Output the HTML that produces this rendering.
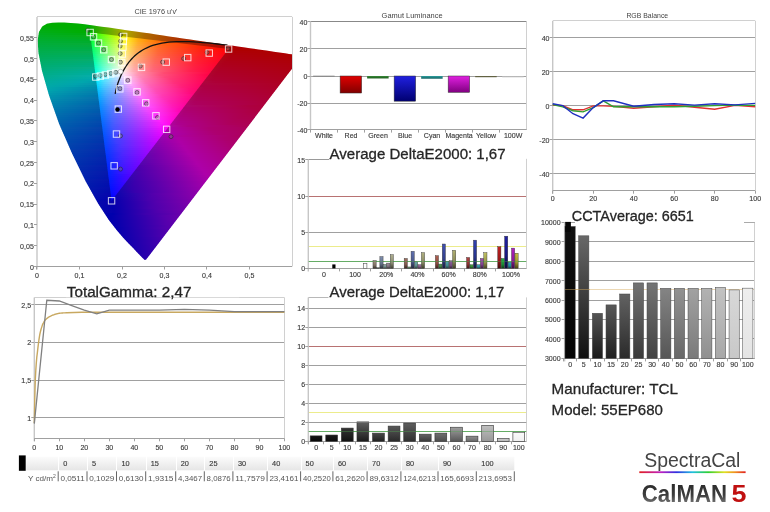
<!DOCTYPE html>
<html><head><meta charset="utf-8"><style>
html,body{margin:0;padding:0;background:#fff;width:770px;height:512px;overflow:hidden}
svg{display:block;will-change:transform}
text{font-family:'Liberation Sans', sans-serif}
</style></head><body>
<svg width="770" height="512" viewBox="0 0 770 512"><defs><clipPath id="cloc"><path d="M146.14,259.60 L146.07,259.60 L145.98,259.73 L145.84,259.73 L145.67,259.87 L145.46,259.87 L145.18,259.87 L144.82,259.88 L144.19,259.48 L143.09,258.54 L141.60,257.09 L139.45,254.87 L136.74,251.94 L133.32,248.33 L128.83,243.64 L123.42,237.89 L116.78,230.26 L108.81,219.93 L98.23,203.69 L85.74,181.48 L72.20,153.84 L59.16,123.94 L48.97,95.24 L42.05,71.05 L38.48,53.06 L37.61,40.54 L38.97,31.94 L42.22,26.48 L46.82,23.69 L52.30,22.66 L58.28,22.41 L64.34,22.51 L70.67,22.88 L77.49,23.51 L84.90,24.36 L93.04,25.41 L102.07,26.64 L112.05,28.06 L123.10,29.64 L135.25,31.42 L148.50,33.36 L162.78,35.45 L177.90,37.65 L193.43,39.94 L208.48,42.14 L223.13,44.28 L236.40,46.20 L248.13,47.93 L258.11,49.39 L266.47,50.61 L273.51,51.64 L279.62,52.54 L284.79,53.30 L288.97,53.89 L292.21,54.37 L294.74,54.74 L296.62,55.02 L297.86,55.20 L298.87,55.35 L299.66,55.46 L300.46,55.58 L301.14,55.68 L301.60,55.75 L301.83,55.78 L301.94,55.80 Z"/></clipPath><clipPath id="cplot"><rect x="37.0" y="16.9" width="255.0" height="249.6"/></clipPath><clipPath id="ctri"><path d="M228.55,48.98 L90.12,32.50 L111.56,200.82 Z"/></clipPath><linearGradient id="o0" gradientUnits="userSpaceOnUse" x1="37.0" x2="292.0" y1="0" y2="0"><stop offset="0.000" stop-color="#00ad00"/><stop offset="0.200" stop-color="#00ad00"/><stop offset="0.263" stop-color="#52ad00"/><stop offset="0.349" stop-color="#ada900"/><stop offset="0.431" stop-color="#ad6a00"/><stop offset="0.596" stop-color="#ad3000"/><stop offset="0.882" stop-color="#ad0000"/><stop offset="1.000" stop-color="#ad0000"/></linearGradient><linearGradient id="o1" gradientUnits="userSpaceOnUse" x1="37.0" x2="292.0" y1="0" y2="0"><stop offset="0.000" stop-color="#00ad00"/><stop offset="0.204" stop-color="#05ad00"/><stop offset="0.286" stop-color="#6bad00"/><stop offset="0.349" stop-color="#ada800"/><stop offset="0.431" stop-color="#ad6900"/><stop offset="0.596" stop-color="#ad2f00"/><stop offset="0.871" stop-color="#ad0000"/><stop offset="1.000" stop-color="#ad0000"/></linearGradient><linearGradient id="o2" gradientUnits="userSpaceOnUse" x1="37.0" x2="292.0" y1="0" y2="0"><stop offset="0.000" stop-color="#00ad00"/><stop offset="0.204" stop-color="#03ad00"/><stop offset="0.271" stop-color="#5aad00"/><stop offset="0.349" stop-color="#ada800"/><stop offset="0.431" stop-color="#ad6800"/><stop offset="0.596" stop-color="#ad2f00"/><stop offset="0.867" stop-color="#ad0000"/><stop offset="1.000" stop-color="#ad0000"/></linearGradient><linearGradient id="o3" gradientUnits="userSpaceOnUse" x1="37.0" x2="292.0" y1="0" y2="0"><stop offset="0.000" stop-color="#00ad00"/><stop offset="0.204" stop-color="#00ad00"/><stop offset="0.251" stop-color="#43ad00"/><stop offset="0.349" stop-color="#ada700"/><stop offset="0.431" stop-color="#ad6700"/><stop offset="0.596" stop-color="#ad2e00"/><stop offset="0.859" stop-color="#ad0000"/><stop offset="1.000" stop-color="#ad0000"/></linearGradient><linearGradient id="o4" gradientUnits="userSpaceOnUse" x1="37.0" x2="292.0" y1="0" y2="0"><stop offset="0.000" stop-color="#00ad00"/><stop offset="0.204" stop-color="#00ad00"/><stop offset="0.267" stop-color="#55ad00"/><stop offset="0.345" stop-color="#adab00"/><stop offset="0.424" stop-color="#ad6b00"/><stop offset="0.580" stop-color="#ad3100"/><stop offset="0.855" stop-color="#ad0000"/><stop offset="1.000" stop-color="#ad0000"/></linearGradient><linearGradient id="o5" gradientUnits="userSpaceOnUse" x1="37.0" x2="292.0" y1="0" y2="0"><stop offset="0.000" stop-color="#00ad0a"/><stop offset="0.157" stop-color="#00ad00"/><stop offset="0.208" stop-color="#05ad00"/><stop offset="0.286" stop-color="#6bad00"/><stop offset="0.345" stop-color="#adaa00"/><stop offset="0.424" stop-color="#ad6a00"/><stop offset="0.580" stop-color="#ad3000"/><stop offset="0.847" stop-color="#ad0000"/><stop offset="1.000" stop-color="#ad0000"/></linearGradient><linearGradient id="o6" gradientUnits="userSpaceOnUse" x1="37.0" x2="292.0" y1="0" y2="0"><stop offset="0.000" stop-color="#00ad12"/><stop offset="0.196" stop-color="#00ad00"/><stop offset="0.212" stop-color="#0cad00"/><stop offset="0.341" stop-color="#adad00"/><stop offset="0.420" stop-color="#ad6b00"/><stop offset="0.569" stop-color="#ad3200"/><stop offset="0.843" stop-color="#ad0000"/><stop offset="1.000" stop-color="#ad0000"/></linearGradient><linearGradient id="o7" gradientUnits="userSpaceOnUse" x1="37.0" x2="292.0" y1="0" y2="0"><stop offset="0.000" stop-color="#00ad18"/><stop offset="0.208" stop-color="#00ad00"/><stop offset="0.255" stop-color="#46ad00"/><stop offset="0.345" stop-color="#ada900"/><stop offset="0.424" stop-color="#ad6800"/><stop offset="0.580" stop-color="#ad2e00"/><stop offset="0.835" stop-color="#ad0000"/><stop offset="1.000" stop-color="#ad0000"/></linearGradient><linearGradient id="o8" gradientUnits="userSpaceOnUse" x1="37.0" x2="292.0" y1="0" y2="0"><stop offset="0.000" stop-color="#00ad1e"/><stop offset="0.208" stop-color="#00ad0b"/><stop offset="0.267" stop-color="#53ad00"/><stop offset="0.345" stop-color="#ada800"/><stop offset="0.420" stop-color="#ad6a00"/><stop offset="0.569" stop-color="#ad3100"/><stop offset="0.827" stop-color="#ad0000"/><stop offset="1.000" stop-color="#ad0000"/></linearGradient><linearGradient id="o9" gradientUnits="userSpaceOnUse" x1="37.0" x2="292.0" y1="0" y2="0"><stop offset="0.000" stop-color="#00ad24"/><stop offset="0.212" stop-color="#06ad15"/><stop offset="0.286" stop-color="#6bad0a"/><stop offset="0.345" stop-color="#ada700"/><stop offset="0.420" stop-color="#ad6900"/><stop offset="0.569" stop-color="#ad3000"/><stop offset="0.824" stop-color="#ad0000"/><stop offset="1.000" stop-color="#ad0000"/></linearGradient><linearGradient id="o10" gradientUnits="userSpaceOnUse" x1="37.0" x2="292.0" y1="0" y2="0"><stop offset="0.000" stop-color="#00ad2a"/><stop offset="0.212" stop-color="#03ad1d"/><stop offset="0.271" stop-color="#57ad18"/><stop offset="0.341" stop-color="#adab0d"/><stop offset="0.412" stop-color="#ad6d00"/><stop offset="0.553" stop-color="#ad3300"/><stop offset="0.816" stop-color="#ad0000"/><stop offset="1.000" stop-color="#ad0000"/></linearGradient><linearGradient id="o11" gradientUnits="userSpaceOnUse" x1="37.0" x2="292.0" y1="0" y2="0"><stop offset="0.000" stop-color="#00ad2f"/><stop offset="0.212" stop-color="#00ad25"/><stop offset="0.259" stop-color="#48ad22"/><stop offset="0.341" stop-color="#adaa19"/><stop offset="0.412" stop-color="#ad6c09"/><stop offset="0.553" stop-color="#ad3200"/><stop offset="0.808" stop-color="#ad0000"/><stop offset="1.000" stop-color="#ad0000"/></linearGradient><linearGradient id="o12" gradientUnits="userSpaceOnUse" x1="37.0" x2="292.0" y1="0" y2="0"><stop offset="0.000" stop-color="#00ad35"/><stop offset="0.212" stop-color="#00ad2d"/><stop offset="0.271" stop-color="#57ad2a"/><stop offset="0.341" stop-color="#adaa24"/><stop offset="0.412" stop-color="#ad6b12"/><stop offset="0.553" stop-color="#ad3100"/><stop offset="0.800" stop-color="#ad0000"/><stop offset="1.000" stop-color="#ad0000"/></linearGradient><linearGradient id="o13" gradientUnits="userSpaceOnUse" x1="37.0" x2="292.0" y1="0" y2="0"><stop offset="0.000" stop-color="#00ad3a"/><stop offset="0.216" stop-color="#06ad35"/><stop offset="0.290" stop-color="#6fad32"/><stop offset="0.341" stop-color="#ada92e"/><stop offset="0.412" stop-color="#ad6a19"/><stop offset="0.553" stop-color="#ad3005"/><stop offset="0.796" stop-color="#ad0000"/><stop offset="1.000" stop-color="#ad0000"/></linearGradient><linearGradient id="o14" gradientUnits="userSpaceOnUse" x1="37.0" x2="292.0" y1="0" y2="0"><stop offset="0.000" stop-color="#00ad3f"/><stop offset="0.216" stop-color="#03ad3c"/><stop offset="0.271" stop-color="#56ad3b"/><stop offset="0.341" stop-color="#ada837"/><stop offset="0.412" stop-color="#ad6920"/><stop offset="0.553" stop-color="#ad2f0b"/><stop offset="0.773" stop-color="#ad0000"/><stop offset="1.000" stop-color="#ad0000"/></linearGradient><linearGradient id="o15" gradientUnits="userSpaceOnUse" x1="37.0" x2="292.0" y1="0" y2="0"><stop offset="0.000" stop-color="#00ad44"/><stop offset="0.216" stop-color="#00ad43"/><stop offset="0.259" stop-color="#46ad43"/><stop offset="0.341" stop-color="#ada740"/><stop offset="0.412" stop-color="#ad6827"/><stop offset="0.553" stop-color="#ad2e10"/><stop offset="0.784" stop-color="#ad0000"/><stop offset="1.000" stop-color="#ad0000"/></linearGradient><linearGradient id="o16" gradientUnits="userSpaceOnUse" x1="37.0" x2="292.0" y1="0" y2="0"><stop offset="0.000" stop-color="#00ad49"/><stop offset="0.216" stop-color="#00ad4a"/><stop offset="0.275" stop-color="#5bad4b"/><stop offset="0.337" stop-color="#adac4b"/><stop offset="0.404" stop-color="#ad6c2f"/><stop offset="0.537" stop-color="#ad3217"/><stop offset="0.776" stop-color="#ad0001"/><stop offset="1.000" stop-color="#ad0000"/></linearGradient><linearGradient id="o17" gradientUnits="userSpaceOnUse" x1="37.0" x2="292.0" y1="0" y2="0"><stop offset="0.000" stop-color="#00ad4e"/><stop offset="0.220" stop-color="#06ad51"/><stop offset="0.290" stop-color="#6fad53"/><stop offset="0.337" stop-color="#adab53"/><stop offset="0.404" stop-color="#ad6b36"/><stop offset="0.537" stop-color="#ad311b"/><stop offset="0.773" stop-color="#ad0006"/><stop offset="1.000" stop-color="#ad0000"/></linearGradient><linearGradient id="o18" gradientUnits="userSpaceOnUse" x1="37.0" x2="292.0" y1="0" y2="0"><stop offset="0.000" stop-color="#00ad53"/><stop offset="0.220" stop-color="#03ad58"/><stop offset="0.271" stop-color="#55ad5a"/><stop offset="0.337" stop-color="#adaa5c"/><stop offset="0.404" stop-color="#ad6a3c"/><stop offset="0.537" stop-color="#ad3020"/><stop offset="0.765" stop-color="#ad000b"/><stop offset="1.000" stop-color="#ad0000"/></linearGradient><linearGradient id="o19" gradientUnits="userSpaceOnUse" x1="37.0" x2="292.0" y1="0" y2="0"><stop offset="0.000" stop-color="#00ad58"/><stop offset="0.220" stop-color="#00ad5f"/><stop offset="0.263" stop-color="#49ad62"/><stop offset="0.337" stop-color="#ada964"/><stop offset="0.404" stop-color="#ad6942"/><stop offset="0.537" stop-color="#ad2f24"/><stop offset="0.757" stop-color="#ad000f"/><stop offset="1.000" stop-color="#ad0000"/></linearGradient><linearGradient id="o20" gradientUnits="userSpaceOnUse" x1="37.0" x2="292.0" y1="0" y2="0"><stop offset="0.000" stop-color="#00ad5d"/><stop offset="0.220" stop-color="#00ad66"/><stop offset="0.278" stop-color="#5fad6a"/><stop offset="0.337" stop-color="#ada86c"/><stop offset="0.404" stop-color="#ad6848"/><stop offset="0.537" stop-color="#ad2e28"/><stop offset="0.753" stop-color="#ad0012"/><stop offset="1.000" stop-color="#ad0003"/></linearGradient><linearGradient id="o21" gradientUnits="userSpaceOnUse" x1="37.0" x2="292.0" y1="0" y2="0"><stop offset="0.000" stop-color="#00ad62"/><stop offset="0.224" stop-color="#06ad6e"/><stop offset="0.290" stop-color="#6fad73"/><stop offset="0.337" stop-color="#ada774"/><stop offset="0.400" stop-color="#ad6a4f"/><stop offset="0.525" stop-color="#ad312e"/><stop offset="0.745" stop-color="#ad0015"/><stop offset="1.000" stop-color="#ad0007"/></linearGradient><linearGradient id="o22" gradientUnits="userSpaceOnUse" x1="37.0" x2="292.0" y1="0" y2="0"><stop offset="0.000" stop-color="#00ad67"/><stop offset="0.224" stop-color="#02ad75"/><stop offset="0.271" stop-color="#53ad79"/><stop offset="0.333" stop-color="#adac80"/><stop offset="0.392" stop-color="#ad6e58"/><stop offset="0.510" stop-color="#ad3535"/><stop offset="0.737" stop-color="#ad0019"/><stop offset="1.000" stop-color="#ad0009"/></linearGradient><linearGradient id="o23" gradientUnits="userSpaceOnUse" x1="37.0" x2="292.0" y1="0" y2="0"><stop offset="0.000" stop-color="#00ad6c"/><stop offset="0.224" stop-color="#00ad7c"/><stop offset="0.267" stop-color="#4dad81"/><stop offset="0.333" stop-color="#adab89"/><stop offset="0.392" stop-color="#ad6d5e"/><stop offset="0.510" stop-color="#ad3339"/><stop offset="0.729" stop-color="#ad001c"/><stop offset="1.000" stop-color="#ad000c"/></linearGradient><linearGradient id="o24" gradientUnits="userSpaceOnUse" x1="37.0" x2="292.0" y1="0" y2="0"><stop offset="0.000" stop-color="#00ad71"/><stop offset="0.224" stop-color="#00ad83"/><stop offset="0.282" stop-color="#63ad8b"/><stop offset="0.333" stop-color="#adaa91"/><stop offset="0.392" stop-color="#ad6c64"/><stop offset="0.510" stop-color="#ad323c"/><stop offset="0.725" stop-color="#ad001f"/><stop offset="1.000" stop-color="#ad000e"/></linearGradient><linearGradient id="o25" gradientUnits="userSpaceOnUse" x1="37.0" x2="292.0" y1="0" y2="0"><stop offset="0.000" stop-color="#00ad76"/><stop offset="0.227" stop-color="#06ad8b"/><stop offset="0.290" stop-color="#6fad95"/><stop offset="0.333" stop-color="#ada999"/><stop offset="0.392" stop-color="#ad6b6a"/><stop offset="0.510" stop-color="#ad3140"/><stop offset="0.718" stop-color="#ad0023"/><stop offset="1.000" stop-color="#ad0010"/></linearGradient><linearGradient id="o26" gradientUnits="userSpaceOnUse" x1="37.0" x2="292.0" y1="0" y2="0"><stop offset="0.000" stop-color="#00ad7b"/><stop offset="0.227" stop-color="#02ad92"/><stop offset="0.271" stop-color="#51ad99"/><stop offset="0.333" stop-color="#ada8a2"/><stop offset="0.392" stop-color="#ad6a6f"/><stop offset="0.510" stop-color="#ad3044"/><stop offset="0.714" stop-color="#ad0026"/><stop offset="1.000" stop-color="#ad0012"/></linearGradient><linearGradient id="o27" gradientUnits="userSpaceOnUse" x1="37.0" x2="292.0" y1="0" y2="0"><stop offset="0.000" stop-color="#00ad80"/><stop offset="0.227" stop-color="#00ad9a"/><stop offset="0.271" stop-color="#50ada2"/><stop offset="0.333" stop-color="#ada7aa"/><stop offset="0.392" stop-color="#ad6975"/><stop offset="0.510" stop-color="#ad2f48"/><stop offset="0.706" stop-color="#ad0029"/><stop offset="1.000" stop-color="#ad0014"/></linearGradient><linearGradient id="o28" gradientUnits="userSpaceOnUse" x1="37.0" x2="292.0" y1="0" y2="0"><stop offset="0.000" stop-color="#00ad85"/><stop offset="0.227" stop-color="#00ada1"/><stop offset="0.282" stop-color="#62adac"/><stop offset="0.341" stop-color="#ad9ba8"/><stop offset="0.408" stop-color="#ad5c72"/><stop offset="0.545" stop-color="#ad2343"/><stop offset="0.702" stop-color="#ad002c"/><stop offset="1.000" stop-color="#ad0016"/></linearGradient><linearGradient id="o29" gradientUnits="userSpaceOnUse" x1="37.0" x2="292.0" y1="0" y2="0"><stop offset="0.000" stop-color="#00ad8a"/><stop offset="0.231" stop-color="#06adaa"/><stop offset="0.275" stop-color="#53a8ad"/><stop offset="0.345" stop-color="#ad95ab"/><stop offset="0.412" stop-color="#ad5975"/><stop offset="0.553" stop-color="#ad2045"/><stop offset="0.694" stop-color="#ad002f"/><stop offset="1.000" stop-color="#ad0018"/></linearGradient><linearGradient id="o30" gradientUnits="userSpaceOnUse" x1="37.0" x2="292.0" y1="0" y2="0"><stop offset="0.000" stop-color="#00ad8f"/><stop offset="0.231" stop-color="#02aaad"/><stop offset="0.267" stop-color="#43a2ad"/><stop offset="0.353" stop-color="#ad8aa9"/><stop offset="0.427" stop-color="#ad4e71"/><stop offset="0.584" stop-color="#ad1642"/><stop offset="0.694" stop-color="#ad0032"/><stop offset="1.000" stop-color="#ad001a"/></linearGradient><linearGradient id="o31" gradientUnits="userSpaceOnUse" x1="37.0" x2="292.0" y1="0" y2="0"><stop offset="0.000" stop-color="#00ad95"/><stop offset="0.212" stop-color="#00a6ad"/><stop offset="0.231" stop-color="#00a2ad"/><stop offset="0.267" stop-color="#409bad"/><stop offset="0.357" stop-color="#ad84ac"/><stop offset="0.431" stop-color="#ad4b74"/><stop offset="0.588" stop-color="#ad1444"/><stop offset="0.686" stop-color="#ad0035"/><stop offset="1.000" stop-color="#ad001c"/></linearGradient><linearGradient id="o32" gradientUnits="userSpaceOnUse" x1="37.0" x2="292.0" y1="0" y2="0"><stop offset="0.000" stop-color="#00ad9a"/><stop offset="0.180" stop-color="#00a6ad"/><stop offset="0.231" stop-color="#009cad"/><stop offset="0.278" stop-color="#4c92ad"/><stop offset="0.365" stop-color="#ad7aaa"/><stop offset="0.447" stop-color="#ad4271"/><stop offset="0.620" stop-color="#ad0b42"/><stop offset="0.698" stop-color="#ad0037"/><stop offset="1.000" stop-color="#ad001e"/></linearGradient><linearGradient id="o33" gradientUnits="userSpaceOnUse" x1="37.0" x2="292.0" y1="0" y2="0"><stop offset="0.000" stop-color="#00ad9f"/><stop offset="0.153" stop-color="#00a4ad"/><stop offset="0.235" stop-color="#0595ad"/><stop offset="0.282" stop-color="#4e8bad"/><stop offset="0.373" stop-color="#ad72a9"/><stop offset="0.459" stop-color="#ad3b70"/><stop offset="0.639" stop-color="#ad0341"/><stop offset="1.000" stop-color="#ad0020"/></linearGradient><linearGradient id="o34" gradientUnits="userSpaceOnUse" x1="37.0" x2="292.0" y1="0" y2="0"><stop offset="0.000" stop-color="#00ada4"/><stop offset="0.145" stop-color="#00a0ad"/><stop offset="0.235" stop-color="#018fad"/><stop offset="0.275" stop-color="#4086ad"/><stop offset="0.376" stop-color="#ad6dab"/><stop offset="0.463" stop-color="#ad3873"/><stop offset="0.643" stop-color="#ad0043"/><stop offset="1.000" stop-color="#ad0021"/></linearGradient><linearGradient id="o35" gradientUnits="userSpaceOnUse" x1="37.0" x2="292.0" y1="0" y2="0"><stop offset="0.000" stop-color="#00adaa"/><stop offset="0.235" stop-color="#0089ad"/><stop offset="0.278" stop-color="#4280ad"/><stop offset="0.384" stop-color="#ad65aa"/><stop offset="0.475" stop-color="#ad3272"/><stop offset="0.655" stop-color="#ad0044"/><stop offset="1.000" stop-color="#ad0023"/></linearGradient><linearGradient id="o36" gradientUnits="userSpaceOnUse" x1="37.0" x2="292.0" y1="0" y2="0"><stop offset="0.000" stop-color="#00acad"/><stop offset="0.235" stop-color="#0084ad"/><stop offset="0.290" stop-color="#4d79ad"/><stop offset="0.392" stop-color="#ad5da8"/><stop offset="0.490" stop-color="#ad2b6f"/><stop offset="0.647" stop-color="#ad0048"/><stop offset="1.000" stop-color="#ad0025"/></linearGradient><linearGradient id="o37" gradientUnits="userSpaceOnUse" x1="37.0" x2="292.0" y1="0" y2="0"><stop offset="0.000" stop-color="#00a7ad"/><stop offset="0.239" stop-color="#047ead"/><stop offset="0.294" stop-color="#4e73ad"/><stop offset="0.396" stop-color="#ad59aa"/><stop offset="0.494" stop-color="#ad2872"/><stop offset="0.643" stop-color="#ad004b"/><stop offset="1.000" stop-color="#ad0026"/></linearGradient><linearGradient id="o38" gradientUnits="userSpaceOnUse" x1="37.0" x2="292.0" y1="0" y2="0"><stop offset="0.000" stop-color="#00a2ad"/><stop offset="0.239" stop-color="#017aad"/><stop offset="0.282" stop-color="#3e71ad"/><stop offset="0.404" stop-color="#ad52a9"/><stop offset="0.506" stop-color="#ad2371"/><stop offset="0.635" stop-color="#ad004f"/><stop offset="1.000" stop-color="#ad0028"/></linearGradient><linearGradient id="o39" gradientUnits="userSpaceOnUse" x1="37.0" x2="292.0" y1="0" y2="0"><stop offset="0.000" stop-color="#009dad"/><stop offset="0.239" stop-color="#0075ad"/><stop offset="0.286" stop-color="#406cad"/><stop offset="0.408" stop-color="#ad4eab"/><stop offset="0.510" stop-color="#ad2073"/><stop offset="0.631" stop-color="#ad0052"/><stop offset="1.000" stop-color="#ad002a"/></linearGradient><linearGradient id="o40" gradientUnits="userSpaceOnUse" x1="37.0" x2="292.0" y1="0" y2="0"><stop offset="0.000" stop-color="#0099ad"/><stop offset="0.243" stop-color="#0671ad"/><stop offset="0.310" stop-color="#5563ad"/><stop offset="0.416" stop-color="#ad48aa"/><stop offset="0.525" stop-color="#ad1a71"/><stop offset="0.627" stop-color="#ad0056"/><stop offset="1.000" stop-color="#ad002b"/></linearGradient><linearGradient id="o41" gradientUnits="userSpaceOnUse" x1="37.0" x2="292.0" y1="0" y2="0"><stop offset="0.000" stop-color="#0095ad"/><stop offset="0.243" stop-color="#046dad"/><stop offset="0.302" stop-color="#4a61ad"/><stop offset="0.424" stop-color="#ad42a9"/><stop offset="0.537" stop-color="#ad1570"/><stop offset="0.624" stop-color="#ad0059"/><stop offset="0.984" stop-color="#ad002e"/><stop offset="1.000" stop-color="#ad002d"/></linearGradient><linearGradient id="o42" gradientUnits="userSpaceOnUse" x1="37.0" x2="292.0" y1="0" y2="0"><stop offset="0.000" stop-color="#0090ad"/><stop offset="0.243" stop-color="#0169ad"/><stop offset="0.290" stop-color="#3c60ad"/><stop offset="0.427" stop-color="#ad3eab"/><stop offset="0.541" stop-color="#ad1272"/><stop offset="0.616" stop-color="#ad005e"/><stop offset="0.957" stop-color="#ad0032"/><stop offset="1.000" stop-color="#ad002e"/></linearGradient><linearGradient id="o43" gradientUnits="userSpaceOnUse" x1="37.0" x2="292.0" y1="0" y2="0"><stop offset="0.000" stop-color="#008dad"/><stop offset="0.243" stop-color="#0065ad"/><stop offset="0.298" stop-color="#425aad"/><stop offset="0.435" stop-color="#ad39a9"/><stop offset="0.553" stop-color="#ad0c71"/><stop offset="0.620" stop-color="#ad005f"/><stop offset="0.961" stop-color="#ad0033"/><stop offset="1.000" stop-color="#ad0030"/></linearGradient><linearGradient id="o44" gradientUnits="userSpaceOnUse" x1="37.0" x2="292.0" y1="0" y2="0"><stop offset="0.000" stop-color="#0089ad"/><stop offset="0.247" stop-color="#0561ad"/><stop offset="0.318" stop-color="#5153ad"/><stop offset="0.443" stop-color="#ad33a8"/><stop offset="0.569" stop-color="#ad056f"/><stop offset="0.831" stop-color="#ad0040"/><stop offset="1.000" stop-color="#ad0032"/></linearGradient><linearGradient id="o45" gradientUnits="userSpaceOnUse" x1="37.0" x2="292.0" y1="0" y2="0"><stop offset="0.000" stop-color="#0085ad"/><stop offset="0.247" stop-color="#035ead"/><stop offset="0.310" stop-color="#4751ad"/><stop offset="0.447" stop-color="#ad30aa"/><stop offset="0.573" stop-color="#ad0071"/><stop offset="0.835" stop-color="#ad0042"/><stop offset="1.000" stop-color="#ad0033"/></linearGradient><linearGradient id="o46" gradientUnits="userSpaceOnUse" x1="37.0" x2="292.0" y1="0" y2="0"><stop offset="0.000" stop-color="#0082ad"/><stop offset="0.247" stop-color="#005bad"/><stop offset="0.298" stop-color="#3b51ad"/><stop offset="0.455" stop-color="#ad2ba9"/><stop offset="0.584" stop-color="#ad0071"/><stop offset="0.859" stop-color="#ad0041"/><stop offset="1.000" stop-color="#ad0035"/></linearGradient><linearGradient id="o47" gradientUnits="userSpaceOnUse" x1="37.0" x2="292.0" y1="0" y2="0"><stop offset="0.000" stop-color="#007fad"/><stop offset="0.247" stop-color="#0058ad"/><stop offset="0.310" stop-color="#434cad"/><stop offset="0.463" stop-color="#ad26a8"/><stop offset="0.576" stop-color="#ad0076"/><stop offset="0.835" stop-color="#ad0045"/><stop offset="1.000" stop-color="#ad0036"/></linearGradient><linearGradient id="o48" gradientUnits="userSpaceOnUse" x1="37.0" x2="292.0" y1="0" y2="0"><stop offset="0.000" stop-color="#007bad"/><stop offset="0.251" stop-color="#0554ad"/><stop offset="0.325" stop-color="#4e46ad"/><stop offset="0.467" stop-color="#ad23aa"/><stop offset="0.573" stop-color="#ad007a"/><stop offset="0.824" stop-color="#ad0049"/><stop offset="1.000" stop-color="#ad0038"/></linearGradient><linearGradient id="o49" gradientUnits="userSpaceOnUse" x1="37.0" x2="292.0" y1="0" y2="0"><stop offset="0.000" stop-color="#0078ad"/><stop offset="0.251" stop-color="#0351ad"/><stop offset="0.322" stop-color="#4844ad"/><stop offset="0.475" stop-color="#ad1ea9"/><stop offset="0.565" stop-color="#ad007f"/><stop offset="0.800" stop-color="#ad004e"/><stop offset="1.000" stop-color="#ad0039"/></linearGradient><linearGradient id="o50" gradientUnits="userSpaceOnUse" x1="37.0" x2="292.0" y1="0" y2="0"><stop offset="0.000" stop-color="#0075ad"/><stop offset="0.251" stop-color="#004fad"/><stop offset="0.306" stop-color="#3a44ad"/><stop offset="0.478" stop-color="#ad1aaa"/><stop offset="0.561" stop-color="#ad0084"/><stop offset="0.788" stop-color="#ad0051"/><stop offset="1.000" stop-color="#ad003b"/></linearGradient><linearGradient id="o51" gradientUnits="userSpaceOnUse" x1="37.0" x2="292.0" y1="0" y2="0"><stop offset="0.000" stop-color="#0073ad"/><stop offset="0.251" stop-color="#004cad"/><stop offset="0.318" stop-color="#413fad"/><stop offset="0.486" stop-color="#ad16a9"/><stop offset="0.557" stop-color="#ad0088"/><stop offset="0.776" stop-color="#ad0055"/><stop offset="1.000" stop-color="#ad003c"/></linearGradient><linearGradient id="o52" gradientUnits="userSpaceOnUse" x1="37.0" x2="292.0" y1="0" y2="0"><stop offset="0.000" stop-color="#0070ad"/><stop offset="0.255" stop-color="#0449ad"/><stop offset="0.337" stop-color="#4e39ad"/><stop offset="0.494" stop-color="#ad11a8"/><stop offset="0.553" stop-color="#ad008d"/><stop offset="0.765" stop-color="#ad0058"/><stop offset="1.000" stop-color="#ad003e"/></linearGradient><linearGradient id="o53" gradientUnits="userSpaceOnUse" x1="37.0" x2="292.0" y1="0" y2="0"><stop offset="0.000" stop-color="#006dad"/><stop offset="0.255" stop-color="#0246ad"/><stop offset="0.329" stop-color="#4638ad"/><stop offset="0.498" stop-color="#ad0daa"/><stop offset="0.549" stop-color="#ad0091"/><stop offset="0.753" stop-color="#ad005c"/><stop offset="1.000" stop-color="#ad003f"/></linearGradient><linearGradient id="o54" gradientUnits="userSpaceOnUse" x1="37.0" x2="292.0" y1="0" y2="0"><stop offset="0.000" stop-color="#006bad"/><stop offset="0.255" stop-color="#0044ad"/><stop offset="0.318" stop-color="#3c38ad"/><stop offset="0.506" stop-color="#ad07a9"/><stop offset="0.592" stop-color="#ad0084"/><stop offset="0.839" stop-color="#ad0051"/><stop offset="1.000" stop-color="#ad0041"/></linearGradient><linearGradient id="o55" gradientUnits="userSpaceOnUse" x1="37.0" x2="292.0" y1="0" y2="0"><stop offset="0.000" stop-color="#0068ad"/><stop offset="0.259" stop-color="#0641ad"/><stop offset="0.353" stop-color="#522fad"/><stop offset="0.514" stop-color="#ad00a8"/><stop offset="0.675" stop-color="#ad0070"/><stop offset="1.000" stop-color="#ad0042"/></linearGradient><linearGradient id="o56" gradientUnits="userSpaceOnUse" x1="37.0" x2="292.0" y1="0" y2="0"><stop offset="0.000" stop-color="#0066ad"/><stop offset="0.259" stop-color="#043fad"/><stop offset="0.345" stop-color="#4b2fad"/><stop offset="0.518" stop-color="#ad00a9"/><stop offset="0.682" stop-color="#ad0070"/><stop offset="1.000" stop-color="#ad0043"/></linearGradient><linearGradient id="o57" gradientUnits="userSpaceOnUse" x1="37.0" x2="292.0" y1="0" y2="0"><stop offset="0.000" stop-color="#0063ad"/><stop offset="0.259" stop-color="#023dad"/><stop offset="0.337" stop-color="#442ead"/><stop offset="0.525" stop-color="#ad00a9"/><stop offset="0.694" stop-color="#ad0070"/><stop offset="1.000" stop-color="#ad0045"/></linearGradient><linearGradient id="o58" gradientUnits="userSpaceOnUse" x1="37.0" x2="292.0" y1="0" y2="0"><stop offset="0.000" stop-color="#0061ad"/><stop offset="0.259" stop-color="#003bad"/><stop offset="0.325" stop-color="#3b2fad"/><stop offset="0.518" stop-color="#ab00ad"/><stop offset="0.702" stop-color="#ad0070"/><stop offset="1.000" stop-color="#ad0046"/></linearGradient><linearGradient id="o59" gradientUnits="userSpaceOnUse" x1="37.0" x2="292.0" y1="0" y2="0"><stop offset="0.000" stop-color="#005fad"/><stop offset="0.263" stop-color="#0538ad"/><stop offset="0.361" stop-color="#5025ad"/><stop offset="0.514" stop-color="#a500ad"/><stop offset="0.573" stop-color="#ad0099"/><stop offset="0.780" stop-color="#ad0063"/><stop offset="1.000" stop-color="#ad0048"/></linearGradient><linearGradient id="o60" gradientUnits="userSpaceOnUse" x1="37.0" x2="292.0" y1="0" y2="0"><stop offset="0.000" stop-color="#005dad"/><stop offset="0.263" stop-color="#0436ad"/><stop offset="0.357" stop-color="#4c24ad"/><stop offset="0.506" stop-color="#9e00ad"/><stop offset="0.553" stop-color="#ad00a5"/><stop offset="0.737" stop-color="#ad006d"/><stop offset="1.000" stop-color="#ad0049"/></linearGradient><linearGradient id="o61" gradientUnits="userSpaceOnUse" x1="37.0" x2="292.0" y1="0" y2="0"><stop offset="0.000" stop-color="#005bad"/><stop offset="0.263" stop-color="#0234ad"/><stop offset="0.345" stop-color="#4325ad"/><stop offset="0.502" stop-color="#9900ad"/><stop offset="0.557" stop-color="#ad00a6"/><stop offset="0.745" stop-color="#ad006d"/><stop offset="1.000" stop-color="#ad004b"/></linearGradient><linearGradient id="o62" gradientUnits="userSpaceOnUse" x1="37.0" x2="292.0" y1="0" y2="0"><stop offset="0.000" stop-color="#0059ad"/><stop offset="0.263" stop-color="#0033ad"/><stop offset="0.337" stop-color="#3c25ad"/><stop offset="0.494" stop-color="#9300ad"/><stop offset="0.561" stop-color="#ad00a7"/><stop offset="0.749" stop-color="#ad006f"/><stop offset="1.000" stop-color="#ad004c"/></linearGradient><linearGradient id="o63" gradientUnits="userSpaceOnUse" x1="37.0" x2="292.0" y1="0" y2="0"><stop offset="0.000" stop-color="#0057ad"/><stop offset="0.267" stop-color="#0530ad"/><stop offset="0.373" stop-color="#501cad"/><stop offset="0.490" stop-color="#8e00ad"/><stop offset="0.569" stop-color="#ad00a6"/><stop offset="0.761" stop-color="#ad006e"/><stop offset="1.000" stop-color="#ad004d"/></linearGradient><linearGradient id="o64" gradientUnits="userSpaceOnUse" x1="37.0" x2="292.0" y1="0" y2="0"><stop offset="0.000" stop-color="#0055ad"/><stop offset="0.267" stop-color="#032ead"/><stop offset="0.365" stop-color="#4a1cad"/><stop offset="0.482" stop-color="#8800ad"/><stop offset="0.573" stop-color="#ad00a8"/><stop offset="0.765" stop-color="#ad006f"/><stop offset="1.000" stop-color="#ad004f"/></linearGradient><linearGradient id="o65" gradientUnits="userSpaceOnUse" x1="37.0" x2="292.0" y1="0" y2="0"><stop offset="0.000" stop-color="#0053ad"/><stop offset="0.267" stop-color="#022dad"/><stop offset="0.357" stop-color="#441cad"/><stop offset="0.478" stop-color="#8300ad"/><stop offset="0.580" stop-color="#ad00a7"/><stop offset="0.780" stop-color="#ad006e"/><stop offset="1.000" stop-color="#ad0050"/></linearGradient><linearGradient id="o66" gradientUnits="userSpaceOnUse" x1="37.0" x2="292.0" y1="0" y2="0"><stop offset="0.000" stop-color="#0051ad"/><stop offset="0.271" stop-color="#062aad"/><stop offset="0.388" stop-color="#5313ad"/><stop offset="0.475" stop-color="#7f00ad"/><stop offset="0.584" stop-color="#ad00a8"/><stop offset="0.784" stop-color="#ad006f"/><stop offset="1.000" stop-color="#ad0052"/></linearGradient><linearGradient id="o67" gradientUnits="userSpaceOnUse" x1="37.0" x2="292.0" y1="0" y2="0"><stop offset="0.000" stop-color="#004fad"/><stop offset="0.271" stop-color="#0429ad"/><stop offset="0.380" stop-color="#4e13ad"/><stop offset="0.471" stop-color="#7b00ad"/><stop offset="0.592" stop-color="#ad00a7"/><stop offset="0.796" stop-color="#ad006f"/><stop offset="1.000" stop-color="#ad0053"/></linearGradient><linearGradient id="o68" gradientUnits="userSpaceOnUse" x1="37.0" x2="292.0" y1="0" y2="0"><stop offset="0.000" stop-color="#004dad"/><stop offset="0.271" stop-color="#0327ad"/><stop offset="0.373" stop-color="#4813ad"/><stop offset="0.463" stop-color="#7500ad"/><stop offset="0.596" stop-color="#ad00a9"/><stop offset="0.800" stop-color="#ad0070"/><stop offset="1.000" stop-color="#ad0054"/></linearGradient><linearGradient id="o69" gradientUnits="userSpaceOnUse" x1="37.0" x2="292.0" y1="0" y2="0"><stop offset="0.000" stop-color="#004cad"/><stop offset="0.271" stop-color="#0126ad"/><stop offset="0.365" stop-color="#4213ad"/><stop offset="0.459" stop-color="#7100ad"/><stop offset="0.604" stop-color="#ad00a8"/><stop offset="0.816" stop-color="#ad006f"/><stop offset="1.000" stop-color="#ad0056"/></linearGradient><linearGradient id="o70" gradientUnits="userSpaceOnUse" x1="37.0" x2="292.0" y1="0" y2="0"><stop offset="0.000" stop-color="#004aad"/><stop offset="0.275" stop-color="#0523ad"/><stop offset="0.396" stop-color="#510aad"/><stop offset="0.467" stop-color="#7300ad"/><stop offset="0.612" stop-color="#ad00a7"/><stop offset="0.827" stop-color="#ad006f"/><stop offset="1.000" stop-color="#ad0057"/></linearGradient><linearGradient id="o71" gradientUnits="userSpaceOnUse" x1="37.0" x2="292.0" y1="0" y2="0"><stop offset="0.000" stop-color="#0048ad"/><stop offset="0.275" stop-color="#0422ad"/><stop offset="0.392" stop-color="#4e09ad"/><stop offset="0.463" stop-color="#6f00ad"/><stop offset="0.616" stop-color="#ad00a8"/><stop offset="0.831" stop-color="#ad0070"/><stop offset="1.000" stop-color="#ad0058"/></linearGradient><linearGradient id="o72" gradientUnits="userSpaceOnUse" x1="37.0" x2="292.0" y1="0" y2="0"><stop offset="0.000" stop-color="#0047ad"/><stop offset="0.275" stop-color="#0320ad"/><stop offset="0.384" stop-color="#4809ad"/><stop offset="0.459" stop-color="#6c00ad"/><stop offset="0.624" stop-color="#ad00a8"/><stop offset="0.843" stop-color="#ad006f"/><stop offset="1.000" stop-color="#ad005a"/></linearGradient><linearGradient id="o73" gradientUnits="userSpaceOnUse" x1="37.0" x2="292.0" y1="0" y2="0"><stop offset="0.000" stop-color="#0045ad"/><stop offset="0.275" stop-color="#011fad"/><stop offset="0.373" stop-color="#410bad"/><stop offset="0.439" stop-color="#6100ad"/><stop offset="0.627" stop-color="#ad00a9"/><stop offset="0.851" stop-color="#ad0070"/><stop offset="1.000" stop-color="#ad005b"/></linearGradient><linearGradient id="o74" gradientUnits="userSpaceOnUse" x1="37.0" x2="292.0" y1="0" y2="0"><stop offset="0.000" stop-color="#0044ad"/><stop offset="0.278" stop-color="#051dad"/><stop offset="0.408" stop-color="#5100ad"/><stop offset="0.635" stop-color="#ad00a8"/><stop offset="0.863" stop-color="#ad006f"/><stop offset="1.000" stop-color="#ad005d"/></linearGradient><linearGradient id="o75" gradientUnits="userSpaceOnUse" x1="37.0" x2="292.0" y1="0" y2="0"><stop offset="0.000" stop-color="#0042ad"/><stop offset="0.278" stop-color="#041bad"/><stop offset="0.400" stop-color="#4c00ad"/><stop offset="0.643" stop-color="#ad00a8"/><stop offset="0.875" stop-color="#ad006f"/><stop offset="1.000" stop-color="#ad005e"/></linearGradient><linearGradient id="o76" gradientUnits="userSpaceOnUse" x1="37.0" x2="292.0" y1="0" y2="0"><stop offset="0.000" stop-color="#0041ad"/><stop offset="0.278" stop-color="#031aad"/><stop offset="0.392" stop-color="#4700ad"/><stop offset="0.647" stop-color="#ad00a9"/><stop offset="0.878" stop-color="#ad0070"/><stop offset="1.000" stop-color="#ad005f"/></linearGradient><linearGradient id="o77" gradientUnits="userSpaceOnUse" x1="37.0" x2="292.0" y1="0" y2="0"><stop offset="0.000" stop-color="#003fad"/><stop offset="0.282" stop-color="#0618ad"/><stop offset="0.412" stop-color="#4f00ad"/><stop offset="0.655" stop-color="#ad00a8"/><stop offset="0.894" stop-color="#ad006f"/><stop offset="1.000" stop-color="#ad0061"/></linearGradient><linearGradient id="o78" gradientUnits="userSpaceOnUse" x1="37.0" x2="292.0" y1="0" y2="0"><stop offset="0.000" stop-color="#003ead"/><stop offset="0.282" stop-color="#0517ad"/><stop offset="0.408" stop-color="#4c00ad"/><stop offset="0.659" stop-color="#ad00a9"/><stop offset="0.898" stop-color="#ad0070"/><stop offset="1.000" stop-color="#ad0062"/></linearGradient><linearGradient id="o79" gradientUnits="userSpaceOnUse" x1="37.0" x2="292.0" y1="0" y2="0"><stop offset="0.000" stop-color="#003dad"/><stop offset="0.282" stop-color="#0415ad"/><stop offset="0.400" stop-color="#4700ad"/><stop offset="0.667" stop-color="#ad00a8"/><stop offset="0.910" stop-color="#ad0070"/><stop offset="1.000" stop-color="#ad0063"/></linearGradient><linearGradient id="o80" gradientUnits="userSpaceOnUse" x1="37.0" x2="292.0" y1="0" y2="0"><stop offset="0.000" stop-color="#003bad"/><stop offset="0.282" stop-color="#0214ad"/><stop offset="0.396" stop-color="#4400ad"/><stop offset="0.675" stop-color="#ad00a8"/><stop offset="0.922" stop-color="#ad006f"/><stop offset="1.000" stop-color="#ad0065"/></linearGradient><linearGradient id="o81" gradientUnits="userSpaceOnUse" x1="37.0" x2="292.0" y1="0" y2="0"><stop offset="0.000" stop-color="#003aad"/><stop offset="0.286" stop-color="#0612ad"/><stop offset="0.392" stop-color="#4100ad"/><stop offset="0.678" stop-color="#ad00a9"/><stop offset="0.929" stop-color="#ad0070"/><stop offset="1.000" stop-color="#ad0066"/></linearGradient><linearGradient id="o82" gradientUnits="userSpaceOnUse" x1="37.0" x2="292.0" y1="0" y2="0"><stop offset="0.000" stop-color="#0039ad"/><stop offset="0.286" stop-color="#0510ad"/><stop offset="0.384" stop-color="#3c00ad"/><stop offset="0.686" stop-color="#ad00a8"/><stop offset="0.941" stop-color="#ad006f"/><stop offset="1.000" stop-color="#ad0067"/></linearGradient><linearGradient id="o83" gradientUnits="userSpaceOnUse" x1="37.0" x2="292.0" y1="0" y2="0"><stop offset="0.000" stop-color="#0037ad"/><stop offset="0.286" stop-color="#030fad"/><stop offset="0.380" stop-color="#3a00ad"/><stop offset="0.690" stop-color="#ad00a9"/><stop offset="0.945" stop-color="#ad0070"/><stop offset="1.000" stop-color="#ad0069"/></linearGradient><linearGradient id="o84" gradientUnits="userSpaceOnUse" x1="37.0" x2="292.0" y1="0" y2="0"><stop offset="0.000" stop-color="#0036ad"/><stop offset="0.286" stop-color="#020ead"/><stop offset="0.376" stop-color="#3700ad"/><stop offset="0.694" stop-color="#ad00aa"/><stop offset="0.949" stop-color="#ad0071"/><stop offset="1.000" stop-color="#ad006a"/></linearGradient><linearGradient id="o85" gradientUnits="userSpaceOnUse" x1="37.0" x2="292.0" y1="0" y2="0"><stop offset="0.000" stop-color="#0035ad"/><stop offset="0.290" stop-color="#050cad"/><stop offset="0.376" stop-color="#3600ad"/><stop offset="0.702" stop-color="#ad00a9"/><stop offset="0.965" stop-color="#ad0070"/><stop offset="1.000" stop-color="#ad006b"/></linearGradient><linearGradient id="o86" gradientUnits="userSpaceOnUse" x1="37.0" x2="292.0" y1="0" y2="0"><stop offset="0.000" stop-color="#0034ad"/><stop offset="0.290" stop-color="#040aad"/><stop offset="0.376" stop-color="#3500ad"/><stop offset="0.706" stop-color="#ad00aa"/><stop offset="0.969" stop-color="#ad0071"/><stop offset="1.000" stop-color="#ad006d"/></linearGradient><linearGradient id="o87" gradientUnits="userSpaceOnUse" x1="37.0" x2="292.0" y1="0" y2="0"><stop offset="0.000" stop-color="#0033ad"/><stop offset="0.290" stop-color="#0309ad"/><stop offset="0.388" stop-color="#3900ad"/><stop offset="0.714" stop-color="#ad00aa"/><stop offset="0.980" stop-color="#ad0071"/><stop offset="1.000" stop-color="#ad006e"/></linearGradient><linearGradient id="o88" gradientUnits="userSpaceOnUse" x1="37.0" x2="292.0" y1="0" y2="0"><stop offset="0.000" stop-color="#0031ad"/><stop offset="0.294" stop-color="#0606ad"/><stop offset="0.459" stop-color="#5500ad"/><stop offset="0.725" stop-color="#ad00a8"/><stop offset="1.000" stop-color="#ad006f"/></linearGradient><linearGradient id="o89" gradientUnits="userSpaceOnUse" x1="37.0" x2="292.0" y1="0" y2="0"><stop offset="0.000" stop-color="#0030ad"/><stop offset="0.294" stop-color="#0505ad"/><stop offset="0.451" stop-color="#5000ad"/><stop offset="0.729" stop-color="#ad00a9"/><stop offset="1.000" stop-color="#ad0071"/></linearGradient><linearGradient id="o90" gradientUnits="userSpaceOnUse" x1="37.0" x2="292.0" y1="0" y2="0"><stop offset="0.000" stop-color="#002fad"/><stop offset="0.294" stop-color="#0403ad"/><stop offset="0.443" stop-color="#4c00ad"/><stop offset="0.737" stop-color="#ad00a8"/><stop offset="1.000" stop-color="#ad0072"/></linearGradient><linearGradient id="o91" gradientUnits="userSpaceOnUse" x1="37.0" x2="292.0" y1="0" y2="0"><stop offset="0.000" stop-color="#002ead"/><stop offset="0.294" stop-color="#0301ad"/><stop offset="0.435" stop-color="#4800ad"/><stop offset="0.745" stop-color="#ad00a8"/><stop offset="1.000" stop-color="#ad0073"/></linearGradient><linearGradient id="o92" gradientUnits="userSpaceOnUse" x1="37.0" x2="292.0" y1="0" y2="0"><stop offset="0.000" stop-color="#002dad"/><stop offset="0.298" stop-color="#0600ad"/><stop offset="0.467" stop-color="#5300ad"/><stop offset="0.749" stop-color="#ad00a9"/><stop offset="1.000" stop-color="#ad0075"/></linearGradient><linearGradient id="o93" gradientUnits="userSpaceOnUse" x1="37.0" x2="292.0" y1="0" y2="0"><stop offset="0.000" stop-color="#002cad"/><stop offset="0.298" stop-color="#0500ad"/><stop offset="0.463" stop-color="#5000ad"/><stop offset="0.757" stop-color="#ad00a8"/><stop offset="1.000" stop-color="#ad0076"/></linearGradient><linearGradient id="o94" gradientUnits="userSpaceOnUse" x1="37.0" x2="292.0" y1="0" y2="0"><stop offset="0.000" stop-color="#002bad"/><stop offset="0.298" stop-color="#0400ad"/><stop offset="0.455" stop-color="#4c00ad"/><stop offset="0.765" stop-color="#ad00a8"/><stop offset="1.000" stop-color="#ad0077"/></linearGradient><linearGradient id="o95" gradientUnits="userSpaceOnUse" x1="37.0" x2="292.0" y1="0" y2="0"><stop offset="0.000" stop-color="#002aad"/><stop offset="0.298" stop-color="#0300ad"/><stop offset="0.447" stop-color="#4900ad"/><stop offset="0.769" stop-color="#ad00a8"/><stop offset="1.000" stop-color="#ad0079"/></linearGradient><linearGradient id="o96" gradientUnits="userSpaceOnUse" x1="37.0" x2="292.0" y1="0" y2="0"><stop offset="0.000" stop-color="#0029ad"/><stop offset="0.302" stop-color="#0500ad"/><stop offset="0.478" stop-color="#5300ad"/><stop offset="0.776" stop-color="#ad00a8"/><stop offset="1.000" stop-color="#ad007a"/></linearGradient><linearGradient id="o97" gradientUnits="userSpaceOnUse" x1="37.0" x2="292.0" y1="0" y2="0"><stop offset="0.000" stop-color="#0028ad"/><stop offset="0.302" stop-color="#0500ad"/><stop offset="0.471" stop-color="#4f00ad"/><stop offset="0.784" stop-color="#ad00a8"/><stop offset="1.000" stop-color="#ad007b"/></linearGradient><linearGradient id="o98" gradientUnits="userSpaceOnUse" x1="37.0" x2="292.0" y1="0" y2="0"><stop offset="0.000" stop-color="#0027ad"/><stop offset="0.298" stop-color="#0000ad"/><stop offset="0.427" stop-color="#3e00ad"/><stop offset="0.788" stop-color="#ad00a8"/><stop offset="1.000" stop-color="#ad007d"/></linearGradient><linearGradient id="o99" gradientUnits="userSpaceOnUse" x1="37.0" x2="292.0" y1="0" y2="0"><stop offset="0.000" stop-color="#0026ad"/><stop offset="0.290" stop-color="#0000ad"/><stop offset="0.502" stop-color="#5800ad"/><stop offset="0.796" stop-color="#ad00a8"/><stop offset="1.000" stop-color="#ad007e"/></linearGradient><linearGradient id="o100" gradientUnits="userSpaceOnUse" x1="37.0" x2="292.0" y1="0" y2="0"><stop offset="0.000" stop-color="#0025ad"/><stop offset="0.290" stop-color="#0000ad"/><stop offset="0.514" stop-color="#5b00ad"/><stop offset="0.804" stop-color="#ad00a8"/><stop offset="1.000" stop-color="#ad007f"/></linearGradient><linearGradient id="o101" gradientUnits="userSpaceOnUse" x1="37.0" x2="292.0" y1="0" y2="0"><stop offset="0.000" stop-color="#0024ad"/><stop offset="0.282" stop-color="#0000ad"/><stop offset="0.310" stop-color="#0700ad"/><stop offset="0.514" stop-color="#5a00ad"/><stop offset="0.808" stop-color="#ad00a8"/><stop offset="1.000" stop-color="#ad0081"/></linearGradient><linearGradient id="o102" gradientUnits="userSpaceOnUse" x1="37.0" x2="292.0" y1="0" y2="0"><stop offset="0.000" stop-color="#0023ad"/><stop offset="0.278" stop-color="#0000ad"/><stop offset="0.310" stop-color="#0700ad"/><stop offset="0.506" stop-color="#5600ad"/><stop offset="0.816" stop-color="#ad00a8"/><stop offset="1.000" stop-color="#ad0082"/></linearGradient><linearGradient id="o103" gradientUnits="userSpaceOnUse" x1="37.0" x2="292.0" y1="0" y2="0"><stop offset="0.000" stop-color="#0022ad"/><stop offset="0.271" stop-color="#0000ad"/><stop offset="0.310" stop-color="#0600ad"/><stop offset="0.502" stop-color="#5400ad"/><stop offset="0.820" stop-color="#ad00a8"/><stop offset="1.000" stop-color="#ad0083"/></linearGradient><linearGradient id="o104" gradientUnits="userSpaceOnUse" x1="37.0" x2="292.0" y1="0" y2="0"><stop offset="0.000" stop-color="#0021ad"/><stop offset="0.267" stop-color="#0000ad"/><stop offset="0.314" stop-color="#0800ad"/><stop offset="0.525" stop-color="#5a00ad"/><stop offset="0.827" stop-color="#ad00a8"/><stop offset="1.000" stop-color="#ad0085"/></linearGradient><linearGradient id="o105" gradientUnits="userSpaceOnUse" x1="37.0" x2="292.0" y1="0" y2="0"><stop offset="0.000" stop-color="#0020ad"/><stop offset="0.259" stop-color="#0000ad"/><stop offset="0.310" stop-color="#0400ad"/><stop offset="0.490" stop-color="#4e00ad"/><stop offset="0.835" stop-color="#ad00a8"/><stop offset="1.000" stop-color="#ad0086"/></linearGradient><linearGradient id="o106" gradientUnits="userSpaceOnUse" x1="37.0" x2="292.0" y1="0" y2="0"><stop offset="0.000" stop-color="#001fad"/><stop offset="0.255" stop-color="#0000ad"/><stop offset="0.314" stop-color="#0600ad"/><stop offset="0.518" stop-color="#5600ad"/><stop offset="0.839" stop-color="#ad00a8"/><stop offset="1.000" stop-color="#ad0087"/></linearGradient><linearGradient id="o107" gradientUnits="userSpaceOnUse" x1="37.0" x2="292.0" y1="0" y2="0"><stop offset="0.000" stop-color="#001ead"/><stop offset="0.247" stop-color="#0000ad"/><stop offset="0.314" stop-color="#0600ad"/><stop offset="0.510" stop-color="#5200ad"/><stop offset="0.847" stop-color="#ad00a8"/><stop offset="1.000" stop-color="#ad0089"/></linearGradient><linearGradient id="o108" gradientUnits="userSpaceOnUse" x1="37.0" x2="292.0" y1="0" y2="0"><stop offset="0.000" stop-color="#001dad"/><stop offset="0.239" stop-color="#0000ad"/><stop offset="0.314" stop-color="#0500ad"/><stop offset="0.506" stop-color="#5000ad"/><stop offset="0.855" stop-color="#ad00a8"/><stop offset="1.000" stop-color="#ad008a"/></linearGradient><linearGradient id="o109" gradientUnits="userSpaceOnUse" x1="37.0" x2="292.0" y1="0" y2="0"><stop offset="0.000" stop-color="#001cad"/><stop offset="0.235" stop-color="#0000ad"/><stop offset="0.314" stop-color="#0400ad"/><stop offset="0.498" stop-color="#4d00ad"/><stop offset="0.859" stop-color="#ad00a8"/><stop offset="1.000" stop-color="#ad008b"/></linearGradient><linearGradient id="o110" gradientUnits="userSpaceOnUse" x1="37.0" x2="292.0" y1="0" y2="0"><stop offset="0.000" stop-color="#001bad"/><stop offset="0.227" stop-color="#0000ad"/><stop offset="0.318" stop-color="#0600ad"/><stop offset="0.525" stop-color="#5400ad"/><stop offset="0.867" stop-color="#ad00a8"/><stop offset="1.000" stop-color="#ad008d"/></linearGradient><linearGradient id="o111" gradientUnits="userSpaceOnUse" x1="37.0" x2="292.0" y1="0" y2="0"><stop offset="0.000" stop-color="#001bad"/><stop offset="0.227" stop-color="#0000ad"/><stop offset="0.318" stop-color="#0500ad"/><stop offset="0.522" stop-color="#5200ad"/><stop offset="0.871" stop-color="#ad00a8"/><stop offset="1.000" stop-color="#ad008e"/></linearGradient><linearGradient id="o112" gradientUnits="userSpaceOnUse" x1="37.0" x2="292.0" y1="0" y2="0"><stop offset="0.000" stop-color="#001aad"/><stop offset="0.220" stop-color="#0000ad"/><stop offset="0.318" stop-color="#0500ad"/><stop offset="0.514" stop-color="#4f00ad"/><stop offset="0.878" stop-color="#ad00a8"/><stop offset="1.000" stop-color="#ad008f"/></linearGradient><linearGradient id="o113" gradientUnits="userSpaceOnUse" x1="37.0" x2="292.0" y1="0" y2="0"><stop offset="0.000" stop-color="#0019ad"/><stop offset="0.216" stop-color="#0000ad"/><stop offset="0.318" stop-color="#0400ad"/><stop offset="0.506" stop-color="#4c00ad"/><stop offset="0.886" stop-color="#ad00a8"/><stop offset="1.000" stop-color="#ad0090"/></linearGradient><linearGradient id="o114" gradientUnits="userSpaceOnUse" x1="37.0" x2="292.0" y1="0" y2="0"><stop offset="0.000" stop-color="#0018ad"/><stop offset="0.208" stop-color="#0000ad"/><stop offset="0.322" stop-color="#0600ad"/><stop offset="0.537" stop-color="#5400ad"/><stop offset="0.890" stop-color="#ad00a8"/><stop offset="1.000" stop-color="#ad0092"/></linearGradient><linearGradient id="o115" gradientUnits="userSpaceOnUse" x1="37.0" x2="292.0" y1="0" y2="0"><stop offset="0.000" stop-color="#0017ad"/><stop offset="0.204" stop-color="#0000ad"/><stop offset="0.322" stop-color="#0500ad"/><stop offset="0.529" stop-color="#5100ad"/><stop offset="0.898" stop-color="#ad00a8"/><stop offset="1.000" stop-color="#ad0093"/></linearGradient><linearGradient id="o116" gradientUnits="userSpaceOnUse" x1="37.0" x2="292.0" y1="0" y2="0"><stop offset="0.000" stop-color="#0016ad"/><stop offset="0.196" stop-color="#0000ad"/><stop offset="0.322" stop-color="#0400ad"/><stop offset="0.525" stop-color="#4f00ad"/><stop offset="0.906" stop-color="#ad00a8"/><stop offset="1.000" stop-color="#ad0094"/></linearGradient><linearGradient id="o117" gradientUnits="userSpaceOnUse" x1="37.0" x2="292.0" y1="0" y2="0"><stop offset="0.000" stop-color="#0015ad"/><stop offset="0.192" stop-color="#0000ad"/><stop offset="0.325" stop-color="#0600ad"/><stop offset="0.553" stop-color="#5600ad"/><stop offset="0.910" stop-color="#ad00a8"/><stop offset="1.000" stop-color="#ad0096"/></linearGradient><linearGradient id="o118" gradientUnits="userSpaceOnUse" x1="37.0" x2="292.0" y1="0" y2="0"><stop offset="0.000" stop-color="#0015ad"/><stop offset="0.188" stop-color="#0000ad"/><stop offset="0.325" stop-color="#0600ad"/><stop offset="0.545" stop-color="#5300ad"/><stop offset="0.918" stop-color="#ad00a8"/><stop offset="1.000" stop-color="#ad0097"/></linearGradient><linearGradient id="o119" gradientUnits="userSpaceOnUse" x1="37.0" x2="292.0" y1="0" y2="0"><stop offset="0.000" stop-color="#0014ad"/><stop offset="0.180" stop-color="#0000ad"/><stop offset="0.325" stop-color="#0500ad"/><stop offset="0.541" stop-color="#5100ad"/><stop offset="0.925" stop-color="#ad00a8"/><stop offset="1.000" stop-color="#ad0098"/></linearGradient><linearGradient id="o120" gradientUnits="userSpaceOnUse" x1="37.0" x2="292.0" y1="0" y2="0"><stop offset="0.000" stop-color="#0013ad"/><stop offset="0.176" stop-color="#0000ad"/><stop offset="0.325" stop-color="#0400ad"/><stop offset="0.533" stop-color="#4e00ad"/><stop offset="0.929" stop-color="#ad00a8"/><stop offset="1.000" stop-color="#ad009a"/></linearGradient><linearGradient id="o121" gradientUnits="userSpaceOnUse" x1="37.0" x2="292.0" y1="0" y2="0"><stop offset="0.000" stop-color="#0012ad"/><stop offset="0.169" stop-color="#0000ad"/><stop offset="0.329" stop-color="#0600ad"/><stop offset="0.561" stop-color="#5500ad"/><stop offset="0.937" stop-color="#ad00a8"/><stop offset="1.000" stop-color="#ad009b"/></linearGradient><linearGradient id="i0" gradientUnits="userSpaceOnUse" x1="89.0" x2="230.0" y1="0" y2="0"><stop offset="0.000" stop-color="#00ff08"/><stop offset="0.007" stop-color="#00ff07"/><stop offset="0.064" stop-color="#49ff00"/><stop offset="0.248" stop-color="#ffff00"/><stop offset="0.348" stop-color="#ffb200"/><stop offset="0.518" stop-color="#ff6c00"/><stop offset="0.851" stop-color="#ff2500"/><stop offset="1.000" stop-color="#ff0f00"/></linearGradient><linearGradient id="i1" gradientUnits="userSpaceOnUse" x1="89.0" x2="230.0" y1="0" y2="0"><stop offset="0.000" stop-color="#00ff19"/><stop offset="0.014" stop-color="#0aff17"/><stop offset="0.099" stop-color="#6cff0d"/><stop offset="0.213" stop-color="#dcff00"/><stop offset="0.255" stop-color="#fff600"/><stop offset="0.362" stop-color="#ffa900"/><stop offset="0.546" stop-color="#ff6200"/><stop offset="0.929" stop-color="#ff1800"/><stop offset="1.000" stop-color="#ff0d00"/></linearGradient><linearGradient id="i2" gradientUnits="userSpaceOnUse" x1="89.0" x2="230.0" y1="0" y2="0"><stop offset="0.000" stop-color="#00ff26"/><stop offset="0.014" stop-color="#06ff25"/><stop offset="0.085" stop-color="#5dff1f"/><stop offset="0.248" stop-color="#fffc08"/><stop offset="0.348" stop-color="#ffb000"/><stop offset="0.518" stop-color="#ff6900"/><stop offset="0.858" stop-color="#ff2200"/><stop offset="1.000" stop-color="#ff0c00"/></linearGradient><linearGradient id="i3" gradientUnits="userSpaceOnUse" x1="89.0" x2="230.0" y1="0" y2="0"><stop offset="0.000" stop-color="#00ff32"/><stop offset="0.014" stop-color="#02ff31"/><stop offset="0.064" stop-color="#45ff2e"/><stop offset="0.248" stop-color="#fffb1d"/><stop offset="0.348" stop-color="#ffae0a"/><stop offset="0.475" stop-color="#ff7600"/><stop offset="0.766" stop-color="#ff3000"/><stop offset="1.000" stop-color="#ff0a00"/></linearGradient><linearGradient id="i4" gradientUnits="userSpaceOnUse" x1="89.0" x2="230.0" y1="0" y2="0"><stop offset="0.000" stop-color="#00ff3e"/><stop offset="0.014" stop-color="#00ff3d"/><stop offset="0.071" stop-color="#4cff3a"/><stop offset="0.248" stop-color="#fffa2d"/><stop offset="0.348" stop-color="#ffad18"/><stop offset="0.518" stop-color="#ff6600"/><stop offset="0.858" stop-color="#ff1f00"/><stop offset="1.000" stop-color="#ff0800"/></linearGradient><linearGradient id="i5" gradientUnits="userSpaceOnUse" x1="89.0" x2="230.0" y1="0" y2="0"><stop offset="0.000" stop-color="#00ff49"/><stop offset="0.014" stop-color="#00ff48"/><stop offset="0.092" stop-color="#62ff45"/><stop offset="0.248" stop-color="#fff93c"/><stop offset="0.348" stop-color="#ffac25"/><stop offset="0.518" stop-color="#ff650e"/><stop offset="0.730" stop-color="#ff3300"/><stop offset="1.000" stop-color="#ff0600"/></linearGradient><linearGradient id="i6" gradientUnits="userSpaceOnUse" x1="89.0" x2="230.0" y1="0" y2="0"><stop offset="0.000" stop-color="#00ff53"/><stop offset="0.021" stop-color="#06ff53"/><stop offset="0.085" stop-color="#59ff51"/><stop offset="0.241" stop-color="#ffff4c"/><stop offset="0.340" stop-color="#ffaf31"/><stop offset="0.504" stop-color="#ff6819"/><stop offset="0.830" stop-color="#ff2100"/><stop offset="1.000" stop-color="#ff0400"/></linearGradient><linearGradient id="i7" gradientUnits="userSpaceOnUse" x1="89.0" x2="230.0" y1="0" y2="0"><stop offset="0.000" stop-color="#00ff5e"/><stop offset="0.021" stop-color="#01ff5d"/><stop offset="0.064" stop-color="#40ff5d"/><stop offset="0.241" stop-color="#fffe5a"/><stop offset="0.333" stop-color="#ffb13e"/><stop offset="0.489" stop-color="#ff6b23"/><stop offset="0.801" stop-color="#ff2407"/><stop offset="1.000" stop-color="#ff0100"/></linearGradient><linearGradient id="i8" gradientUnits="userSpaceOnUse" x1="89.0" x2="230.0" y1="0" y2="0"><stop offset="0.000" stop-color="#00ff68"/><stop offset="0.021" stop-color="#00ff68"/><stop offset="0.078" stop-color="#4fff68"/><stop offset="0.241" stop-color="#fffd67"/><stop offset="0.333" stop-color="#ffb048"/><stop offset="0.489" stop-color="#ff6a2b"/><stop offset="0.801" stop-color="#ff230e"/><stop offset="1.000" stop-color="#ff0000"/></linearGradient><linearGradient id="i9" gradientUnits="userSpaceOnUse" x1="89.0" x2="230.0" y1="0" y2="0"><stop offset="0.000" stop-color="#00ff72"/><stop offset="0.021" stop-color="#00ff72"/><stop offset="0.099" stop-color="#66ff73"/><stop offset="0.241" stop-color="#fffc74"/><stop offset="0.333" stop-color="#ffaf52"/><stop offset="0.489" stop-color="#ff6833"/><stop offset="0.801" stop-color="#ff2114"/><stop offset="1.000" stop-color="#ff0008"/></linearGradient><linearGradient id="i10" gradientUnits="userSpaceOnUse" x1="89.0" x2="230.0" y1="0" y2="0"><stop offset="0.000" stop-color="#00ff7c"/><stop offset="0.028" stop-color="#06ff7d"/><stop offset="0.092" stop-color="#5dff7e"/><stop offset="0.241" stop-color="#fffb80"/><stop offset="0.333" stop-color="#ffad5b"/><stop offset="0.489" stop-color="#ff673a"/><stop offset="0.801" stop-color="#ff201a"/><stop offset="1.000" stop-color="#ff000e"/></linearGradient><linearGradient id="i11" gradientUnits="userSpaceOnUse" x1="89.0" x2="230.0" y1="0" y2="0"><stop offset="0.000" stop-color="#00ff86"/><stop offset="0.028" stop-color="#00ff87"/><stop offset="0.064" stop-color="#3aff88"/><stop offset="0.241" stop-color="#fff98d"/><stop offset="0.333" stop-color="#ffac65"/><stop offset="0.489" stop-color="#ff6541"/><stop offset="0.809" stop-color="#ff1d1f"/><stop offset="0.993" stop-color="#ff0013"/><stop offset="1.000" stop-color="#ff0013"/></linearGradient><linearGradient id="i12" gradientUnits="userSpaceOnUse" x1="89.0" x2="230.0" y1="0" y2="0"><stop offset="0.000" stop-color="#00ff90"/><stop offset="0.028" stop-color="#00ff92"/><stop offset="0.085" stop-color="#52ff94"/><stop offset="0.234" stop-color="#feff9d"/><stop offset="0.326" stop-color="#ffaf70"/><stop offset="0.475" stop-color="#ff694b"/><stop offset="0.773" stop-color="#ff2227"/><stop offset="0.986" stop-color="#ff0018"/><stop offset="1.000" stop-color="#ff0018"/></linearGradient><linearGradient id="i13" gradientUnits="userSpaceOnUse" x1="89.0" x2="230.0" y1="0" y2="0"><stop offset="0.000" stop-color="#00ff9a"/><stop offset="0.028" stop-color="#00ff9c"/><stop offset="0.106" stop-color="#6affa0"/><stop offset="0.234" stop-color="#ffffaa"/><stop offset="0.319" stop-color="#ffb27c"/><stop offset="0.468" stop-color="#ff6a53"/><stop offset="0.759" stop-color="#ff232d"/><stop offset="0.972" stop-color="#ff001e"/><stop offset="1.000" stop-color="#ff001c"/></linearGradient><linearGradient id="i14" gradientUnits="userSpaceOnUse" x1="89.0" x2="230.0" y1="0" y2="0"><stop offset="0.000" stop-color="#00ffa4"/><stop offset="0.035" stop-color="#06ffa7"/><stop offset="0.092" stop-color="#58ffab"/><stop offset="0.234" stop-color="#fffeb6"/><stop offset="0.319" stop-color="#ffb086"/><stop offset="0.468" stop-color="#ff685a"/><stop offset="0.759" stop-color="#ff2132"/><stop offset="0.965" stop-color="#ff0022"/><stop offset="1.000" stop-color="#ff0020"/></linearGradient><linearGradient id="i15" gradientUnits="userSpaceOnUse" x1="89.0" x2="230.0" y1="0" y2="0"><stop offset="0.000" stop-color="#00ffaf"/><stop offset="0.035" stop-color="#00ffb1"/><stop offset="0.071" stop-color="#3cffb4"/><stop offset="0.234" stop-color="#fffdc3"/><stop offset="0.319" stop-color="#ffaf8f"/><stop offset="0.468" stop-color="#ff6760"/><stop offset="0.766" stop-color="#ff1e36"/><stop offset="0.950" stop-color="#ff0028"/><stop offset="1.000" stop-color="#ff0024"/></linearGradient><linearGradient id="i16" gradientUnits="userSpaceOnUse" x1="89.0" x2="230.0" y1="0" y2="0"><stop offset="0.000" stop-color="#00ffb9"/><stop offset="0.035" stop-color="#00ffbc"/><stop offset="0.092" stop-color="#56ffc1"/><stop offset="0.234" stop-color="#fffbcf"/><stop offset="0.319" stop-color="#ffad98"/><stop offset="0.461" stop-color="#ff6869"/><stop offset="0.745" stop-color="#ff213d"/><stop offset="0.936" stop-color="#ff002d"/><stop offset="1.000" stop-color="#ff0028"/></linearGradient><linearGradient id="i17" gradientUnits="userSpaceOnUse" x1="89.0" x2="230.0" y1="0" y2="0"><stop offset="0.000" stop-color="#00ffc3"/><stop offset="0.035" stop-color="#00ffc6"/><stop offset="0.106" stop-color="#67ffce"/><stop offset="0.234" stop-color="#fffadb"/><stop offset="0.319" stop-color="#ffaca1"/><stop offset="0.461" stop-color="#ff666f"/><stop offset="0.752" stop-color="#ff1e41"/><stop offset="0.929" stop-color="#ff0031"/><stop offset="1.000" stop-color="#ff002c"/></linearGradient><linearGradient id="i18" gradientUnits="userSpaceOnUse" x1="89.0" x2="230.0" y1="0" y2="0"><stop offset="0.000" stop-color="#00ffcd"/><stop offset="0.043" stop-color="#06ffd2"/><stop offset="0.099" stop-color="#5dffd9"/><stop offset="0.227" stop-color="#fcffec"/><stop offset="0.319" stop-color="#ffaaaa"/><stop offset="0.461" stop-color="#ff6476"/><stop offset="0.752" stop-color="#ff1c45"/><stop offset="0.915" stop-color="#ff0036"/><stop offset="1.000" stop-color="#ff0030"/></linearGradient><linearGradient id="i19" gradientUnits="userSpaceOnUse" x1="89.0" x2="230.0" y1="0" y2="0"><stop offset="0.000" stop-color="#00ffd8"/><stop offset="0.043" stop-color="#00ffdd"/><stop offset="0.078" stop-color="#3fffe1"/><stop offset="0.227" stop-color="#fefffa"/><stop offset="0.312" stop-color="#ffadb7"/><stop offset="0.447" stop-color="#ff6880"/><stop offset="0.716" stop-color="#ff214e"/><stop offset="0.901" stop-color="#ff003b"/><stop offset="1.000" stop-color="#ff0033"/></linearGradient><linearGradient id="i20" gradientUnits="userSpaceOnUse" x1="89.0" x2="230.0" y1="0" y2="0"><stop offset="0.000" stop-color="#00ffe2"/><stop offset="0.043" stop-color="#00ffe8"/><stop offset="0.099" stop-color="#5afff0"/><stop offset="0.227" stop-color="#f6f6ff"/><stop offset="0.255" stop-color="#ffddeb"/><stop offset="0.355" stop-color="#ff91aa"/><stop offset="0.532" stop-color="#ff4a71"/><stop offset="0.887" stop-color="#ff0040"/><stop offset="1.000" stop-color="#ff0037"/></linearGradient><linearGradient id="i21" gradientUnits="userSpaceOnUse" x1="89.0" x2="230.0" y1="0" y2="0"><stop offset="0.000" stop-color="#00ffed"/><stop offset="0.043" stop-color="#00fff3"/><stop offset="0.113" stop-color="#6cffff"/><stop offset="0.248" stop-color="#ffe3fd"/><stop offset="0.340" stop-color="#ff97b9"/><stop offset="0.504" stop-color="#ff517d"/><stop offset="0.837" stop-color="#ff0449"/><stop offset="1.000" stop-color="#ff003b"/></linearGradient><linearGradient id="i22" gradientUnits="userSpaceOnUse" x1="89.0" x2="230.0" y1="0" y2="0"><stop offset="0.000" stop-color="#00fff7"/><stop offset="0.050" stop-color="#06ffff"/><stop offset="0.092" stop-color="#4bf7ff"/><stop offset="0.255" stop-color="#fdd8ff"/><stop offset="0.362" stop-color="#ff89b6"/><stop offset="0.539" stop-color="#ff457a"/><stop offset="0.858" stop-color="#ff004a"/><stop offset="1.000" stop-color="#ff003e"/></linearGradient><linearGradient id="i23" gradientUnits="userSpaceOnUse" x1="89.0" x2="230.0" y1="0" y2="0"><stop offset="0.000" stop-color="#00fcff"/><stop offset="0.050" stop-color="#00f4ff"/><stop offset="0.085" stop-color="#3deeff"/><stop offset="0.234" stop-color="#ded2ff"/><stop offset="0.277" stop-color="#ffc3f8"/><stop offset="0.383" stop-color="#ff7cb4"/><stop offset="0.574" stop-color="#ff3a78"/><stop offset="0.858" stop-color="#ff004e"/><stop offset="1.000" stop-color="#ff0041"/></linearGradient><linearGradient id="i24" gradientUnits="userSpaceOnUse" x1="89.0" x2="230.0" y1="0" y2="0"><stop offset="0.000" stop-color="#00f2ff"/><stop offset="0.050" stop-color="#00eaff"/><stop offset="0.099" stop-color="#4be1ff"/><stop offset="0.277" stop-color="#fcbfff"/><stop offset="0.397" stop-color="#ff74b4"/><stop offset="0.596" stop-color="#ff3379"/><stop offset="0.844" stop-color="#ff0054"/><stop offset="1.000" stop-color="#ff0045"/></linearGradient><linearGradient id="i25" gradientUnits="userSpaceOnUse" x1="89.0" x2="230.0" y1="0" y2="0"><stop offset="0.000" stop-color="#00e8ff"/><stop offset="0.050" stop-color="#00e0ff"/><stop offset="0.113" stop-color="#57d5ff"/><stop offset="0.291" stop-color="#ffb3ff"/><stop offset="0.404" stop-color="#ff6fb8"/><stop offset="0.603" stop-color="#ff2f7c"/><stop offset="0.837" stop-color="#ff0058"/><stop offset="1.000" stop-color="#ff0048"/></linearGradient><linearGradient id="i26" gradientUnits="userSpaceOnUse" x1="89.0" x2="230.0" y1="0" y2="0"><stop offset="0.000" stop-color="#00dfff"/><stop offset="0.057" stop-color="#05d6ff"/><stop offset="0.106" stop-color="#4aceff"/><stop offset="0.298" stop-color="#fba9ff"/><stop offset="0.433" stop-color="#ff61b3"/><stop offset="0.652" stop-color="#ff2277"/><stop offset="0.823" stop-color="#ff005e"/><stop offset="1.000" stop-color="#ff004b"/></linearGradient><linearGradient id="i27" gradientUnits="userSpaceOnUse" x1="89.0" x2="230.0" y1="0" y2="0"><stop offset="0.000" stop-color="#00d7ff"/><stop offset="0.057" stop-color="#00ceff"/><stop offset="0.099" stop-color="#3ec7ff"/><stop offset="0.277" stop-color="#e1a6ff"/><stop offset="0.319" stop-color="#ff9afa"/><stop offset="0.440" stop-color="#ff5cb7"/><stop offset="0.660" stop-color="#ff1e7a"/><stop offset="0.816" stop-color="#ff0062"/><stop offset="1.000" stop-color="#ff004f"/></linearGradient><linearGradient id="i28" gradientUnits="userSpaceOnUse" x1="89.0" x2="230.0" y1="0" y2="0"><stop offset="0.000" stop-color="#00cfff"/><stop offset="0.057" stop-color="#00c6ff"/><stop offset="0.113" stop-color="#4abcff"/><stop offset="0.319" stop-color="#fb95ff"/><stop offset="0.468" stop-color="#ff50b2"/><stop offset="0.709" stop-color="#ff1176"/><stop offset="0.801" stop-color="#ff0068"/><stop offset="1.000" stop-color="#ff0052"/></linearGradient><linearGradient id="i29" gradientUnits="userSpaceOnUse" x1="89.0" x2="230.0" y1="0" y2="0"><stop offset="0.000" stop-color="#00c8ff"/><stop offset="0.057" stop-color="#00bfff"/><stop offset="0.128" stop-color="#54b3ff"/><stop offset="0.333" stop-color="#fd8cff"/><stop offset="0.475" stop-color="#ff4cb5"/><stop offset="0.716" stop-color="#ff0d79"/><stop offset="0.801" stop-color="#ff006c"/><stop offset="1.000" stop-color="#ff0055"/></linearGradient><linearGradient id="i30" gradientUnits="userSpaceOnUse" x1="89.0" x2="230.0" y1="0" y2="0"><stop offset="0.000" stop-color="#00c0ff"/><stop offset="0.064" stop-color="#04b6ff"/><stop offset="0.121" stop-color="#4aadff"/><stop offset="0.348" stop-color="#ff82ff"/><stop offset="0.482" stop-color="#ff48b9"/><stop offset="0.723" stop-color="#ff097c"/><stop offset="0.809" stop-color="#ff006e"/><stop offset="1.000" stop-color="#ff0058"/></linearGradient><linearGradient id="i31" gradientUnits="userSpaceOnUse" x1="89.0" x2="230.0" y1="0" y2="0"><stop offset="0.000" stop-color="#00baff"/><stop offset="0.064" stop-color="#00b0ff"/><stop offset="0.113" stop-color="#3fa8ff"/><stop offset="0.319" stop-color="#e382ff"/><stop offset="0.369" stop-color="#ff74f8"/><stop offset="0.518" stop-color="#ff3bb2"/><stop offset="0.766" stop-color="#ff0079"/><stop offset="1.000" stop-color="#ff005b"/></linearGradient><linearGradient id="i32" gradientUnits="userSpaceOnUse" x1="89.0" x2="230.0" y1="0" y2="0"><stop offset="0.000" stop-color="#00b3ff"/><stop offset="0.064" stop-color="#00aaff"/><stop offset="0.128" stop-color="#499fff"/><stop offset="0.369" stop-color="#ff72ff"/><stop offset="0.518" stop-color="#ff38b7"/><stop offset="0.752" stop-color="#ff007f"/><stop offset="1.000" stop-color="#ff005e"/></linearGradient><linearGradient id="i33" gradientUnits="userSpaceOnUse" x1="89.0" x2="230.0" y1="0" y2="0"><stop offset="0.000" stop-color="#00adff"/><stop offset="0.064" stop-color="#00a4ff"/><stop offset="0.142" stop-color="#5297ff"/><stop offset="0.383" stop-color="#ff69fd"/><stop offset="0.532" stop-color="#ff32b8"/><stop offset="0.738" stop-color="#ff0085"/><stop offset="1.000" stop-color="#ff0062"/></linearGradient><linearGradient id="i34" gradientUnits="userSpaceOnUse" x1="89.0" x2="230.0" y1="0" y2="0"><stop offset="0.000" stop-color="#00a8ff"/><stop offset="0.071" stop-color="#039dff"/><stop offset="0.128" stop-color="#4394ff"/><stop offset="0.369" stop-color="#f067ff"/><stop offset="0.404" stop-color="#ff5df7"/><stop offset="0.567" stop-color="#ff26b1"/><stop offset="0.730" stop-color="#ff008a"/><stop offset="1.000" stop-color="#ff0065"/></linearGradient><linearGradient id="i35" gradientUnits="userSpaceOnUse" x1="89.0" x2="230.0" y1="0" y2="0"><stop offset="0.000" stop-color="#00a2ff"/><stop offset="0.071" stop-color="#0097ff"/><stop offset="0.128" stop-color="#408fff"/><stop offset="0.369" stop-color="#e962ff"/><stop offset="0.411" stop-color="#ff58fa"/><stop offset="0.574" stop-color="#ff22b4"/><stop offset="0.716" stop-color="#ff0091"/><stop offset="1.000" stop-color="#ff0068"/></linearGradient><linearGradient id="i36" gradientUnits="userSpaceOnUse" x1="89.0" x2="230.0" y1="0" y2="0"><stop offset="0.000" stop-color="#009dff"/><stop offset="0.071" stop-color="#0092ff"/><stop offset="0.142" stop-color="#4987ff"/><stop offset="0.411" stop-color="#fd55ff"/><stop offset="0.589" stop-color="#ff1cb5"/><stop offset="0.709" stop-color="#ff0097"/><stop offset="1.000" stop-color="#ff006b"/></linearGradient><linearGradient id="i37" gradientUnits="userSpaceOnUse" x1="89.0" x2="230.0" y1="0" y2="0"><stop offset="0.000" stop-color="#0098ff"/><stop offset="0.078" stop-color="#068cff"/><stop offset="0.156" stop-color="#5180ff"/><stop offset="0.426" stop-color="#ff4dff"/><stop offset="0.589" stop-color="#ff1aba"/><stop offset="0.695" stop-color="#ff009e"/><stop offset="1.000" stop-color="#ff006e"/></linearGradient><linearGradient id="i38" gradientUnits="userSpaceOnUse" x1="89.0" x2="230.0" y1="0" y2="0"><stop offset="0.000" stop-color="#0093ff"/><stop offset="0.078" stop-color="#0388ff"/><stop offset="0.142" stop-color="#437eff"/><stop offset="0.411" stop-color="#f04cff"/><stop offset="0.454" stop-color="#ff40f5"/><stop offset="0.638" stop-color="#ff09b0"/><stop offset="0.716" stop-color="#ff009d"/><stop offset="1.000" stop-color="#ff0071"/></linearGradient><linearGradient id="i39" gradientUnits="userSpaceOnUse" x1="89.0" x2="230.0" y1="0" y2="0"><stop offset="0.000" stop-color="#008eff"/><stop offset="0.078" stop-color="#0083ff"/><stop offset="0.142" stop-color="#4079ff"/><stop offset="0.411" stop-color="#ea48ff"/><stop offset="0.461" stop-color="#ff3bf8"/><stop offset="0.645" stop-color="#ff03b2"/><stop offset="0.979" stop-color="#ff0076"/><stop offset="1.000" stop-color="#ff0074"/></linearGradient><linearGradient id="i40" gradientUnits="userSpaceOnUse" x1="89.0" x2="230.0" y1="0" y2="0"><stop offset="0.000" stop-color="#008aff"/><stop offset="0.078" stop-color="#007fff"/><stop offset="0.156" stop-color="#4873ff"/><stop offset="0.454" stop-color="#fc3bff"/><stop offset="0.660" stop-color="#ff00b3"/><stop offset="1.000" stop-color="#ff0077"/></linearGradient><linearGradient id="i41" gradientUnits="userSpaceOnUse" x1="89.0" x2="230.0" y1="0" y2="0"><stop offset="0.000" stop-color="#0086ff"/><stop offset="0.085" stop-color="#067aff"/><stop offset="0.170" stop-color="#506cff"/><stop offset="0.468" stop-color="#fe34ff"/><stop offset="0.652" stop-color="#ff00b9"/><stop offset="0.979" stop-color="#ff007c"/><stop offset="1.000" stop-color="#ff007a"/></linearGradient><linearGradient id="i42" gradientUnits="userSpaceOnUse" x1="89.0" x2="230.0" y1="0" y2="0"><stop offset="0.000" stop-color="#0082ff"/><stop offset="0.085" stop-color="#0276ff"/><stop offset="0.156" stop-color="#436bff"/><stop offset="0.454" stop-color="#f034ff"/><stop offset="0.496" stop-color="#ff28f7"/><stop offset="0.638" stop-color="#ff00c2"/><stop offset="0.950" stop-color="#ff0083"/><stop offset="1.000" stop-color="#ff007d"/></linearGradient><linearGradient id="i43" gradientUnits="userSpaceOnUse" x1="89.0" x2="230.0" y1="0" y2="0"><stop offset="0.000" stop-color="#007eff"/><stop offset="0.085" stop-color="#0072ff"/><stop offset="0.156" stop-color="#4167ff"/><stop offset="0.454" stop-color="#eb30ff"/><stop offset="0.511" stop-color="#ff21f6"/><stop offset="0.631" stop-color="#ff00c8"/><stop offset="0.929" stop-color="#ff0089"/><stop offset="1.000" stop-color="#ff007f"/></linearGradient><linearGradient id="i44" gradientUnits="userSpaceOnUse" x1="89.0" x2="230.0" y1="0" y2="0"><stop offset="0.000" stop-color="#007aff"/><stop offset="0.085" stop-color="#006eff"/><stop offset="0.170" stop-color="#4861ff"/><stop offset="0.504" stop-color="#ff21ff"/><stop offset="0.617" stop-color="#ff00d1"/><stop offset="0.901" stop-color="#ff0091"/><stop offset="1.000" stop-color="#ff0082"/></linearGradient><linearGradient id="i45" gradientUnits="userSpaceOnUse" x1="89.0" x2="230.0" y1="0" y2="0"><stop offset="0.000" stop-color="#0076ff"/><stop offset="0.092" stop-color="#0569ff"/><stop offset="0.184" stop-color="#4f5bff"/><stop offset="0.518" stop-color="#ff19fe"/><stop offset="0.610" stop-color="#ff00d8"/><stop offset="0.879" stop-color="#ff0097"/><stop offset="1.000" stop-color="#ff0085"/></linearGradient><linearGradient id="i46" gradientUnits="userSpaceOnUse" x1="89.0" x2="230.0" y1="0" y2="0"><stop offset="0.000" stop-color="#0073ff"/><stop offset="0.092" stop-color="#0266ff"/><stop offset="0.170" stop-color="#435aff"/><stop offset="0.496" stop-color="#f11cff"/><stop offset="0.546" stop-color="#ff0df6"/><stop offset="0.596" stop-color="#ff00e2"/><stop offset="0.851" stop-color="#ff00a0"/><stop offset="1.000" stop-color="#ff0088"/></linearGradient><linearGradient id="i47" gradientUnits="userSpaceOnUse" x1="89.0" x2="230.0" y1="0" y2="0"><stop offset="0.000" stop-color="#006fff"/><stop offset="0.092" stop-color="#0063ff"/><stop offset="0.170" stop-color="#4157ff"/><stop offset="0.496" stop-color="#ec18ff"/><stop offset="0.553" stop-color="#ff06f8"/><stop offset="0.773" stop-color="#ff00b3"/><stop offset="1.000" stop-color="#ff008b"/></linearGradient><linearGradient id="i48" gradientUnits="userSpaceOnUse" x1="89.0" x2="230.0" y1="0" y2="0"><stop offset="0.000" stop-color="#006cff"/><stop offset="0.092" stop-color="#005fff"/><stop offset="0.184" stop-color="#4852ff"/><stop offset="0.525" stop-color="#f40cff"/><stop offset="0.574" stop-color="#ff00f4"/><stop offset="0.809" stop-color="#ff00af"/><stop offset="1.000" stop-color="#ff008e"/></linearGradient><linearGradient id="i49" gradientUnits="userSpaceOnUse" x1="89.0" x2="230.0" y1="0" y2="0"><stop offset="0.000" stop-color="#0069ff"/><stop offset="0.099" stop-color="#055bff"/><stop offset="0.191" stop-color="#4a4dff"/><stop offset="0.518" stop-color="#ec0bff"/><stop offset="0.574" stop-color="#ff00f9"/><stop offset="0.801" stop-color="#ff00b4"/><stop offset="1.000" stop-color="#ff0091"/></linearGradient><linearGradient id="i50" gradientUnits="userSpaceOnUse" x1="89.0" x2="230.0" y1="0" y2="0"><stop offset="0.000" stop-color="#0066ff"/><stop offset="0.099" stop-color="#0158ff"/><stop offset="0.177" stop-color="#3f4dff"/><stop offset="0.511" stop-color="#e409ff"/><stop offset="0.567" stop-color="#fd00ff"/><stop offset="0.809" stop-color="#ff00b6"/><stop offset="1.000" stop-color="#ff0094"/></linearGradient><linearGradient id="i51" gradientUnits="userSpaceOnUse" x1="89.0" x2="230.0" y1="0" y2="0"><stop offset="0.000" stop-color="#0063ff"/><stop offset="0.099" stop-color="#0055ff"/><stop offset="0.177" stop-color="#3d4aff"/><stop offset="0.504" stop-color="#dd08ff"/><stop offset="0.589" stop-color="#ff00fc"/><stop offset="0.823" stop-color="#ff00b6"/><stop offset="1.000" stop-color="#ff0097"/></linearGradient><linearGradient id="i52" gradientUnits="userSpaceOnUse" x1="89.0" x2="230.0" y1="0" y2="0"><stop offset="0.000" stop-color="#0060ff"/><stop offset="0.099" stop-color="#0052ff"/><stop offset="0.199" stop-color="#4744ff"/><stop offset="0.496" stop-color="#d506ff"/><stop offset="0.610" stop-color="#ff00f8"/><stop offset="0.851" stop-color="#ff00b3"/><stop offset="1.000" stop-color="#ff0099"/></linearGradient><linearGradient id="i53" gradientUnits="userSpaceOnUse" x1="89.0" x2="230.0" y1="0" y2="0"><stop offset="0.000" stop-color="#005dff"/><stop offset="0.106" stop-color="#044eff"/><stop offset="0.206" stop-color="#4940ff"/><stop offset="0.489" stop-color="#ce05ff"/><stop offset="0.617" stop-color="#ff00fa"/><stop offset="0.865" stop-color="#ff00b4"/><stop offset="1.000" stop-color="#ff009c"/></linearGradient><linearGradient id="i54" gradientUnits="userSpaceOnUse" x1="89.0" x2="230.0" y1="0" y2="0"><stop offset="0.000" stop-color="#005aff"/><stop offset="0.106" stop-color="#014cff"/><stop offset="0.191" stop-color="#3f3fff"/><stop offset="0.475" stop-color="#c506ff"/><stop offset="0.631" stop-color="#ff00f9"/><stop offset="0.887" stop-color="#ff00b3"/><stop offset="1.000" stop-color="#ff009f"/></linearGradient><linearGradient id="i55" gradientUnits="userSpaceOnUse" x1="89.0" x2="230.0" y1="0" y2="0"><stop offset="0.000" stop-color="#0057ff"/><stop offset="0.106" stop-color="#0049ff"/><stop offset="0.199" stop-color="#413cff"/><stop offset="0.468" stop-color="#be04ff"/><stop offset="0.638" stop-color="#ff00fb"/><stop offset="0.894" stop-color="#ff00b5"/><stop offset="1.000" stop-color="#ff00a2"/></linearGradient><linearGradient id="i56" gradientUnits="userSpaceOnUse" x1="89.0" x2="230.0" y1="0" y2="0"><stop offset="0.000" stop-color="#0055ff"/><stop offset="0.113" stop-color="#0645ff"/><stop offset="0.234" stop-color="#5233ff"/><stop offset="0.496" stop-color="#c600ff"/><stop offset="0.652" stop-color="#ff00fa"/><stop offset="0.915" stop-color="#ff00b4"/><stop offset="1.000" stop-color="#ff00a5"/></linearGradient><linearGradient id="i57" gradientUnits="userSpaceOnUse" x1="89.0" x2="230.0" y1="0" y2="0"><stop offset="0.000" stop-color="#0052ff"/><stop offset="0.113" stop-color="#0443ff"/><stop offset="0.220" stop-color="#4933ff"/><stop offset="0.482" stop-color="#bd00ff"/><stop offset="0.667" stop-color="#ff00f9"/><stop offset="0.936" stop-color="#ff00b3"/><stop offset="1.000" stop-color="#ff00a8"/></linearGradient><linearGradient id="i58" gradientUnits="userSpaceOnUse" x1="89.0" x2="230.0" y1="0" y2="0"><stop offset="0.000" stop-color="#004fff"/><stop offset="0.113" stop-color="#0140ff"/><stop offset="0.199" stop-color="#3c34ff"/><stop offset="0.475" stop-color="#b700ff"/><stop offset="0.674" stop-color="#ff00fa"/><stop offset="0.943" stop-color="#ff00b4"/><stop offset="1.000" stop-color="#ff00aa"/></linearGradient><linearGradient id="i59" gradientUnits="userSpaceOnUse" x1="89.0" x2="230.0" y1="0" y2="0"><stop offset="0.000" stop-color="#004dff"/><stop offset="0.113" stop-color="#003eff"/><stop offset="0.206" stop-color="#3e31ff"/><stop offset="0.461" stop-color="#ae00ff"/><stop offset="0.688" stop-color="#ff00f9"/><stop offset="0.965" stop-color="#ff00b3"/><stop offset="1.000" stop-color="#ff00ad"/></linearGradient><linearGradient id="i60" gradientUnits="userSpaceOnUse" x1="89.0" x2="230.0" y1="0" y2="0"><stop offset="0.000" stop-color="#004bff"/><stop offset="0.121" stop-color="#063bff"/><stop offset="0.241" stop-color="#4e28ff"/><stop offset="0.454" stop-color="#a800ff"/><stop offset="0.695" stop-color="#ff00fb"/><stop offset="0.972" stop-color="#ff00b5"/><stop offset="1.000" stop-color="#ff00b0"/></linearGradient><linearGradient id="i61" gradientUnits="userSpaceOnUse" x1="89.0" x2="230.0" y1="0" y2="0"><stop offset="0.000" stop-color="#0048ff"/><stop offset="0.121" stop-color="#0338ff"/><stop offset="0.234" stop-color="#4927ff"/><stop offset="0.440" stop-color="#a000ff"/><stop offset="0.709" stop-color="#ff00fa"/><stop offset="0.993" stop-color="#ff00b4"/><stop offset="1.000" stop-color="#ff00b3"/></linearGradient><linearGradient id="i62" gradientUnits="userSpaceOnUse" x1="89.0" x2="230.0" y1="0" y2="0"><stop offset="0.000" stop-color="#0046ff"/><stop offset="0.121" stop-color="#0036ff"/><stop offset="0.206" stop-color="#392aff"/><stop offset="0.433" stop-color="#9a00ff"/><stop offset="0.716" stop-color="#ff00fb"/><stop offset="1.000" stop-color="#ff00b6"/></linearGradient><linearGradient id="i63" gradientUnits="userSpaceOnUse" x1="89.0" x2="230.0" y1="0" y2="0"><stop offset="0.000" stop-color="#0044ff"/><stop offset="0.121" stop-color="#0034ff"/><stop offset="0.220" stop-color="#3e25ff"/><stop offset="0.418" stop-color="#9200ff"/><stop offset="0.730" stop-color="#ff00fa"/><stop offset="1.000" stop-color="#ff00b8"/></linearGradient><linearGradient id="i64" gradientUnits="userSpaceOnUse" x1="89.0" x2="230.0" y1="0" y2="0"><stop offset="0.000" stop-color="#0041ff"/><stop offset="0.128" stop-color="#0531ff"/><stop offset="0.255" stop-color="#4d1dff"/><stop offset="0.411" stop-color="#8d00ff"/><stop offset="0.745" stop-color="#ff00f9"/><stop offset="1.000" stop-color="#ff00bb"/></linearGradient><linearGradient id="i65" gradientUnits="userSpaceOnUse" x1="89.0" x2="230.0" y1="0" y2="0"><stop offset="0.000" stop-color="#003fff"/><stop offset="0.128" stop-color="#032fff"/><stop offset="0.241" stop-color="#451dff"/><stop offset="0.397" stop-color="#8500ff"/><stop offset="0.752" stop-color="#ff00fb"/><stop offset="1.000" stop-color="#ff00be"/></linearGradient><linearGradient id="i66" gradientUnits="userSpaceOnUse" x1="89.0" x2="230.0" y1="0" y2="0"><stop offset="0.000" stop-color="#003dff"/><stop offset="0.128" stop-color="#002cff"/><stop offset="0.220" stop-color="#3a1eff"/><stop offset="0.390" stop-color="#8100ff"/><stop offset="0.766" stop-color="#ff00fa"/><stop offset="1.000" stop-color="#ff00c1"/></linearGradient><linearGradient id="i67" gradientUnits="userSpaceOnUse" x1="89.0" x2="230.0" y1="0" y2="0"><stop offset="0.000" stop-color="#003bff"/><stop offset="0.128" stop-color="#002aff"/><stop offset="0.234" stop-color="#3f1aff"/><stop offset="0.376" stop-color="#7900ff"/><stop offset="0.773" stop-color="#ff00fb"/><stop offset="1.000" stop-color="#ff00c4"/></linearGradient><linearGradient id="i68" gradientUnits="userSpaceOnUse" x1="89.0" x2="230.0" y1="0" y2="0"><stop offset="0.000" stop-color="#0039ff"/><stop offset="0.135" stop-color="#0527ff"/><stop offset="0.270" stop-color="#4d11ff"/><stop offset="0.369" stop-color="#7400ff"/><stop offset="0.787" stop-color="#ff00fa"/><stop offset="1.000" stop-color="#ff00c6"/></linearGradient><linearGradient id="i69" gradientUnits="userSpaceOnUse" x1="89.0" x2="230.0" y1="0" y2="0"><stop offset="0.000" stop-color="#0037ff"/><stop offset="0.135" stop-color="#0325ff"/><stop offset="0.255" stop-color="#4511ff"/><stop offset="0.362" stop-color="#7000ff"/><stop offset="0.794" stop-color="#ff00fc"/><stop offset="1.000" stop-color="#ff00c9"/></linearGradient><linearGradient id="i70" gradientUnits="userSpaceOnUse" x1="89.0" x2="230.0" y1="0" y2="0"><stop offset="0.000" stop-color="#0035ff"/><stop offset="0.135" stop-color="#0023ff"/><stop offset="0.234" stop-color="#3a13ff"/><stop offset="0.348" stop-color="#6800ff"/><stop offset="0.809" stop-color="#ff00fb"/><stop offset="1.000" stop-color="#ff00cc"/></linearGradient><linearGradient id="i71" gradientUnits="userSpaceOnUse" x1="89.0" x2="230.0" y1="0" y2="0"><stop offset="0.000" stop-color="#0033ff"/><stop offset="0.142" stop-color="#0620ff"/><stop offset="0.291" stop-color="#5104ff"/><stop offset="0.809" stop-color="#ff00fe"/><stop offset="1.000" stop-color="#ff00cf"/></linearGradient><linearGradient id="i72" gradientUnits="userSpaceOnUse" x1="89.0" x2="230.0" y1="0" y2="0"><stop offset="0.000" stop-color="#0031ff"/><stop offset="0.142" stop-color="#041eff"/><stop offset="0.284" stop-color="#4c03ff"/><stop offset="0.816" stop-color="#fe00ff"/><stop offset="1.000" stop-color="#ff00d2"/></linearGradient><linearGradient id="i73" gradientUnits="userSpaceOnUse" x1="89.0" x2="230.0" y1="0" y2="0"><stop offset="0.000" stop-color="#002fff"/><stop offset="0.142" stop-color="#021cff"/><stop offset="0.270" stop-color="#4504ff"/><stop offset="0.801" stop-color="#f700ff"/><stop offset="0.901" stop-color="#ff00eb"/><stop offset="1.000" stop-color="#ff00d4"/></linearGradient><linearGradient id="i74" gradientUnits="userSpaceOnUse" x1="89.0" x2="230.0" y1="0" y2="0"><stop offset="0.000" stop-color="#002dff"/><stop offset="0.142" stop-color="#001aff"/><stop offset="0.248" stop-color="#3b07ff"/><stop offset="0.461" stop-color="#8900ff"/><stop offset="0.858" stop-color="#ff00fa"/><stop offset="1.000" stop-color="#ff00d7"/></linearGradient><linearGradient id="i75" gradientUnits="userSpaceOnUse" x1="89.0" x2="230.0" y1="0" y2="0"><stop offset="0.000" stop-color="#002cff"/><stop offset="0.149" stop-color="#0617ff"/><stop offset="0.298" stop-color="#4d00ff"/><stop offset="0.851" stop-color="#ff00ff"/><stop offset="1.000" stop-color="#ff00da"/></linearGradient><linearGradient id="i76" gradientUnits="userSpaceOnUse" x1="89.0" x2="230.0" y1="0" y2="0"><stop offset="0.000" stop-color="#002aff"/><stop offset="0.149" stop-color="#0415ff"/><stop offset="0.284" stop-color="#4600ff"/><stop offset="0.844" stop-color="#fa00ff"/><stop offset="1.000" stop-color="#ff00dd"/></linearGradient><linearGradient id="i77" gradientUnits="userSpaceOnUse" x1="89.0" x2="230.0" y1="0" y2="0"><stop offset="0.000" stop-color="#0028ff"/><stop offset="0.149" stop-color="#0213ff"/><stop offset="0.277" stop-color="#4200ff"/><stop offset="0.816" stop-color="#ee00ff"/><stop offset="0.901" stop-color="#ff00f8"/><stop offset="1.000" stop-color="#ff00e0"/></linearGradient><linearGradient id="i78" gradientUnits="userSpaceOnUse" x1="89.0" x2="230.0" y1="0" y2="0"><stop offset="0.000" stop-color="#0026ff"/><stop offset="0.149" stop-color="#0011ff"/><stop offset="0.262" stop-color="#3b00ff"/><stop offset="0.766" stop-color="#dd00ff"/><stop offset="0.908" stop-color="#ff00f9"/><stop offset="1.000" stop-color="#ff00e2"/></linearGradient><linearGradient id="i79" gradientUnits="userSpaceOnUse" x1="89.0" x2="230.0" y1="0" y2="0"><stop offset="0.000" stop-color="#0025ff"/><stop offset="0.156" stop-color="#050eff"/><stop offset="0.262" stop-color="#3a00ff"/><stop offset="0.766" stop-color="#da00ff"/><stop offset="0.922" stop-color="#ff00f8"/><stop offset="1.000" stop-color="#ff00e5"/></linearGradient><linearGradient id="i80" gradientUnits="userSpaceOnUse" x1="89.0" x2="230.0" y1="0" y2="0"><stop offset="0.000" stop-color="#0023ff"/><stop offset="0.156" stop-color="#040cff"/><stop offset="0.255" stop-color="#3600ff"/><stop offset="0.738" stop-color="#d000ff"/><stop offset="0.929" stop-color="#ff00f9"/><stop offset="1.000" stop-color="#ff00e8"/></linearGradient><linearGradient id="i81" gradientUnits="userSpaceOnUse" x1="89.0" x2="230.0" y1="0" y2="0"><stop offset="0.000" stop-color="#0021ff"/><stop offset="0.156" stop-color="#0209ff"/><stop offset="0.255" stop-color="#3500ff"/><stop offset="0.738" stop-color="#cd00ff"/><stop offset="0.943" stop-color="#ff00f8"/><stop offset="1.000" stop-color="#ff00eb"/></linearGradient><linearGradient id="i82" gradientUnits="userSpaceOnUse" x1="89.0" x2="230.0" y1="0" y2="0"><stop offset="0.000" stop-color="#001fff"/><stop offset="0.156" stop-color="#0007ff"/><stop offset="0.277" stop-color="#3c00ff"/><stop offset="0.809" stop-color="#de00ff"/><stop offset="0.950" stop-color="#ff00fa"/><stop offset="1.000" stop-color="#ff00ee"/></linearGradient><linearGradient id="i83" gradientUnits="userSpaceOnUse" x1="89.0" x2="230.0" y1="0" y2="0"><stop offset="0.000" stop-color="#001eff"/><stop offset="0.163" stop-color="#0503ff"/><stop offset="0.333" stop-color="#4f00ff"/><stop offset="0.943" stop-color="#ff00fe"/><stop offset="1.000" stop-color="#ff00f0"/></linearGradient><linearGradient id="i84" gradientUnits="userSpaceOnUse" x1="89.0" x2="230.0" y1="0" y2="0"><stop offset="0.000" stop-color="#001cff"/><stop offset="0.163" stop-color="#0400ff"/><stop offset="0.319" stop-color="#4900ff"/><stop offset="0.950" stop-color="#ff00ff"/><stop offset="1.000" stop-color="#ff00f3"/></linearGradient><linearGradient id="gl0" x1="0" y1="0" x2="0" y2="1"><stop offset="0" stop-color="#a0a0a0"/><stop offset="1" stop-color="#808080"/></linearGradient><linearGradient id="gl1" x1="0" y1="0" x2="0" y2="1"><stop offset="0" stop-color="#e00000"/><stop offset="1" stop-color="#800000"/></linearGradient><linearGradient id="gl2" x1="0" y1="0" x2="0" y2="1"><stop offset="0" stop-color="#3a8a3a"/><stop offset="1" stop-color="#1a5a1a"/></linearGradient><linearGradient id="gl3" x1="0" y1="0" x2="0" y2="1"><stop offset="0" stop-color="#2020e0"/><stop offset="1" stop-color="#000070"/></linearGradient><linearGradient id="gl4" x1="0" y1="0" x2="0" y2="1"><stop offset="0" stop-color="#30a0a0"/><stop offset="1" stop-color="#106060"/></linearGradient><linearGradient id="gl5" x1="0" y1="0" x2="0" y2="1"><stop offset="0" stop-color="#e020e0"/><stop offset="1" stop-color="#800080"/></linearGradient><linearGradient id="gl6" x1="0" y1="0" x2="0" y2="1"><stop offset="0" stop-color="#707050"/><stop offset="1" stop-color="#505030"/></linearGradient><linearGradient id="gl7" x1="0" y1="0" x2="0" y2="1"><stop offset="0" stop-color="#c8c8c8"/><stop offset="1" stop-color="#a0a0a0"/></linearGradient><linearGradient id="dg0_0" x1="0" y1="0" x2="0" y2="1"><stop offset="0" stop-color="#a09080"/><stop offset="0.6" stop-color="#807366"/><stop offset="1" stop-color="#38322c"/></linearGradient><linearGradient id="dg0_1" x1="0" y1="0" x2="0" y2="1"><stop offset="0" stop-color="#90a090"/><stop offset="0.6" stop-color="#738073"/><stop offset="1" stop-color="#323832"/></linearGradient><linearGradient id="dg0_2" x1="0" y1="0" x2="0" y2="1"><stop offset="0" stop-color="#8090b0"/><stop offset="0.6" stop-color="#66738c"/><stop offset="1" stop-color="#2c323d"/></linearGradient><linearGradient id="dg0_3" x1="0" y1="0" x2="0" y2="1"><stop offset="0" stop-color="#90b0b0"/><stop offset="0.6" stop-color="#738c8c"/><stop offset="1" stop-color="#323d3d"/></linearGradient><linearGradient id="dg0_4" x1="0" y1="0" x2="0" y2="1"><stop offset="0" stop-color="#a090a0"/><stop offset="0.6" stop-color="#807380"/><stop offset="1" stop-color="#383238"/></linearGradient><linearGradient id="dg0_5" x1="0" y1="0" x2="0" y2="1"><stop offset="0" stop-color="#b0b090"/><stop offset="0.6" stop-color="#8c8c73"/><stop offset="1" stop-color="#3d3d32"/></linearGradient><linearGradient id="dg1_0" x1="0" y1="0" x2="0" y2="1"><stop offset="0" stop-color="#a07060"/><stop offset="0.6" stop-color="#80594c"/><stop offset="1" stop-color="#382721"/></linearGradient><linearGradient id="dg1_1" x1="0" y1="0" x2="0" y2="1"><stop offset="0" stop-color="#70a070"/><stop offset="0.6" stop-color="#598059"/><stop offset="1" stop-color="#273827"/></linearGradient><linearGradient id="dg1_2" x1="0" y1="0" x2="0" y2="1"><stop offset="0" stop-color="#6070b0"/><stop offset="0.6" stop-color="#4c598c"/><stop offset="1" stop-color="#21273d"/></linearGradient><linearGradient id="dg1_3" x1="0" y1="0" x2="0" y2="1"><stop offset="0" stop-color="#70b0b0"/><stop offset="0.6" stop-color="#598c8c"/><stop offset="1" stop-color="#273d3d"/></linearGradient><linearGradient id="dg1_4" x1="0" y1="0" x2="0" y2="1"><stop offset="0" stop-color="#a070a0"/><stop offset="0.6" stop-color="#805980"/><stop offset="1" stop-color="#382738"/></linearGradient><linearGradient id="dg1_5" x1="0" y1="0" x2="0" y2="1"><stop offset="0" stop-color="#b0b080"/><stop offset="0.6" stop-color="#8c8c66"/><stop offset="1" stop-color="#3d3d2c"/></linearGradient><linearGradient id="dg2_0" x1="0" y1="0" x2="0" y2="1"><stop offset="0" stop-color="#b06050"/><stop offset="0.6" stop-color="#8c4c40"/><stop offset="1" stop-color="#3d211c"/></linearGradient><linearGradient id="dg2_1" x1="0" y1="0" x2="0" y2="1"><stop offset="0" stop-color="#50a050"/><stop offset="0.6" stop-color="#408040"/><stop offset="1" stop-color="#1c381c"/></linearGradient><linearGradient id="dg2_2" x1="0" y1="0" x2="0" y2="1"><stop offset="0" stop-color="#4050b0"/><stop offset="0.6" stop-color="#33408c"/><stop offset="1" stop-color="#161c3d"/></linearGradient><linearGradient id="dg2_3" x1="0" y1="0" x2="0" y2="1"><stop offset="0" stop-color="#50a8b0"/><stop offset="0.6" stop-color="#40868c"/><stop offset="1" stop-color="#1c3a3d"/></linearGradient><linearGradient id="dg2_4" x1="0" y1="0" x2="0" y2="1"><stop offset="0" stop-color="#9060a0"/><stop offset="0.6" stop-color="#734c80"/><stop offset="1" stop-color="#322138"/></linearGradient><linearGradient id="dg2_5" x1="0" y1="0" x2="0" y2="1"><stop offset="0" stop-color="#b0b070"/><stop offset="0.6" stop-color="#8c8c59"/><stop offset="1" stop-color="#3d3d27"/></linearGradient><linearGradient id="dg3_0" x1="0" y1="0" x2="0" y2="1"><stop offset="0" stop-color="#b04040"/><stop offset="0.6" stop-color="#8c3333"/><stop offset="1" stop-color="#3d1616"/></linearGradient><linearGradient id="dg3_1" x1="0" y1="0" x2="0" y2="1"><stop offset="0" stop-color="#40a040"/><stop offset="0.6" stop-color="#338033"/><stop offset="1" stop-color="#163816"/></linearGradient><linearGradient id="dg3_2" x1="0" y1="0" x2="0" y2="1"><stop offset="0" stop-color="#3040b0"/><stop offset="0.6" stop-color="#26338c"/><stop offset="1" stop-color="#10163d"/></linearGradient><linearGradient id="dg3_3" x1="0" y1="0" x2="0" y2="1"><stop offset="0" stop-color="#40b0c0"/><stop offset="0.6" stop-color="#338c99"/><stop offset="1" stop-color="#163d43"/></linearGradient><linearGradient id="dg3_4" x1="0" y1="0" x2="0" y2="1"><stop offset="0" stop-color="#a050b0"/><stop offset="0.6" stop-color="#80408c"/><stop offset="1" stop-color="#381c3d"/></linearGradient><linearGradient id="dg3_5" x1="0" y1="0" x2="0" y2="1"><stop offset="0" stop-color="#c0c060"/><stop offset="0.6" stop-color="#99994c"/><stop offset="1" stop-color="#434321"/></linearGradient><linearGradient id="dg4_0" x1="0" y1="0" x2="0" y2="1"><stop offset="0" stop-color="#c02020"/><stop offset="0.6" stop-color="#991919"/><stop offset="1" stop-color="#430b0b"/></linearGradient><linearGradient id="dg4_1" x1="0" y1="0" x2="0" y2="1"><stop offset="0" stop-color="#20b040"/><stop offset="0.6" stop-color="#198c33"/><stop offset="1" stop-color="#0b3d16"/></linearGradient><linearGradient id="dg4_2" x1="0" y1="0" x2="0" y2="1"><stop offset="0" stop-color="#2020a0"/><stop offset="0.6" stop-color="#191980"/><stop offset="1" stop-color="#0b0b38"/></linearGradient><linearGradient id="dg4_3" x1="0" y1="0" x2="0" y2="1"><stop offset="0" stop-color="#20b0c0"/><stop offset="0.6" stop-color="#198c99"/><stop offset="1" stop-color="#0b3d43"/></linearGradient><linearGradient id="dg4_4" x1="0" y1="0" x2="0" y2="1"><stop offset="0" stop-color="#b020c0"/><stop offset="0.6" stop-color="#8c1999"/><stop offset="1" stop-color="#3d0b43"/></linearGradient><linearGradient id="dg4_5" x1="0" y1="0" x2="0" y2="1"><stop offset="0" stop-color="#c8c040"/><stop offset="0.6" stop-color="#a09933"/><stop offset="1" stop-color="#464316"/></linearGradient><linearGradient id="cc0" x1="0" y1="0" x2="0" y2="1"><stop offset="0" stop-color="#101010"/><stop offset="1" stop-color="#050505"/></linearGradient><linearGradient id="cc1" x1="0" y1="0" x2="0" y2="1"><stop offset="0" stop-color="#686868"/><stop offset="1" stop-color="#101010"/></linearGradient><linearGradient id="cc2" x1="0" y1="0" x2="0" y2="1"><stop offset="0" stop-color="#555555"/><stop offset="1" stop-color="#1a1a1a"/></linearGradient><linearGradient id="cc3" x1="0" y1="0" x2="0" y2="1"><stop offset="0" stop-color="#585858"/><stop offset="1" stop-color="#202020"/></linearGradient><linearGradient id="cc4" x1="0" y1="0" x2="0" y2="1"><stop offset="0" stop-color="#626262"/><stop offset="1" stop-color="#2a2a2a"/></linearGradient><linearGradient id="cc5" x1="0" y1="0" x2="0" y2="1"><stop offset="0" stop-color="#727272"/><stop offset="1" stop-color="#3a3a3a"/></linearGradient><linearGradient id="cc6" x1="0" y1="0" x2="0" y2="1"><stop offset="0" stop-color="#747474"/><stop offset="1" stop-color="#424242"/></linearGradient><linearGradient id="cc7" x1="0" y1="0" x2="0" y2="1"><stop offset="0" stop-color="#848484"/><stop offset="1" stop-color="#565656"/></linearGradient><linearGradient id="cc8" x1="0" y1="0" x2="0" y2="1"><stop offset="0" stop-color="#929292"/><stop offset="1" stop-color="#686868"/></linearGradient><linearGradient id="cc9" x1="0" y1="0" x2="0" y2="1"><stop offset="0" stop-color="#a2a2a2"/><stop offset="1" stop-color="#7a7a7a"/></linearGradient><linearGradient id="cc10" x1="0" y1="0" x2="0" y2="1"><stop offset="0" stop-color="#b2b2b2"/><stop offset="1" stop-color="#909090"/></linearGradient><linearGradient id="cc11" x1="0" y1="0" x2="0" y2="1"><stop offset="0" stop-color="#c2c2c2"/><stop offset="1" stop-color="#a8a8a8"/></linearGradient><linearGradient id="cc12" x1="0" y1="0" x2="0" y2="1"><stop offset="0" stop-color="#d8d8d8"/><stop offset="1" stop-color="#c8c8c8"/></linearGradient><linearGradient id="cc13" x1="0" y1="0" x2="0" y2="1"><stop offset="0" stop-color="#eeeeee"/><stop offset="1" stop-color="#e4e4e4"/></linearGradient><linearGradient id="ee0" x1="0" y1="0" x2="0" y2="1"><stop offset="0" stop-color="#141414"/><stop offset="1" stop-color="#080808"/></linearGradient><linearGradient id="ee1" x1="0" y1="0" x2="0" y2="1"><stop offset="0" stop-color="#1a1a1a"/><stop offset="1" stop-color="#0c0c0c"/></linearGradient><linearGradient id="ee2" x1="0" y1="0" x2="0" y2="1"><stop offset="0" stop-color="#343434"/><stop offset="1" stop-color="#121212"/></linearGradient><linearGradient id="ee3" x1="0" y1="0" x2="0" y2="1"><stop offset="0" stop-color="#606060"/><stop offset="1" stop-color="#1c1c1c"/></linearGradient><linearGradient id="ee4" x1="0" y1="0" x2="0" y2="1"><stop offset="0" stop-color="#484848"/><stop offset="1" stop-color="#222222"/></linearGradient><linearGradient id="ee5" x1="0" y1="0" x2="0" y2="1"><stop offset="0" stop-color="#585858"/><stop offset="1" stop-color="#2a2a2a"/></linearGradient><linearGradient id="ee6" x1="0" y1="0" x2="0" y2="1"><stop offset="0" stop-color="#5e5e5e"/><stop offset="1" stop-color="#303030"/></linearGradient><linearGradient id="ee7" x1="0" y1="0" x2="0" y2="1"><stop offset="0" stop-color="#646464"/><stop offset="1" stop-color="#3a3a3a"/></linearGradient><linearGradient id="ee8" x1="0" y1="0" x2="0" y2="1"><stop offset="0" stop-color="#707070"/><stop offset="1" stop-color="#4c4c4c"/></linearGradient><linearGradient id="ee9" x1="0" y1="0" x2="0" y2="1"><stop offset="0" stop-color="#a0a0a0"/><stop offset="1" stop-color="#585858"/></linearGradient><linearGradient id="ee10" x1="0" y1="0" x2="0" y2="1"><stop offset="0" stop-color="#909090"/><stop offset="1" stop-color="#686868"/></linearGradient><linearGradient id="ee11" x1="0" y1="0" x2="0" y2="1"><stop offset="0" stop-color="#c0c0c0"/><stop offset="1" stop-color="#989898"/></linearGradient><linearGradient id="ee12" x1="0" y1="0" x2="0" y2="1"><stop offset="0" stop-color="#cccccc"/><stop offset="1" stop-color="#b8b8b8"/></linearGradient><linearGradient id="ee13" x1="0" y1="0" x2="0" y2="1"><stop offset="0" stop-color="#fafafa"/><stop offset="1" stop-color="#f0f0f0"/></linearGradient><linearGradient id="th" x1="0" y1="0" x2="0" y2="1"><stop offset="0" stop-color="#fbfbfb"/><stop offset="1" stop-color="#e6e6e6"/></linearGradient><linearGradient id="rb" x1="0" y1="0" x2="1" y2="0"><stop offset="0" stop-color="#e02020"/><stop offset="0.2" stop-color="#c020c0"/><stop offset="0.35" stop-color="#3030e0"/><stop offset="0.5" stop-color="#20c0e0"/><stop offset="0.65" stop-color="#30d030"/><stop offset="0.8" stop-color="#e0e020"/><stop offset="0.9" stop-color="#f09020"/><stop offset="1" stop-color="#e02020"/></linearGradient><linearGradient id="cm" x1="0" y1="0" x2="0" y2="1"><stop offset="0" stop-color="#262626"/><stop offset="0.55" stop-color="#3c3c3c"/><stop offset="1" stop-color="#8a8a8a"/></linearGradient></defs>
<g clip-path="url(#cplot)"><g clip-path="url(#cloc)"><rect x="37.0" y="17.0" width="255.0" height="2.30" fill="url(#o0)"/><rect x="37.0" y="19.0" width="255.0" height="2.30" fill="url(#o1)"/><rect x="37.0" y="21.0" width="255.0" height="2.30" fill="url(#o2)"/><rect x="37.0" y="23.0" width="255.0" height="2.30" fill="url(#o3)"/><rect x="37.0" y="25.0" width="255.0" height="2.30" fill="url(#o4)"/><rect x="37.0" y="27.0" width="255.0" height="2.30" fill="url(#o5)"/><rect x="37.0" y="29.0" width="255.0" height="2.30" fill="url(#o6)"/><rect x="37.0" y="31.0" width="255.0" height="2.30" fill="url(#o7)"/><rect x="37.0" y="33.0" width="255.0" height="2.30" fill="url(#o8)"/><rect x="37.0" y="35.0" width="255.0" height="2.30" fill="url(#o9)"/><rect x="37.0" y="37.0" width="255.0" height="2.30" fill="url(#o10)"/><rect x="37.0" y="39.0" width="255.0" height="2.30" fill="url(#o11)"/><rect x="37.0" y="41.0" width="255.0" height="2.30" fill="url(#o12)"/><rect x="37.0" y="43.0" width="255.0" height="2.30" fill="url(#o13)"/><rect x="37.0" y="45.0" width="255.0" height="2.30" fill="url(#o14)"/><rect x="37.0" y="47.0" width="255.0" height="2.30" fill="url(#o15)"/><rect x="37.0" y="49.0" width="255.0" height="2.30" fill="url(#o16)"/><rect x="37.0" y="51.0" width="255.0" height="2.30" fill="url(#o17)"/><rect x="37.0" y="53.0" width="255.0" height="2.30" fill="url(#o18)"/><rect x="37.0" y="55.0" width="255.0" height="2.30" fill="url(#o19)"/><rect x="37.0" y="57.0" width="255.0" height="2.30" fill="url(#o20)"/><rect x="37.0" y="59.0" width="255.0" height="2.30" fill="url(#o21)"/><rect x="37.0" y="61.0" width="255.0" height="2.30" fill="url(#o22)"/><rect x="37.0" y="63.0" width="255.0" height="2.30" fill="url(#o23)"/><rect x="37.0" y="65.0" width="255.0" height="2.30" fill="url(#o24)"/><rect x="37.0" y="67.0" width="255.0" height="2.30" fill="url(#o25)"/><rect x="37.0" y="69.0" width="255.0" height="2.30" fill="url(#o26)"/><rect x="37.0" y="71.0" width="255.0" height="2.30" fill="url(#o27)"/><rect x="37.0" y="73.0" width="255.0" height="2.30" fill="url(#o28)"/><rect x="37.0" y="75.0" width="255.0" height="2.30" fill="url(#o29)"/><rect x="37.0" y="77.0" width="255.0" height="2.30" fill="url(#o30)"/><rect x="37.0" y="79.0" width="255.0" height="2.30" fill="url(#o31)"/><rect x="37.0" y="81.0" width="255.0" height="2.30" fill="url(#o32)"/><rect x="37.0" y="83.0" width="255.0" height="2.30" fill="url(#o33)"/><rect x="37.0" y="85.0" width="255.0" height="2.30" fill="url(#o34)"/><rect x="37.0" y="87.0" width="255.0" height="2.30" fill="url(#o35)"/><rect x="37.0" y="89.0" width="255.0" height="2.30" fill="url(#o36)"/><rect x="37.0" y="91.0" width="255.0" height="2.30" fill="url(#o37)"/><rect x="37.0" y="93.0" width="255.0" height="2.30" fill="url(#o38)"/><rect x="37.0" y="95.0" width="255.0" height="2.30" fill="url(#o39)"/><rect x="37.0" y="97.0" width="255.0" height="2.30" fill="url(#o40)"/><rect x="37.0" y="99.0" width="255.0" height="2.30" fill="url(#o41)"/><rect x="37.0" y="101.0" width="255.0" height="2.30" fill="url(#o42)"/><rect x="37.0" y="103.0" width="255.0" height="2.30" fill="url(#o43)"/><rect x="37.0" y="105.0" width="255.0" height="2.30" fill="url(#o44)"/><rect x="37.0" y="107.0" width="255.0" height="2.30" fill="url(#o45)"/><rect x="37.0" y="109.0" width="255.0" height="2.30" fill="url(#o46)"/><rect x="37.0" y="111.0" width="255.0" height="2.30" fill="url(#o47)"/><rect x="37.0" y="113.0" width="255.0" height="2.30" fill="url(#o48)"/><rect x="37.0" y="115.0" width="255.0" height="2.30" fill="url(#o49)"/><rect x="37.0" y="117.0" width="255.0" height="2.30" fill="url(#o50)"/><rect x="37.0" y="119.0" width="255.0" height="2.30" fill="url(#o51)"/><rect x="37.0" y="121.0" width="255.0" height="2.30" fill="url(#o52)"/><rect x="37.0" y="123.0" width="255.0" height="2.30" fill="url(#o53)"/><rect x="37.0" y="125.0" width="255.0" height="2.30" fill="url(#o54)"/><rect x="37.0" y="127.0" width="255.0" height="2.30" fill="url(#o55)"/><rect x="37.0" y="129.0" width="255.0" height="2.30" fill="url(#o56)"/><rect x="37.0" y="131.0" width="255.0" height="2.30" fill="url(#o57)"/><rect x="37.0" y="133.0" width="255.0" height="2.30" fill="url(#o58)"/><rect x="37.0" y="135.0" width="255.0" height="2.30" fill="url(#o59)"/><rect x="37.0" y="137.0" width="255.0" height="2.30" fill="url(#o60)"/><rect x="37.0" y="139.0" width="255.0" height="2.30" fill="url(#o61)"/><rect x="37.0" y="141.0" width="255.0" height="2.30" fill="url(#o62)"/><rect x="37.0" y="143.0" width="255.0" height="2.30" fill="url(#o63)"/><rect x="37.0" y="145.0" width="255.0" height="2.30" fill="url(#o64)"/><rect x="37.0" y="147.0" width="255.0" height="2.30" fill="url(#o65)"/><rect x="37.0" y="149.0" width="255.0" height="2.30" fill="url(#o66)"/><rect x="37.0" y="151.0" width="255.0" height="2.30" fill="url(#o67)"/><rect x="37.0" y="153.0" width="255.0" height="2.30" fill="url(#o68)"/><rect x="37.0" y="155.0" width="255.0" height="2.30" fill="url(#o69)"/><rect x="37.0" y="157.0" width="255.0" height="2.30" fill="url(#o70)"/><rect x="37.0" y="159.0" width="255.0" height="2.30" fill="url(#o71)"/><rect x="37.0" y="161.0" width="255.0" height="2.30" fill="url(#o72)"/><rect x="37.0" y="163.0" width="255.0" height="2.30" fill="url(#o73)"/><rect x="37.0" y="165.0" width="255.0" height="2.30" fill="url(#o74)"/><rect x="37.0" y="167.0" width="255.0" height="2.30" fill="url(#o75)"/><rect x="37.0" y="169.0" width="255.0" height="2.30" fill="url(#o76)"/><rect x="37.0" y="171.0" width="255.0" height="2.30" fill="url(#o77)"/><rect x="37.0" y="173.0" width="255.0" height="2.30" fill="url(#o78)"/><rect x="37.0" y="175.0" width="255.0" height="2.30" fill="url(#o79)"/><rect x="37.0" y="177.0" width="255.0" height="2.30" fill="url(#o80)"/><rect x="37.0" y="179.0" width="255.0" height="2.30" fill="url(#o81)"/><rect x="37.0" y="181.0" width="255.0" height="2.30" fill="url(#o82)"/><rect x="37.0" y="183.0" width="255.0" height="2.30" fill="url(#o83)"/><rect x="37.0" y="185.0" width="255.0" height="2.30" fill="url(#o84)"/><rect x="37.0" y="187.0" width="255.0" height="2.30" fill="url(#o85)"/><rect x="37.0" y="189.0" width="255.0" height="2.30" fill="url(#o86)"/><rect x="37.0" y="191.0" width="255.0" height="2.30" fill="url(#o87)"/><rect x="37.0" y="193.0" width="255.0" height="2.30" fill="url(#o88)"/><rect x="37.0" y="195.0" width="255.0" height="2.30" fill="url(#o89)"/><rect x="37.0" y="197.0" width="255.0" height="2.30" fill="url(#o90)"/><rect x="37.0" y="199.0" width="255.0" height="2.30" fill="url(#o91)"/><rect x="37.0" y="201.0" width="255.0" height="2.30" fill="url(#o92)"/><rect x="37.0" y="203.0" width="255.0" height="2.30" fill="url(#o93)"/><rect x="37.0" y="205.0" width="255.0" height="2.30" fill="url(#o94)"/><rect x="37.0" y="207.0" width="255.0" height="2.30" fill="url(#o95)"/><rect x="37.0" y="209.0" width="255.0" height="2.30" fill="url(#o96)"/><rect x="37.0" y="211.0" width="255.0" height="2.30" fill="url(#o97)"/><rect x="37.0" y="213.0" width="255.0" height="2.30" fill="url(#o98)"/><rect x="37.0" y="215.0" width="255.0" height="2.30" fill="url(#o99)"/><rect x="37.0" y="217.0" width="255.0" height="2.30" fill="url(#o100)"/><rect x="37.0" y="219.0" width="255.0" height="2.30" fill="url(#o101)"/><rect x="37.0" y="221.0" width="255.0" height="2.30" fill="url(#o102)"/><rect x="37.0" y="223.0" width="255.0" height="2.30" fill="url(#o103)"/><rect x="37.0" y="225.0" width="255.0" height="2.30" fill="url(#o104)"/><rect x="37.0" y="227.0" width="255.0" height="2.30" fill="url(#o105)"/><rect x="37.0" y="229.0" width="255.0" height="2.30" fill="url(#o106)"/><rect x="37.0" y="231.0" width="255.0" height="2.30" fill="url(#o107)"/><rect x="37.0" y="233.0" width="255.0" height="2.30" fill="url(#o108)"/><rect x="37.0" y="235.0" width="255.0" height="2.30" fill="url(#o109)"/><rect x="37.0" y="237.0" width="255.0" height="2.30" fill="url(#o110)"/><rect x="37.0" y="239.0" width="255.0" height="2.30" fill="url(#o111)"/><rect x="37.0" y="241.0" width="255.0" height="2.30" fill="url(#o112)"/><rect x="37.0" y="243.0" width="255.0" height="2.30" fill="url(#o113)"/><rect x="37.0" y="245.0" width="255.0" height="2.30" fill="url(#o114)"/><rect x="37.0" y="247.0" width="255.0" height="2.30" fill="url(#o115)"/><rect x="37.0" y="249.0" width="255.0" height="2.30" fill="url(#o116)"/><rect x="37.0" y="251.0" width="255.0" height="2.30" fill="url(#o117)"/><rect x="37.0" y="253.0" width="255.0" height="2.30" fill="url(#o118)"/><rect x="37.0" y="255.0" width="255.0" height="2.30" fill="url(#o119)"/><rect x="37.0" y="257.0" width="255.0" height="2.30" fill="url(#o120)"/><rect x="37.0" y="259.0" width="255.0" height="2.30" fill="url(#o121)"/><g clip-path="url(#ctri)"><rect x="89.0" y="32.0" width="141.0" height="2.30" fill="url(#i0)"/><rect x="89.0" y="34.0" width="141.0" height="2.30" fill="url(#i1)"/><rect x="89.0" y="36.0" width="141.0" height="2.30" fill="url(#i2)"/><rect x="89.0" y="38.0" width="141.0" height="2.30" fill="url(#i3)"/><rect x="89.0" y="40.0" width="141.0" height="2.30" fill="url(#i4)"/><rect x="89.0" y="42.0" width="141.0" height="2.30" fill="url(#i5)"/><rect x="89.0" y="44.0" width="141.0" height="2.30" fill="url(#i6)"/><rect x="89.0" y="46.0" width="141.0" height="2.30" fill="url(#i7)"/><rect x="89.0" y="48.0" width="141.0" height="2.30" fill="url(#i8)"/><rect x="89.0" y="50.0" width="141.0" height="2.30" fill="url(#i9)"/><rect x="89.0" y="52.0" width="141.0" height="2.30" fill="url(#i10)"/><rect x="89.0" y="54.0" width="141.0" height="2.30" fill="url(#i11)"/><rect x="89.0" y="56.0" width="141.0" height="2.30" fill="url(#i12)"/><rect x="89.0" y="58.0" width="141.0" height="2.30" fill="url(#i13)"/><rect x="89.0" y="60.0" width="141.0" height="2.30" fill="url(#i14)"/><rect x="89.0" y="62.0" width="141.0" height="2.30" fill="url(#i15)"/><rect x="89.0" y="64.0" width="141.0" height="2.30" fill="url(#i16)"/><rect x="89.0" y="66.0" width="141.0" height="2.30" fill="url(#i17)"/><rect x="89.0" y="68.0" width="141.0" height="2.30" fill="url(#i18)"/><rect x="89.0" y="70.0" width="141.0" height="2.30" fill="url(#i19)"/><rect x="89.0" y="72.0" width="141.0" height="2.30" fill="url(#i20)"/><rect x="89.0" y="74.0" width="141.0" height="2.30" fill="url(#i21)"/><rect x="89.0" y="76.0" width="141.0" height="2.30" fill="url(#i22)"/><rect x="89.0" y="78.0" width="141.0" height="2.30" fill="url(#i23)"/><rect x="89.0" y="80.0" width="141.0" height="2.30" fill="url(#i24)"/><rect x="89.0" y="82.0" width="141.0" height="2.30" fill="url(#i25)"/><rect x="89.0" y="84.0" width="141.0" height="2.30" fill="url(#i26)"/><rect x="89.0" y="86.0" width="141.0" height="2.30" fill="url(#i27)"/><rect x="89.0" y="88.0" width="141.0" height="2.30" fill="url(#i28)"/><rect x="89.0" y="90.0" width="141.0" height="2.30" fill="url(#i29)"/><rect x="89.0" y="92.0" width="141.0" height="2.30" fill="url(#i30)"/><rect x="89.0" y="94.0" width="141.0" height="2.30" fill="url(#i31)"/><rect x="89.0" y="96.0" width="141.0" height="2.30" fill="url(#i32)"/><rect x="89.0" y="98.0" width="141.0" height="2.30" fill="url(#i33)"/><rect x="89.0" y="100.0" width="141.0" height="2.30" fill="url(#i34)"/><rect x="89.0" y="102.0" width="141.0" height="2.30" fill="url(#i35)"/><rect x="89.0" y="104.0" width="141.0" height="2.30" fill="url(#i36)"/><rect x="89.0" y="106.0" width="141.0" height="2.30" fill="url(#i37)"/><rect x="89.0" y="108.0" width="141.0" height="2.30" fill="url(#i38)"/><rect x="89.0" y="110.0" width="141.0" height="2.30" fill="url(#i39)"/><rect x="89.0" y="112.0" width="141.0" height="2.30" fill="url(#i40)"/><rect x="89.0" y="114.0" width="141.0" height="2.30" fill="url(#i41)"/><rect x="89.0" y="116.0" width="141.0" height="2.30" fill="url(#i42)"/><rect x="89.0" y="118.0" width="141.0" height="2.30" fill="url(#i43)"/><rect x="89.0" y="120.0" width="141.0" height="2.30" fill="url(#i44)"/><rect x="89.0" y="122.0" width="141.0" height="2.30" fill="url(#i45)"/><rect x="89.0" y="124.0" width="141.0" height="2.30" fill="url(#i46)"/><rect x="89.0" y="126.0" width="141.0" height="2.30" fill="url(#i47)"/><rect x="89.0" y="128.0" width="141.0" height="2.30" fill="url(#i48)"/><rect x="89.0" y="130.0" width="141.0" height="2.30" fill="url(#i49)"/><rect x="89.0" y="132.0" width="141.0" height="2.30" fill="url(#i50)"/><rect x="89.0" y="134.0" width="141.0" height="2.30" fill="url(#i51)"/><rect x="89.0" y="136.0" width="141.0" height="2.30" fill="url(#i52)"/><rect x="89.0" y="138.0" width="141.0" height="2.30" fill="url(#i53)"/><rect x="89.0" y="140.0" width="141.0" height="2.30" fill="url(#i54)"/><rect x="89.0" y="142.0" width="141.0" height="2.30" fill="url(#i55)"/><rect x="89.0" y="144.0" width="141.0" height="2.30" fill="url(#i56)"/><rect x="89.0" y="146.0" width="141.0" height="2.30" fill="url(#i57)"/><rect x="89.0" y="148.0" width="141.0" height="2.30" fill="url(#i58)"/><rect x="89.0" y="150.0" width="141.0" height="2.30" fill="url(#i59)"/><rect x="89.0" y="152.0" width="141.0" height="2.30" fill="url(#i60)"/><rect x="89.0" y="154.0" width="141.0" height="2.30" fill="url(#i61)"/><rect x="89.0" y="156.0" width="141.0" height="2.30" fill="url(#i62)"/><rect x="89.0" y="158.0" width="141.0" height="2.30" fill="url(#i63)"/><rect x="89.0" y="160.0" width="141.0" height="2.30" fill="url(#i64)"/><rect x="89.0" y="162.0" width="141.0" height="2.30" fill="url(#i65)"/><rect x="89.0" y="164.0" width="141.0" height="2.30" fill="url(#i66)"/><rect x="89.0" y="166.0" width="141.0" height="2.30" fill="url(#i67)"/><rect x="89.0" y="168.0" width="141.0" height="2.30" fill="url(#i68)"/><rect x="89.0" y="170.0" width="141.0" height="2.30" fill="url(#i69)"/><rect x="89.0" y="172.0" width="141.0" height="2.30" fill="url(#i70)"/><rect x="89.0" y="174.0" width="141.0" height="2.30" fill="url(#i71)"/><rect x="89.0" y="176.0" width="141.0" height="2.30" fill="url(#i72)"/><rect x="89.0" y="178.0" width="141.0" height="2.30" fill="url(#i73)"/><rect x="89.0" y="180.0" width="141.0" height="2.30" fill="url(#i74)"/><rect x="89.0" y="182.0" width="141.0" height="2.30" fill="url(#i75)"/><rect x="89.0" y="184.0" width="141.0" height="2.30" fill="url(#i76)"/><rect x="89.0" y="186.0" width="141.0" height="2.30" fill="url(#i77)"/><rect x="89.0" y="188.0" width="141.0" height="2.30" fill="url(#i78)"/><rect x="89.0" y="190.0" width="141.0" height="2.30" fill="url(#i79)"/><rect x="89.0" y="192.0" width="141.0" height="2.30" fill="url(#i80)"/><rect x="89.0" y="194.0" width="141.0" height="2.30" fill="url(#i81)"/><rect x="89.0" y="196.0" width="141.0" height="2.30" fill="url(#i82)"/><rect x="89.0" y="198.0" width="141.0" height="2.30" fill="url(#i83)"/><rect x="89.0" y="200.0" width="141.0" height="2.30" fill="url(#i84)"/></g></g></g>
<line x1="37.00" y1="16.50" x2="292.00" y2="16.50" stroke="#d0d0d0" stroke-width="1.00" />
<line x1="292.50" y1="16.90" x2="292.50" y2="266.50" stroke="#d0d0d0" stroke-width="1.00" />
<line x1="37.00" y1="16.90" x2="37.00" y2="269.50" stroke="#c6c6c6" stroke-width="1.40" />
<line x1="34.00" y1="266.50" x2="292.00" y2="266.50" stroke="#a0a0a0" stroke-width="1.00" />
<line x1="34.00" y1="266.50" x2="37.00" y2="266.50" stroke="#a0a0a0" stroke-width="1.00" />
<text transform="translate(33.80,269.50) scale(0.870,1)" font-size="8.10" text-anchor="end" fill="#3a3a3a" stroke="#3a3a3a" stroke-width="0.15">0</text>
<line x1="34.00" y1="245.50" x2="37.00" y2="245.50" stroke="#a0a0a0" stroke-width="1.00" />
<text transform="translate(33.80,248.70) scale(0.870,1)" font-size="8.10" text-anchor="end" fill="#3a3a3a" stroke="#3a3a3a" stroke-width="0.15">0,05</text>
<line x1="34.00" y1="224.50" x2="37.00" y2="224.50" stroke="#a0a0a0" stroke-width="1.00" />
<text transform="translate(33.80,227.90) scale(0.870,1)" font-size="8.10" text-anchor="end" fill="#3a3a3a" stroke="#3a3a3a" stroke-width="0.15">0,1</text>
<line x1="34.00" y1="204.50" x2="37.00" y2="204.50" stroke="#a0a0a0" stroke-width="1.00" />
<text transform="translate(33.80,207.10) scale(0.870,1)" font-size="8.10" text-anchor="end" fill="#3a3a3a" stroke="#3a3a3a" stroke-width="0.15">0,15</text>
<line x1="34.00" y1="183.50" x2="37.00" y2="183.50" stroke="#a0a0a0" stroke-width="1.00" />
<text transform="translate(33.80,186.30) scale(0.870,1)" font-size="8.10" text-anchor="end" fill="#3a3a3a" stroke="#3a3a3a" stroke-width="0.15">0,2</text>
<line x1="34.00" y1="162.50" x2="37.00" y2="162.50" stroke="#a0a0a0" stroke-width="1.00" />
<text transform="translate(33.80,165.50) scale(0.870,1)" font-size="8.10" text-anchor="end" fill="#3a3a3a" stroke="#3a3a3a" stroke-width="0.15">0,25</text>
<line x1="34.00" y1="141.50" x2="37.00" y2="141.50" stroke="#a0a0a0" stroke-width="1.00" />
<text transform="translate(33.80,144.70) scale(0.870,1)" font-size="8.10" text-anchor="end" fill="#3a3a3a" stroke="#3a3a3a" stroke-width="0.15">0,3</text>
<line x1="34.00" y1="120.50" x2="37.00" y2="120.50" stroke="#a0a0a0" stroke-width="1.00" />
<text transform="translate(33.80,123.90) scale(0.870,1)" font-size="8.10" text-anchor="end" fill="#3a3a3a" stroke="#3a3a3a" stroke-width="0.15">0,35</text>
<line x1="34.00" y1="100.50" x2="37.00" y2="100.50" stroke="#a0a0a0" stroke-width="1.00" />
<text transform="translate(33.80,103.10) scale(0.870,1)" font-size="8.10" text-anchor="end" fill="#3a3a3a" stroke="#3a3a3a" stroke-width="0.15">0,4</text>
<line x1="34.00" y1="79.50" x2="37.00" y2="79.50" stroke="#a0a0a0" stroke-width="1.00" />
<text transform="translate(33.80,82.30) scale(0.870,1)" font-size="8.10" text-anchor="end" fill="#3a3a3a" stroke="#3a3a3a" stroke-width="0.15">0,45</text>
<line x1="34.00" y1="58.50" x2="37.00" y2="58.50" stroke="#a0a0a0" stroke-width="1.00" />
<text transform="translate(33.80,61.50) scale(0.870,1)" font-size="8.10" text-anchor="end" fill="#3a3a3a" stroke="#3a3a3a" stroke-width="0.15">0,5</text>
<line x1="34.00" y1="37.50" x2="37.00" y2="37.50" stroke="#a0a0a0" stroke-width="1.00" />
<text transform="translate(33.80,40.70) scale(0.870,1)" font-size="8.10" text-anchor="end" fill="#3a3a3a" stroke="#3a3a3a" stroke-width="0.15">0,55</text>
<line x1="36.50" y1="266.50" x2="36.50" y2="269.50" stroke="#a0a0a0" stroke-width="1.00" />
<text transform="translate(37.00,278.30) scale(0.870,1)" font-size="8.10" text-anchor="middle" fill="#3a3a3a" stroke="#3a3a3a" stroke-width="0.15">0</text>
<line x1="79.50" y1="266.50" x2="79.50" y2="269.50" stroke="#a0a0a0" stroke-width="1.00" />
<text transform="translate(79.50,278.30) scale(0.870,1)" font-size="8.10" text-anchor="middle" fill="#3a3a3a" stroke="#3a3a3a" stroke-width="0.15">0,1</text>
<line x1="122.50" y1="266.50" x2="122.50" y2="269.50" stroke="#a0a0a0" stroke-width="1.00" />
<text transform="translate(122.00,278.30) scale(0.870,1)" font-size="8.10" text-anchor="middle" fill="#3a3a3a" stroke="#3a3a3a" stroke-width="0.15">0,2</text>
<line x1="164.50" y1="266.50" x2="164.50" y2="269.50" stroke="#a0a0a0" stroke-width="1.00" />
<text transform="translate(164.50,278.30) scale(0.870,1)" font-size="8.10" text-anchor="middle" fill="#3a3a3a" stroke="#3a3a3a" stroke-width="0.15">0,3</text>
<line x1="206.50" y1="266.50" x2="206.50" y2="269.50" stroke="#a0a0a0" stroke-width="1.00" />
<text transform="translate(207.00,278.30) scale(0.870,1)" font-size="8.10" text-anchor="middle" fill="#3a3a3a" stroke="#3a3a3a" stroke-width="0.15">0,4</text>
<line x1="249.50" y1="266.50" x2="249.50" y2="269.50" stroke="#a0a0a0" stroke-width="1.00" />
<text transform="translate(249.50,278.30) scale(0.870,1)" font-size="8.10" text-anchor="middle" fill="#3a3a3a" stroke="#3a3a3a" stroke-width="0.15">0,5</text>
<text x="134.5" y="13.6" font-size="7.90" text-anchor="start" fill="#444" textLength='43' lengthAdjust='spacingAndGlyphs'>CIE 1976 u'v'</text>
<path d="M115.19,93.88 L115.29,93.33 L115.40,92.76 L115.53,92.16 L115.66,91.52 L115.81,90.85 L115.97,90.15 L116.15,89.41 L116.34,88.63 L116.55,87.81 L116.79,86.95 L117.05,86.05 L117.33,85.10 L117.64,84.11 L117.98,83.07 L118.35,81.98 L118.76,80.85 L119.20,79.67 L119.69,78.44 L120.22,77.16 L120.79,75.84 L121.43,74.47 L122.11,73.05 L122.86,71.60 L123.67,70.10 L124.56,68.57 L125.52,67.01 L126.56,65.43 L127.68,63.82 L128.90,62.21 L130.22,60.59 L131.63,58.99 L133.16,57.39 L134.81,55.82 L136.57,54.29 L138.46,52.81 L140.49,51.38 L142.65,50.02 L144.95,48.74 L147.41,47.55 L150.01,46.45 L152.77,45.46 L155.69,44.57 L158.77,43.80 L162.01,43.14 L165.41,42.60 L168.97,42.18 L172.69,41.87 L176.57,41.68 L180.60,41.59 L184.77,41.61 L189.08,41.72 L193.52,41.92 L198.09,42.20 L202.77,42.55 L207.55,42.97 L212.42,43.45 L217.36,43.98 L222.38,44.54 L227.44,45.15" fill="none" stroke="#111" stroke-width="1.3"/>
<circle cx="140.30" cy="66.10" r="2.0" fill="rgba(120,120,120,0.45)" stroke="rgba(35,35,35,0.65)" stroke-width="0.8"/>
<circle cx="162.60" cy="62.10" r="2.0" fill="rgba(120,120,120,0.45)" stroke="rgba(35,35,35,0.65)" stroke-width="0.8"/>
<circle cx="183.60" cy="58.60" r="2.0" fill="rgba(120,120,120,0.45)" stroke="rgba(35,35,35,0.65)" stroke-width="0.8"/>
<circle cx="207.10" cy="52.40" r="2.0" fill="rgba(120,120,120,0.45)" stroke="rgba(35,35,35,0.65)" stroke-width="0.8"/>
<circle cx="228.00" cy="48.80" r="2.0" fill="rgba(120,120,120,0.45)" stroke="rgba(35,35,35,0.65)" stroke-width="0.8"/>
<circle cx="111.48" cy="59.53" r="2.0" fill="rgba(120,120,120,0.45)" stroke="rgba(35,35,35,0.65)" stroke-width="0.8"/>
<circle cx="103.74" cy="49.74" r="2.0" fill="rgba(120,120,120,0.45)" stroke="rgba(35,35,35,0.65)" stroke-width="0.8"/>
<circle cx="98.48" cy="43.08" r="2.0" fill="rgba(120,120,120,0.45)" stroke="rgba(35,35,35,0.65)" stroke-width="0.8"/>
<circle cx="93.53" cy="36.81" r="2.0" fill="rgba(120,120,120,0.45)" stroke="rgba(35,35,35,0.65)" stroke-width="0.8"/>
<circle cx="87.92" cy="30.10" r="2.0" fill="rgba(120,120,120,0.45)" stroke="rgba(35,35,35,0.65)" stroke-width="0.8"/>
<circle cx="120.00" cy="88.60" r="2.0" fill="rgba(120,120,120,0.45)" stroke="rgba(35,35,35,0.65)" stroke-width="0.8"/>
<circle cx="120.50" cy="135.90" r="2.0" fill="rgba(120,120,120,0.45)" stroke="rgba(35,35,35,0.65)" stroke-width="0.8"/>
<circle cx="120.50" cy="169.10" r="2.0" fill="rgba(120,120,120,0.45)" stroke="rgba(35,35,35,0.65)" stroke-width="0.8"/>
<circle cx="115.80" cy="72.30" r="2.0" fill="rgba(120,120,120,0.45)" stroke="rgba(35,35,35,0.65)" stroke-width="0.8"/>
<circle cx="110.80" cy="73.40" r="2.0" fill="rgba(120,120,120,0.45)" stroke="rgba(35,35,35,0.65)" stroke-width="0.8"/>
<circle cx="105.40" cy="74.40" r="2.0" fill="rgba(120,120,120,0.45)" stroke="rgba(35,35,35,0.65)" stroke-width="0.8"/>
<circle cx="100.30" cy="75.40" r="2.0" fill="rgba(120,120,120,0.45)" stroke="rgba(35,35,35,0.65)" stroke-width="0.8"/>
<circle cx="95.50" cy="76.10" r="2.0" fill="rgba(120,120,120,0.45)" stroke="rgba(35,35,35,0.65)" stroke-width="0.8"/>
<circle cx="127.80" cy="80.30" r="2.0" fill="rgba(120,120,120,0.45)" stroke="rgba(35,35,35,0.65)" stroke-width="0.8"/>
<circle cx="137.00" cy="92.50" r="2.0" fill="rgba(120,120,120,0.45)" stroke="rgba(35,35,35,0.65)" stroke-width="0.8"/>
<circle cx="146.50" cy="103.80" r="2.0" fill="rgba(120,120,120,0.45)" stroke="rgba(35,35,35,0.65)" stroke-width="0.8"/>
<circle cx="157.50" cy="117.50" r="2.0" fill="rgba(120,120,120,0.45)" stroke="rgba(35,35,35,0.65)" stroke-width="0.8"/>
<circle cx="171.00" cy="136.60" r="2.0" fill="rgba(120,120,120,0.45)" stroke="rgba(35,35,35,0.65)" stroke-width="0.8"/>
<circle cx="120.40" cy="62.10" r="2.0" fill="rgba(120,120,120,0.45)" stroke="rgba(35,35,35,0.65)" stroke-width="0.8"/>
<circle cx="120.20" cy="53.50" r="2.0" fill="rgba(120,120,120,0.45)" stroke="rgba(35,35,35,0.65)" stroke-width="0.8"/>
<circle cx="120.20" cy="46.00" r="2.0" fill="rgba(120,120,120,0.45)" stroke="rgba(35,35,35,0.65)" stroke-width="0.8"/>
<circle cx="120.60" cy="41.10" r="2.0" fill="rgba(120,120,120,0.45)" stroke="rgba(35,35,35,0.65)" stroke-width="0.8"/>
<circle cx="120.60" cy="34.70" r="2.0" fill="rgba(120,120,120,0.45)" stroke="rgba(35,35,35,0.65)" stroke-width="0.8"/>
<rect x="138.30" y="64.17" width="6.4" height="6.4" fill="none" stroke="rgba(255,255,255,0.8)" stroke-width="1.0"/>
<rect x="163.03" y="58.94" width="6.4" height="6.4" fill="none" stroke="rgba(255,255,255,0.8)" stroke-width="1.0"/>
<rect x="184.53" y="54.40" width="6.4" height="6.4" fill="none" stroke="rgba(255,255,255,0.8)" stroke-width="1.0"/>
<rect x="206.04" y="49.87" width="6.4" height="6.4" fill="none" stroke="rgba(255,255,255,0.8)" stroke-width="1.0"/>
<rect x="225.39" y="45.78" width="6.4" height="6.4" fill="none" stroke="rgba(255,255,255,0.8)" stroke-width="1.0"/>
<rect x="108.28" y="56.33" width="6.4" height="6.4" fill="none" stroke="rgba(255,255,255,0.8)" stroke-width="1.0"/>
<rect x="100.54" y="46.54" width="6.4" height="6.4" fill="none" stroke="rgba(255,255,255,0.8)" stroke-width="1.0"/>
<rect x="95.28" y="39.88" width="6.4" height="6.4" fill="none" stroke="rgba(255,255,255,0.8)" stroke-width="1.0"/>
<rect x="90.33" y="33.61" width="6.4" height="6.4" fill="none" stroke="rgba(255,255,255,0.8)" stroke-width="1.0"/>
<rect x="86.92" y="29.30" width="6.4" height="6.4" fill="none" stroke="rgba(255,255,255,0.8)" stroke-width="1.0"/>
<rect x="116.61" y="85.65" width="6.4" height="6.4" fill="none" stroke="rgba(255,255,255,0.8)" stroke-width="1.0"/>
<rect x="115.12" y="105.93" width="6.4" height="6.4" fill="none" stroke="rgba(255,255,255,0.8)" stroke-width="1.0"/>
<rect x="113.28" y="130.85" width="6.4" height="6.4" fill="none" stroke="rgba(255,255,255,0.8)" stroke-width="1.0"/>
<rect x="110.95" y="162.62" width="6.4" height="6.4" fill="none" stroke="rgba(255,255,255,0.8)" stroke-width="1.0"/>
<rect x="108.37" y="197.61" width="6.4" height="6.4" fill="none" stroke="rgba(255,255,255,0.8)" stroke-width="1.0"/>
<rect x="112.57" y="69.60" width="6.4" height="6.4" fill="none" stroke="rgba(255,255,255,0.8)" stroke-width="1.0"/>
<rect x="107.51" y="70.67" width="6.4" height="6.4" fill="none" stroke="rgba(255,255,255,0.8)" stroke-width="1.0"/>
<rect x="102.20" y="71.79" width="6.4" height="6.4" fill="none" stroke="rgba(255,255,255,0.8)" stroke-width="1.0"/>
<rect x="97.15" y="72.86" width="6.4" height="6.4" fill="none" stroke="rgba(255,255,255,0.8)" stroke-width="1.0"/>
<rect x="92.60" y="73.82" width="6.4" height="6.4" fill="none" stroke="rgba(255,255,255,0.8)" stroke-width="1.0"/>
<rect x="124.58" y="76.96" width="6.4" height="6.4" fill="none" stroke="rgba(255,255,255,0.8)" stroke-width="1.0"/>
<rect x="133.83" y="88.66" width="6.4" height="6.4" fill="none" stroke="rgba(255,255,255,0.8)" stroke-width="1.0"/>
<rect x="142.49" y="99.62" width="6.4" height="6.4" fill="none" stroke="rgba(255,255,255,0.8)" stroke-width="1.0"/>
<rect x="152.74" y="112.59" width="6.4" height="6.4" fill="none" stroke="rgba(255,255,255,0.8)" stroke-width="1.0"/>
<rect x="163.45" y="126.14" width="6.4" height="6.4" fill="none" stroke="rgba(255,255,255,0.8)" stroke-width="1.0"/>
<rect x="118.55" y="59.33" width="6.4" height="6.4" fill="none" stroke="rgba(255,255,255,0.8)" stroke-width="1.0"/>
<rect x="119.18" y="50.89" width="6.4" height="6.4" fill="none" stroke="rgba(255,255,255,0.8)" stroke-width="1.0"/>
<rect x="119.70" y="43.85" width="6.4" height="6.4" fill="none" stroke="rgba(255,255,255,0.8)" stroke-width="1.0"/>
<rect x="120.11" y="38.22" width="6.4" height="6.4" fill="none" stroke="rgba(255,255,255,0.8)" stroke-width="1.0"/>
<rect x="120.47" y="33.29" width="6.4" height="6.4" fill="none" stroke="rgba(255,255,255,0.8)" stroke-width="1.0"/>
<circle cx="120.58" cy="71.68" r="2.4" fill="#fff" stroke="#888" stroke-width="0.5"/>
<circle cx="117.5" cy="109.5" r="2.2" fill="#000"/>
<text x="381.6" y="17.9" font-size="7.90" text-anchor="start" fill="#444" textLength='61' lengthAdjust='spacingAndGlyphs'>Gamut Luminance</text>
<line x1="310.50" y1="48.50" x2="526.60" y2="48.50" stroke="#a0a0a0" stroke-width="1.00" />
<line x1="310.50" y1="76.50" x2="526.60" y2="76.50" stroke="#a0a0a0" stroke-width="1.00" />
<line x1="310.50" y1="103.50" x2="526.60" y2="103.50" stroke="#a0a0a0" stroke-width="1.00" />
<line x1="310.50" y1="129.50" x2="526.60" y2="129.50" stroke="#a0a0a0" stroke-width="1.00" />
<line x1="310.50" y1="21.50" x2="526.60" y2="21.50" stroke="#888" stroke-width="1.00" />
<line x1="526.50" y1="21.40" x2="526.50" y2="129.60" stroke="#d0d0d0" stroke-width="1.00" />
<line x1="310.50" y1="21.40" x2="310.50" y2="129.60" stroke="#c6c6c6" stroke-width="1.40" />
<line x1="307.50" y1="21.50" x2="310.50" y2="21.50" stroke="#a0a0a0" stroke-width="1.00" />
<text transform="translate(307.30,24.55) scale(0.870,1)" font-size="8.10" text-anchor="end" fill="#3a3a3a" stroke="#3a3a3a" stroke-width="0.15">40</text>
<line x1="307.50" y1="48.50" x2="310.50" y2="48.50" stroke="#a0a0a0" stroke-width="1.00" />
<text transform="translate(307.30,51.77) scale(0.870,1)" font-size="8.10" text-anchor="end" fill="#3a3a3a" stroke="#3a3a3a" stroke-width="0.15">20</text>
<line x1="307.50" y1="76.50" x2="310.50" y2="76.50" stroke="#a0a0a0" stroke-width="1.00" />
<text transform="translate(307.30,79.00) scale(0.870,1)" font-size="8.10" text-anchor="end" fill="#3a3a3a" stroke="#3a3a3a" stroke-width="0.15">0</text>
<line x1="307.50" y1="103.50" x2="310.50" y2="103.50" stroke="#a0a0a0" stroke-width="1.00" />
<text transform="translate(307.30,106.22) scale(0.870,1)" font-size="8.10" text-anchor="end" fill="#3a3a3a" stroke="#3a3a3a" stroke-width="0.15">-20</text>
<line x1="307.50" y1="129.50" x2="310.50" y2="129.50" stroke="#a0a0a0" stroke-width="1.00" />
<text transform="translate(307.30,132.60) scale(0.870,1)" font-size="8.10" text-anchor="end" fill="#3a3a3a" stroke="#3a3a3a" stroke-width="0.15">-40</text>
<rect x="313.10" y="75.59" width="21.51" height="1.20" fill="url(#gl0)" />
<text transform="translate(324.01,138.40) scale(0.870,1)" font-size="8.10" text-anchor="middle" fill="#3a3a3a" stroke="#3a3a3a" stroke-width="0.15">White</text>
<line x1="310.50" y1="129.60" x2="310.50" y2="132.60" stroke="#a0a0a0" stroke-width="1.00" />
<rect x="340.11" y="76.00" width="21.51" height="17.02" fill="url(#gl1)" stroke="#333" stroke-width="0.5"/>
<text transform="translate(351.02,138.40) scale(0.870,1)" font-size="8.10" text-anchor="middle" fill="#3a3a3a" stroke="#3a3a3a" stroke-width="0.15">Red</text>
<line x1="337.50" y1="129.60" x2="337.50" y2="132.60" stroke="#a0a0a0" stroke-width="1.00" />
<rect x="367.12" y="76.00" width="21.51" height="2.45" fill="url(#gl2)" />
<text transform="translate(378.03,138.40) scale(0.870,1)" font-size="8.10" text-anchor="middle" fill="#3a3a3a" stroke="#3a3a3a" stroke-width="0.15">Green</text>
<line x1="364.50" y1="129.60" x2="364.50" y2="132.60" stroke="#a0a0a0" stroke-width="1.00" />
<rect x="394.14" y="76.00" width="21.51" height="25.18" fill="url(#gl3)" stroke="#333" stroke-width="0.5"/>
<text transform="translate(405.04,138.40) scale(0.870,1)" font-size="8.10" text-anchor="middle" fill="#3a3a3a" stroke="#3a3a3a" stroke-width="0.15">Blue</text>
<line x1="391.50" y1="129.60" x2="391.50" y2="132.60" stroke="#a0a0a0" stroke-width="1.00" />
<rect x="421.15" y="76.00" width="21.51" height="2.72" fill="url(#gl4)" />
<text transform="translate(432.06,138.40) scale(0.870,1)" font-size="8.10" text-anchor="middle" fill="#3a3a3a" stroke="#3a3a3a" stroke-width="0.15">Cyan</text>
<line x1="418.50" y1="129.60" x2="418.50" y2="132.60" stroke="#a0a0a0" stroke-width="1.00" />
<rect x="448.16" y="76.00" width="21.51" height="16.34" fill="url(#gl5)" stroke="#333" stroke-width="0.5"/>
<text transform="translate(459.07,138.40) scale(0.870,1)" font-size="8.10" text-anchor="middle" fill="#3a3a3a" stroke="#3a3a3a" stroke-width="0.15">Magenta</text>
<line x1="445.50" y1="129.60" x2="445.50" y2="132.60" stroke="#a0a0a0" stroke-width="1.00" />
<rect x="475.18" y="76.00" width="21.51" height="1.20" fill="url(#gl6)" />
<text transform="translate(486.08,138.40) scale(0.870,1)" font-size="8.10" text-anchor="middle" fill="#3a3a3a" stroke="#3a3a3a" stroke-width="0.15">Yellow</text>
<line x1="472.50" y1="129.60" x2="472.50" y2="132.60" stroke="#a0a0a0" stroke-width="1.00" />
<rect x="502.19" y="76.00" width="21.51" height="1.20" fill="url(#gl7)" />
<text transform="translate(513.09,138.40) scale(0.870,1)" font-size="8.10" text-anchor="middle" fill="#3a3a3a" stroke="#3a3a3a" stroke-width="0.15">100W</text>
<line x1="499.50" y1="129.60" x2="499.50" y2="132.60" stroke="#a0a0a0" stroke-width="1.00" />
<line x1="307.50" y1="129.50" x2="526.60" y2="129.50" stroke="#a0a0a0" stroke-width="1.00" />
<line x1="308.30" y1="196.50" x2="526.60" y2="196.50" stroke="#b87272" stroke-width="1.00" />
<line x1="308.30" y1="232.50" x2="526.60" y2="232.50" stroke="#a0a0a0" stroke-width="1.00" />
<line x1="308.30" y1="246.50" x2="526.60" y2="246.50" stroke="#ecec8c" stroke-width="1.00" />
<line x1="308.30" y1="261.50" x2="526.60" y2="261.50" stroke="#74b474" stroke-width="1.00" />
<line x1="308.30" y1="159.50" x2="329.00" y2="159.50" stroke="#999" stroke-width="1.00" />
<line x1="526.50" y1="158.80" x2="526.50" y2="268.40" stroke="#d0d0d0" stroke-width="1.00" />
<line x1="308.30" y1="159.80" x2="308.30" y2="271.40" stroke="#c6c6c6" stroke-width="1.40" />
<line x1="305.30" y1="268.50" x2="526.60" y2="268.50" stroke="#a0a0a0" stroke-width="1.00" />
<line x1="305.30" y1="159.50" x2="308.30" y2="159.50" stroke="#a0a0a0" stroke-width="1.00" />
<text transform="translate(305.10,162.80) scale(0.870,1)" font-size="8.10" text-anchor="end" fill="#3a3a3a" stroke="#3a3a3a" stroke-width="0.15">15</text>
<line x1="305.30" y1="196.50" x2="308.30" y2="196.50" stroke="#a0a0a0" stroke-width="1.00" />
<text transform="translate(305.10,199.00) scale(0.870,1)" font-size="8.10" text-anchor="end" fill="#3a3a3a" stroke="#3a3a3a" stroke-width="0.15">10</text>
<line x1="305.30" y1="232.50" x2="308.30" y2="232.50" stroke="#a0a0a0" stroke-width="1.00" />
<text transform="translate(305.10,235.20) scale(0.870,1)" font-size="8.10" text-anchor="end" fill="#3a3a3a" stroke="#3a3a3a" stroke-width="0.15">5</text>
<line x1="305.30" y1="268.50" x2="308.30" y2="268.50" stroke="#a0a0a0" stroke-width="1.00" />
<text transform="translate(305.10,271.40) scale(0.870,1)" font-size="8.10" text-anchor="end" fill="#3a3a3a" stroke="#3a3a3a" stroke-width="0.15">0</text>
<text transform="translate(323.89,277.20) scale(0.870,1)" font-size="8.10" text-anchor="middle" fill="#3a3a3a" stroke="#3a3a3a" stroke-width="0.15">0</text>
<text transform="translate(355.08,277.20) scale(0.870,1)" font-size="8.10" text-anchor="middle" fill="#3a3a3a" stroke="#3a3a3a" stroke-width="0.15">100</text>
<line x1="339.50" y1="268.40" x2="339.50" y2="271.40" stroke="#a0a0a0" stroke-width="1.00" />
<text transform="translate(386.26,277.20) scale(0.870,1)" font-size="8.10" text-anchor="middle" fill="#3a3a3a" stroke="#3a3a3a" stroke-width="0.15">20%</text>
<line x1="370.50" y1="268.40" x2="370.50" y2="271.40" stroke="#a0a0a0" stroke-width="1.00" />
<text transform="translate(417.45,277.20) scale(0.870,1)" font-size="8.10" text-anchor="middle" fill="#3a3a3a" stroke="#3a3a3a" stroke-width="0.15">40%</text>
<line x1="401.50" y1="268.40" x2="401.50" y2="271.40" stroke="#a0a0a0" stroke-width="1.00" />
<text transform="translate(448.64,277.20) scale(0.870,1)" font-size="8.10" text-anchor="middle" fill="#3a3a3a" stroke="#3a3a3a" stroke-width="0.15">60%</text>
<line x1="433.50" y1="268.40" x2="433.50" y2="271.40" stroke="#a0a0a0" stroke-width="1.00" />
<text transform="translate(479.82,277.20) scale(0.870,1)" font-size="8.10" text-anchor="middle" fill="#3a3a3a" stroke="#3a3a3a" stroke-width="0.15">80%</text>
<line x1="464.50" y1="268.40" x2="464.50" y2="271.40" stroke="#a0a0a0" stroke-width="1.00" />
<text transform="translate(511.01,277.20) scale(0.870,1)" font-size="8.10" text-anchor="middle" fill="#3a3a3a" stroke="#3a3a3a" stroke-width="0.15">100%</text>
<line x1="495.50" y1="268.40" x2="495.50" y2="271.40" stroke="#a0a0a0" stroke-width="1.00" />
<rect x="372.97" y="260.51" width="3.20" height="7.89" fill="url(#dg0_0)" stroke="#333" stroke-width="0.4"/>
<rect x="376.42" y="267.53" width="3.20" height="0.87" fill="url(#dg0_1)" stroke="#333" stroke-width="0.4"/>
<rect x="379.87" y="256.60" width="3.20" height="11.80" fill="url(#dg0_2)" stroke="#333" stroke-width="0.4"/>
<rect x="383.32" y="264.42" width="3.20" height="3.98" fill="url(#dg0_3)" stroke="#333" stroke-width="0.4"/>
<rect x="386.77" y="263.11" width="3.20" height="5.29" fill="url(#dg0_4)" stroke="#333" stroke-width="0.4"/>
<rect x="390.22" y="254.64" width="3.20" height="13.76" fill="url(#dg0_5)" stroke="#333" stroke-width="0.4"/>
<rect x="404.16" y="258.48" width="3.20" height="9.92" fill="url(#dg1_0)" stroke="#333" stroke-width="0.4"/>
<rect x="407.61" y="266.95" width="3.20" height="1.45" fill="url(#dg1_1)" stroke="#333" stroke-width="0.4"/>
<rect x="411.06" y="251.31" width="3.20" height="17.09" fill="url(#dg1_2)" stroke="#333" stroke-width="0.4"/>
<rect x="414.51" y="261.88" width="3.20" height="6.52" fill="url(#dg1_3)" stroke="#333" stroke-width="0.4"/>
<rect x="417.96" y="264.78" width="3.20" height="3.62" fill="url(#dg1_4)" stroke="#333" stroke-width="0.4"/>
<rect x="421.41" y="252.62" width="3.20" height="15.78" fill="url(#dg1_5)" stroke="#333" stroke-width="0.4"/>
<rect x="435.34" y="255.66" width="3.20" height="12.74" fill="url(#dg2_0)" stroke="#333" stroke-width="0.4"/>
<rect x="438.79" y="264.06" width="3.20" height="4.34" fill="url(#dg2_1)" stroke="#333" stroke-width="0.4"/>
<rect x="442.24" y="244.00" width="3.20" height="24.40" fill="url(#dg2_2)" stroke="#333" stroke-width="0.4"/>
<rect x="445.69" y="261.52" width="3.20" height="6.88" fill="url(#dg2_3)" stroke="#333" stroke-width="0.4"/>
<rect x="449.14" y="260.80" width="3.20" height="7.60" fill="url(#dg2_4)" stroke="#333" stroke-width="0.4"/>
<rect x="452.59" y="250.30" width="3.20" height="18.10" fill="url(#dg2_5)" stroke="#333" stroke-width="0.4"/>
<rect x="466.53" y="257.47" width="3.20" height="10.93" fill="url(#dg3_0)" stroke="#333" stroke-width="0.4"/>
<rect x="469.98" y="264.78" width="3.20" height="3.62" fill="url(#dg3_1)" stroke="#333" stroke-width="0.4"/>
<rect x="473.43" y="240.16" width="3.20" height="28.24" fill="url(#dg3_2)" stroke="#333" stroke-width="0.4"/>
<rect x="476.88" y="264.78" width="3.20" height="3.62" fill="url(#dg3_3)" stroke="#333" stroke-width="0.4"/>
<rect x="480.33" y="258.48" width="3.20" height="9.92" fill="url(#dg3_4)" stroke="#333" stroke-width="0.4"/>
<rect x="483.78" y="252.62" width="3.20" height="15.78" fill="url(#dg3_5)" stroke="#333" stroke-width="0.4"/>
<rect x="497.71" y="246.68" width="3.20" height="21.72" fill="url(#dg4_0)" stroke="#333" stroke-width="0.4"/>
<rect x="501.16" y="258.48" width="3.20" height="9.92" fill="url(#dg4_1)" stroke="#333" stroke-width="0.4"/>
<rect x="504.61" y="236.18" width="3.20" height="32.22" fill="url(#dg4_2)" stroke="#333" stroke-width="0.4"/>
<rect x="508.06" y="262.25" width="3.20" height="6.15" fill="url(#dg4_3)" stroke="#333" stroke-width="0.4"/>
<rect x="511.51" y="248.13" width="3.20" height="20.27" fill="url(#dg4_4)" stroke="#333" stroke-width="0.4"/>
<rect x="514.96" y="253.20" width="3.20" height="15.20" fill="url(#dg4_5)" stroke="#333" stroke-width="0.4"/>
<line x1="308.30" y1="261.50" x2="526.60" y2="261.50" stroke="rgba(80,160,80,0.4)" stroke-width="1.00" />
<rect x="332.30" y="264.42" width="3.20" height="3.98" fill="#000" />
<rect x="363.30" y="263.33" width="3.60" height="5.07" fill="#fff" stroke="#555" stroke-width="0.6"/>
<text x="329.6" y="158.7" font-size="15.20" text-anchor="start" fill="#262626" stroke='#262626' stroke-width='0.3' textLength='176' lengthAdjust='spacingAndGlyphs'>Average DeltaE2000: 1,67</text>
<text x="626.4" y="17.7" font-size="7.90" text-anchor="start" fill="#444" textLength='41.8' lengthAdjust='spacingAndGlyphs'>RGB Balance</text>
<line x1="552.70" y1="37.50" x2="755.20" y2="37.50" stroke="#a0a0a0" stroke-width="1.00" />
<line x1="552.70" y1="71.50" x2="755.20" y2="71.50" stroke="#a0a0a0" stroke-width="1.00" />
<line x1="552.70" y1="105.50" x2="755.20" y2="105.50" stroke="#a0a0a0" stroke-width="1.00" />
<line x1="552.70" y1="139.50" x2="755.20" y2="139.50" stroke="#a0a0a0" stroke-width="1.00" />
<line x1="552.70" y1="173.50" x2="755.20" y2="173.50" stroke="#a0a0a0" stroke-width="1.00" />
<line x1="552.70" y1="20.50" x2="755.20" y2="20.50" stroke="#d0d0d0" stroke-width="1.00" />
<line x1="755.50" y1="20.90" x2="755.50" y2="190.70" stroke="#d0d0d0" stroke-width="1.00" />
<line x1="552.70" y1="20.90" x2="552.70" y2="193.70" stroke="#c6c6c6" stroke-width="1.40" />
<line x1="552.70" y1="190.50" x2="755.20" y2="190.50" stroke="#a0a0a0" stroke-width="1.00" />
<line x1="549.70" y1="37.50" x2="552.70" y2="37.50" stroke="#a0a0a0" stroke-width="1.00" />
<text transform="translate(549.50,40.90) scale(0.870,1)" font-size="8.10" text-anchor="end" fill="#3a3a3a" stroke="#3a3a3a" stroke-width="0.15">40</text>
<line x1="549.70" y1="71.50" x2="552.70" y2="71.50" stroke="#a0a0a0" stroke-width="1.00" />
<text transform="translate(549.50,74.90) scale(0.870,1)" font-size="8.10" text-anchor="end" fill="#3a3a3a" stroke="#3a3a3a" stroke-width="0.15">20</text>
<line x1="549.70" y1="105.50" x2="552.70" y2="105.50" stroke="#a0a0a0" stroke-width="1.00" />
<text transform="translate(549.50,108.90) scale(0.870,1)" font-size="8.10" text-anchor="end" fill="#3a3a3a" stroke="#3a3a3a" stroke-width="0.15">0</text>
<line x1="549.70" y1="139.50" x2="552.70" y2="139.50" stroke="#a0a0a0" stroke-width="1.00" />
<text transform="translate(549.50,142.90) scale(0.870,1)" font-size="8.10" text-anchor="end" fill="#3a3a3a" stroke="#3a3a3a" stroke-width="0.15">-20</text>
<line x1="549.70" y1="173.50" x2="552.70" y2="173.50" stroke="#a0a0a0" stroke-width="1.00" />
<text transform="translate(549.50,176.90) scale(0.870,1)" font-size="8.10" text-anchor="end" fill="#3a3a3a" stroke="#3a3a3a" stroke-width="0.15">-40</text>
<text transform="translate(552.70,200.80) scale(0.870,1)" font-size="8.10" text-anchor="middle" fill="#3a3a3a" stroke="#3a3a3a" stroke-width="0.15">0</text>
<line x1="552.50" y1="190.70" x2="552.50" y2="193.70" stroke="#a0a0a0" stroke-width="1.00" />
<text transform="translate(593.20,200.80) scale(0.870,1)" font-size="8.10" text-anchor="middle" fill="#3a3a3a" stroke="#3a3a3a" stroke-width="0.15">20</text>
<line x1="593.50" y1="190.70" x2="593.50" y2="193.70" stroke="#a0a0a0" stroke-width="1.00" />
<text transform="translate(633.70,200.80) scale(0.870,1)" font-size="8.10" text-anchor="middle" fill="#3a3a3a" stroke="#3a3a3a" stroke-width="0.15">40</text>
<line x1="633.50" y1="190.70" x2="633.50" y2="193.70" stroke="#a0a0a0" stroke-width="1.00" />
<text transform="translate(674.20,200.80) scale(0.870,1)" font-size="8.10" text-anchor="middle" fill="#3a3a3a" stroke="#3a3a3a" stroke-width="0.15">60</text>
<line x1="674.50" y1="190.70" x2="674.50" y2="193.70" stroke="#a0a0a0" stroke-width="1.00" />
<text transform="translate(714.70,200.80) scale(0.870,1)" font-size="8.10" text-anchor="middle" fill="#3a3a3a" stroke="#3a3a3a" stroke-width="0.15">80</text>
<line x1="714.50" y1="190.70" x2="714.50" y2="193.70" stroke="#a0a0a0" stroke-width="1.00" />
<text transform="translate(755.20,200.80) scale(0.870,1)" font-size="8.10" text-anchor="middle" fill="#3a3a3a" stroke="#3a3a3a" stroke-width="0.15">100</text>
<line x1="755.50" y1="190.70" x2="755.50" y2="193.70" stroke="#a0a0a0" stroke-width="1.00" />
<polyline points="552.7,105.1 562.8,105.6 573.0,109.8 583.1,109.8 593.2,105.9 603.3,105.9 613.5,106.4 633.7,108.3 654.0,106.8 674.2,105.1 694.5,107.3 714.7,109.3 735.0,105.4 755.2,106.8" fill="none" stroke="#e03030" stroke-width="1.4"/>
<polyline points="552.7,104.5 562.8,106.8 573.0,110.7 583.1,111.9 593.2,107.6 603.3,100.8 613.5,106.8 633.7,106.8 654.0,106.8 674.2,106.8 694.5,106.2 714.7,105.6 735.0,105.1 755.2,105.4" fill="none" stroke="#30a030" stroke-width="1.4"/>
<polyline points="552.7,103.7 562.8,105.6 573.0,113.7 583.1,118.1 593.2,107.6 603.3,100.8 613.5,100.8 633.7,106.2 654.0,104.5 674.2,103.7 694.5,105.1 714.7,103.7 735.0,104.9 755.2,103.4" fill="none" stroke="#2030c0" stroke-width="1.4"/>
<line x1="564.60" y1="338.50" x2="754.90" y2="338.50" stroke="#a0a0a0" stroke-width="1.00" />
<line x1="564.60" y1="319.50" x2="754.90" y2="319.50" stroke="#a0a0a0" stroke-width="1.00" />
<line x1="564.60" y1="300.50" x2="754.90" y2="300.50" stroke="#a0a0a0" stroke-width="1.00" />
<line x1="564.60" y1="280.50" x2="754.90" y2="280.50" stroke="#a0a0a0" stroke-width="1.00" />
<line x1="564.60" y1="261.50" x2="754.90" y2="261.50" stroke="#a0a0a0" stroke-width="1.00" />
<line x1="564.60" y1="241.50" x2="754.90" y2="241.50" stroke="#a0a0a0" stroke-width="1.00" />
<line x1="564.60" y1="222.50" x2="575.00" y2="222.50" stroke="#a0a0a0" stroke-width="1.00" />
<line x1="564.60" y1="289.50" x2="754.90" y2="289.50" stroke="#ecd8b4" stroke-width="1.00" />
<line x1="754.50" y1="222.20" x2="754.50" y2="358.40" stroke="#d0d0d0" stroke-width="1.00" />
<line x1="564.60" y1="222.20" x2="564.60" y2="361.40" stroke="#c6c6c6" stroke-width="1.40" />
<line x1="561.60" y1="358.50" x2="754.90" y2="358.50" stroke="#a0a0a0" stroke-width="1.00" />
<line x1="561.60" y1="358.50" x2="564.60" y2="358.50" stroke="#a0a0a0" stroke-width="1.00" />
<text transform="translate(560.60,361.40) scale(0.870,1)" font-size="8.10" text-anchor="end" fill="#3a3a3a" stroke="#3a3a3a" stroke-width="0.15">3000</text>
<line x1="561.60" y1="338.50" x2="564.60" y2="338.50" stroke="#a0a0a0" stroke-width="1.00" />
<text transform="translate(560.60,341.94) scale(0.870,1)" font-size="8.10" text-anchor="end" fill="#3a3a3a" stroke="#3a3a3a" stroke-width="0.15">4000</text>
<line x1="561.60" y1="319.50" x2="564.60" y2="319.50" stroke="#a0a0a0" stroke-width="1.00" />
<text transform="translate(560.60,322.49) scale(0.870,1)" font-size="8.10" text-anchor="end" fill="#3a3a3a" stroke="#3a3a3a" stroke-width="0.15">5000</text>
<line x1="561.60" y1="300.50" x2="564.60" y2="300.50" stroke="#a0a0a0" stroke-width="1.00" />
<text transform="translate(560.60,303.03) scale(0.870,1)" font-size="8.10" text-anchor="end" fill="#3a3a3a" stroke="#3a3a3a" stroke-width="0.15">6000</text>
<line x1="561.60" y1="280.50" x2="564.60" y2="280.50" stroke="#a0a0a0" stroke-width="1.00" />
<text transform="translate(560.60,283.57) scale(0.870,1)" font-size="8.10" text-anchor="end" fill="#3a3a3a" stroke="#3a3a3a" stroke-width="0.15">7000</text>
<line x1="561.60" y1="261.50" x2="564.60" y2="261.50" stroke="#a0a0a0" stroke-width="1.00" />
<text transform="translate(560.60,264.11) scale(0.870,1)" font-size="8.10" text-anchor="end" fill="#3a3a3a" stroke="#3a3a3a" stroke-width="0.15">8000</text>
<line x1="561.60" y1="241.50" x2="564.60" y2="241.50" stroke="#a0a0a0" stroke-width="1.00" />
<text transform="translate(560.60,244.66) scale(0.870,1)" font-size="8.10" text-anchor="end" fill="#3a3a3a" stroke="#3a3a3a" stroke-width="0.15">9000</text>
<line x1="561.60" y1="222.50" x2="564.60" y2="222.50" stroke="#a0a0a0" stroke-width="1.00" />
<text transform="translate(560.60,225.20) scale(0.870,1)" font-size="8.10" text-anchor="end" fill="#3a3a3a" stroke="#3a3a3a" stroke-width="0.15">10000</text>
<rect x="565.00" y="226.48" width="10.20" height="131.92" fill="url(#cc0)" stroke="#444" stroke-width="0.5"/>
<text transform="translate(570.10,367.20) scale(0.870,1)" font-size="8.10" text-anchor="middle" fill="#3a3a3a" stroke="#3a3a3a" stroke-width="0.15">0</text>
<line x1="563.50" y1="358.40" x2="563.50" y2="361.40" stroke="#a0a0a0" stroke-width="1.00" />
<rect x="578.67" y="235.82" width="10.20" height="122.58" fill="url(#cc1)" stroke="#444" stroke-width="0.5"/>
<text transform="translate(583.77,367.20) scale(0.870,1)" font-size="8.10" text-anchor="middle" fill="#3a3a3a" stroke="#3a3a3a" stroke-width="0.15">5</text>
<line x1="576.50" y1="358.40" x2="576.50" y2="361.40" stroke="#a0a0a0" stroke-width="1.00" />
<rect x="592.34" y="313.26" width="10.20" height="45.14" fill="url(#cc2)" stroke="#444" stroke-width="0.5"/>
<text transform="translate(597.44,367.20) scale(0.870,1)" font-size="8.10" text-anchor="middle" fill="#3a3a3a" stroke="#3a3a3a" stroke-width="0.15">10</text>
<line x1="590.50" y1="358.40" x2="590.50" y2="361.40" stroke="#a0a0a0" stroke-width="1.00" />
<rect x="606.01" y="304.89" width="10.20" height="53.51" fill="url(#cc3)" stroke="#444" stroke-width="0.5"/>
<text transform="translate(611.11,367.20) scale(0.870,1)" font-size="8.10" text-anchor="middle" fill="#3a3a3a" stroke="#3a3a3a" stroke-width="0.15">15</text>
<line x1="604.50" y1="358.40" x2="604.50" y2="361.40" stroke="#a0a0a0" stroke-width="1.00" />
<rect x="619.68" y="294.00" width="10.20" height="64.40" fill="url(#cc4)" stroke="#444" stroke-width="0.5"/>
<text transform="translate(624.78,367.20) scale(0.870,1)" font-size="8.10" text-anchor="middle" fill="#3a3a3a" stroke="#3a3a3a" stroke-width="0.15">20</text>
<line x1="617.50" y1="358.40" x2="617.50" y2="361.40" stroke="#a0a0a0" stroke-width="1.00" />
<rect x="633.35" y="282.91" width="10.20" height="75.49" fill="url(#cc5)" stroke="#444" stroke-width="0.5"/>
<text transform="translate(638.45,367.20) scale(0.870,1)" font-size="8.10" text-anchor="middle" fill="#3a3a3a" stroke="#3a3a3a" stroke-width="0.15">25</text>
<line x1="631.50" y1="358.40" x2="631.50" y2="361.40" stroke="#a0a0a0" stroke-width="1.00" />
<rect x="647.02" y="282.91" width="10.20" height="75.49" fill="url(#cc6)" stroke="#444" stroke-width="0.5"/>
<text transform="translate(652.12,367.20) scale(0.870,1)" font-size="8.10" text-anchor="middle" fill="#3a3a3a" stroke="#3a3a3a" stroke-width="0.15">30</text>
<line x1="645.50" y1="358.40" x2="645.50" y2="361.40" stroke="#a0a0a0" stroke-width="1.00" />
<rect x="660.69" y="288.35" width="10.20" height="70.05" fill="url(#cc7)" stroke="#444" stroke-width="0.5"/>
<text transform="translate(665.79,367.20) scale(0.870,1)" font-size="8.10" text-anchor="middle" fill="#3a3a3a" stroke="#3a3a3a" stroke-width="0.15">40</text>
<line x1="658.50" y1="358.40" x2="658.50" y2="361.40" stroke="#a0a0a0" stroke-width="1.00" />
<rect x="674.36" y="288.35" width="10.20" height="70.05" fill="url(#cc8)" stroke="#444" stroke-width="0.5"/>
<text transform="translate(679.46,367.20) scale(0.870,1)" font-size="8.10" text-anchor="middle" fill="#3a3a3a" stroke="#3a3a3a" stroke-width="0.15">50</text>
<line x1="672.50" y1="358.40" x2="672.50" y2="361.40" stroke="#a0a0a0" stroke-width="1.00" />
<rect x="688.03" y="288.35" width="10.20" height="70.05" fill="url(#cc9)" stroke="#444" stroke-width="0.5"/>
<text transform="translate(693.13,367.20) scale(0.870,1)" font-size="8.10" text-anchor="middle" fill="#3a3a3a" stroke="#3a3a3a" stroke-width="0.15">60</text>
<line x1="686.50" y1="358.40" x2="686.50" y2="361.40" stroke="#a0a0a0" stroke-width="1.00" />
<rect x="701.70" y="288.35" width="10.20" height="70.05" fill="url(#cc10)" stroke="#444" stroke-width="0.5"/>
<text transform="translate(706.80,367.20) scale(0.870,1)" font-size="8.10" text-anchor="middle" fill="#3a3a3a" stroke="#3a3a3a" stroke-width="0.15">70</text>
<line x1="699.50" y1="358.40" x2="699.50" y2="361.40" stroke="#a0a0a0" stroke-width="1.00" />
<rect x="715.37" y="287.38" width="10.20" height="71.02" fill="url(#cc11)" stroke="#444" stroke-width="0.5"/>
<text transform="translate(720.47,367.20) scale(0.870,1)" font-size="8.10" text-anchor="middle" fill="#3a3a3a" stroke="#3a3a3a" stroke-width="0.15">80</text>
<line x1="713.50" y1="358.40" x2="713.50" y2="361.40" stroke="#a0a0a0" stroke-width="1.00" />
<rect x="729.04" y="289.91" width="10.20" height="68.49" fill="url(#cc12)" stroke="#444" stroke-width="0.5"/>
<text transform="translate(734.14,367.20) scale(0.870,1)" font-size="8.10" text-anchor="middle" fill="#3a3a3a" stroke="#3a3a3a" stroke-width="0.15">90</text>
<line x1="727.50" y1="358.40" x2="727.50" y2="361.40" stroke="#a0a0a0" stroke-width="1.00" />
<rect x="742.71" y="288.16" width="10.20" height="70.24" fill="url(#cc13)" stroke="#444" stroke-width="0.5"/>
<text transform="translate(747.81,367.20) scale(0.870,1)" font-size="8.10" text-anchor="middle" fill="#3a3a3a" stroke="#3a3a3a" stroke-width="0.15">100</text>
<line x1="740.50" y1="358.40" x2="740.50" y2="361.40" stroke="#a0a0a0" stroke-width="1.00" />
<rect x="565.20" y="221.90" width="5.70" height="10.00" fill="#080808" />
<line x1="565.00" y1="289.50" x2="590.00" y2="289.50" stroke="rgba(200,160,90,0.5)" stroke-width="1.00" />
<rect x="571.00" y="210.00" width="173.00" height="11.80" fill="#fff" />
<text x="571.8" y="220.9" font-size="15.20" text-anchor="start" fill="#262626" stroke='#262626' stroke-width='0.3' textLength='122' lengthAdjust='spacingAndGlyphs'>CCTAverage: 6651</text>
<line x1="744.00" y1="222.50" x2="754.90" y2="222.50" stroke="#aaa" stroke-width="1.00" />
<line x1="34.30" y1="304.50" x2="284.40" y2="304.50" stroke="#a0a0a0" stroke-width="1.00" />
<line x1="34.30" y1="342.50" x2="284.40" y2="342.50" stroke="#a0a0a0" stroke-width="1.00" />
<line x1="34.30" y1="380.50" x2="284.40" y2="380.50" stroke="#a0a0a0" stroke-width="1.00" />
<line x1="34.30" y1="417.50" x2="284.40" y2="417.50" stroke="#a0a0a0" stroke-width="1.00" />
<line x1="34.30" y1="297.50" x2="284.40" y2="297.50" stroke="#d0d0d0" stroke-width="1.00" />
<line x1="284.50" y1="297.50" x2="284.50" y2="438.30" stroke="#d0d0d0" stroke-width="1.00" />
<line x1="34.30" y1="297.50" x2="34.30" y2="441.30" stroke="#c6c6c6" stroke-width="1.40" />
<line x1="34.30" y1="438.50" x2="284.40" y2="438.50" stroke="#a0a0a0" stroke-width="1.00" />
<line x1="31.30" y1="304.50" x2="34.30" y2="304.50" stroke="#a0a0a0" stroke-width="1.00" />
<text transform="translate(31.10,307.80) scale(0.870,1)" font-size="8.10" text-anchor="end" fill="#3a3a3a" stroke="#3a3a3a" stroke-width="0.15">2,5</text>
<line x1="31.30" y1="342.50" x2="34.30" y2="342.50" stroke="#a0a0a0" stroke-width="1.00" />
<text transform="translate(31.10,345.40) scale(0.870,1)" font-size="8.10" text-anchor="end" fill="#3a3a3a" stroke="#3a3a3a" stroke-width="0.15">2</text>
<line x1="31.30" y1="380.50" x2="34.30" y2="380.50" stroke="#a0a0a0" stroke-width="1.00" />
<text transform="translate(31.10,383.00) scale(0.870,1)" font-size="8.10" text-anchor="end" fill="#3a3a3a" stroke="#3a3a3a" stroke-width="0.15">1,5</text>
<line x1="31.30" y1="417.50" x2="34.30" y2="417.50" stroke="#a0a0a0" stroke-width="1.00" />
<text transform="translate(31.10,420.60) scale(0.870,1)" font-size="8.10" text-anchor="end" fill="#3a3a3a" stroke="#3a3a3a" stroke-width="0.15">1</text>
<text transform="translate(34.30,449.80) scale(0.870,1)" font-size="8.10" text-anchor="middle" fill="#3a3a3a" stroke="#3a3a3a" stroke-width="0.15">0</text>
<line x1="34.50" y1="438.30" x2="34.50" y2="441.30" stroke="#a0a0a0" stroke-width="1.00" />
<text transform="translate(59.31,449.80) scale(0.870,1)" font-size="8.10" text-anchor="middle" fill="#3a3a3a" stroke="#3a3a3a" stroke-width="0.15">10</text>
<line x1="59.50" y1="438.30" x2="59.50" y2="441.30" stroke="#a0a0a0" stroke-width="1.00" />
<text transform="translate(84.32,449.80) scale(0.870,1)" font-size="8.10" text-anchor="middle" fill="#3a3a3a" stroke="#3a3a3a" stroke-width="0.15">20</text>
<line x1="84.50" y1="438.30" x2="84.50" y2="441.30" stroke="#a0a0a0" stroke-width="1.00" />
<text transform="translate(109.33,449.80) scale(0.870,1)" font-size="8.10" text-anchor="middle" fill="#3a3a3a" stroke="#3a3a3a" stroke-width="0.15">30</text>
<line x1="109.50" y1="438.30" x2="109.50" y2="441.30" stroke="#a0a0a0" stroke-width="1.00" />
<text transform="translate(134.34,449.80) scale(0.870,1)" font-size="8.10" text-anchor="middle" fill="#3a3a3a" stroke="#3a3a3a" stroke-width="0.15">40</text>
<line x1="134.50" y1="438.30" x2="134.50" y2="441.30" stroke="#a0a0a0" stroke-width="1.00" />
<text transform="translate(159.35,449.80) scale(0.870,1)" font-size="8.10" text-anchor="middle" fill="#3a3a3a" stroke="#3a3a3a" stroke-width="0.15">50</text>
<line x1="159.50" y1="438.30" x2="159.50" y2="441.30" stroke="#a0a0a0" stroke-width="1.00" />
<text transform="translate(184.36,449.80) scale(0.870,1)" font-size="8.10" text-anchor="middle" fill="#3a3a3a" stroke="#3a3a3a" stroke-width="0.15">60</text>
<line x1="184.50" y1="438.30" x2="184.50" y2="441.30" stroke="#a0a0a0" stroke-width="1.00" />
<text transform="translate(209.37,449.80) scale(0.870,1)" font-size="8.10" text-anchor="middle" fill="#3a3a3a" stroke="#3a3a3a" stroke-width="0.15">70</text>
<line x1="209.50" y1="438.30" x2="209.50" y2="441.30" stroke="#a0a0a0" stroke-width="1.00" />
<text transform="translate(234.38,449.80) scale(0.870,1)" font-size="8.10" text-anchor="middle" fill="#3a3a3a" stroke="#3a3a3a" stroke-width="0.15">80</text>
<line x1="234.50" y1="438.30" x2="234.50" y2="441.30" stroke="#a0a0a0" stroke-width="1.00" />
<text transform="translate(259.39,449.80) scale(0.870,1)" font-size="8.10" text-anchor="middle" fill="#3a3a3a" stroke="#3a3a3a" stroke-width="0.15">90</text>
<line x1="259.50" y1="438.30" x2="259.50" y2="441.30" stroke="#a0a0a0" stroke-width="1.00" />
<text transform="translate(284.40,449.80) scale(0.870,1)" font-size="8.10" text-anchor="middle" fill="#3a3a3a" stroke="#3a3a3a" stroke-width="0.15">100</text>
<line x1="284.50" y1="438.30" x2="284.50" y2="441.30" stroke="#a0a0a0" stroke-width="1.00" />
<polyline points="34.3,422.9 34.8,397.2 35.3,379.6 35.8,370.2 36.3,362.9 36.8,357.1 37.4,352.3 37.9,347.9 38.4,343.8 38.9,340.1 39.4,336.8 39.9,334.0 40.4,331.7 40.9,329.8 41.4,328.1 41.9,326.6 42.4,325.1 42.9,323.9 43.5,322.8 44.0,321.8 44.5,321.0 45.0,320.4 45.5,319.8 46.0,319.3 46.5,318.8 47.0,318.4 47.5,318.0 48.0,317.6 48.5,317.2 49.1,316.9 49.6,316.6 50.1,316.3 50.6,316.1 51.1,315.8 51.6,315.6 52.1,315.4 52.6,315.2 53.1,315.0 53.6,314.8 54.1,314.7 54.6,314.5 55.2,314.3 55.7,314.2 56.2,314.0 56.7,313.9 57.2,313.7 57.7,313.6 58.2,313.5 58.7,313.4 59.2,313.3 59.7,313.2 60.2,313.1 60.8,313.1 61.3,313.1 61.8,313.0 62.3,313.0 62.8,313.0 63.3,312.9 63.8,312.9 64.3,312.9 66.8,312.7 74.3,312.5 81.8,312.3 89.3,312.3 96.8,312.3 104.3,312.3 111.8,312.3 119.3,312.3 126.8,312.3 134.3,312.3 141.8,312.3 149.3,312.3 156.8,312.3 164.4,312.3 171.9,312.3 179.4,312.3 186.9,312.3 194.4,312.3 201.9,312.3 209.4,312.3 216.9,312.3 224.4,312.3 231.9,312.3 239.4,312.3 246.9,312.3 254.4,312.3 261.9,312.3 269.4,312.3 276.9,312.3 284.4,312.3" fill="none" stroke="#c8a860" stroke-width="1.4"/>
<polyline points="34.3,423.6 46.8,300.3 59.3,301.0 71.8,305.6 84.3,310.1 96.8,313.8 109.3,310.1 134.3,310.1 159.3,310.1 184.4,309.3 209.4,310.1 234.4,311.6 259.4,311.6 284.4,311.6" fill="none" stroke="#808080" stroke-width="1.3"/>
<rect x="65.80" y="283.00" width="173.50" height="14.20" fill="#fff" />
<text x="66.8" y="297.0" font-size="15.20" text-anchor="start" fill="#262626" stroke='#262626' stroke-width='0.3' textLength='124.6' lengthAdjust='spacingAndGlyphs'>TotalGamma: 2,47</text>
<line x1="308.30" y1="308.50" x2="526.60" y2="308.50" stroke="#a0a0a0" stroke-width="1.00" />
<line x1="308.30" y1="327.50" x2="526.60" y2="327.50" stroke="#a0a0a0" stroke-width="1.00" />
<line x1="308.30" y1="365.50" x2="526.60" y2="365.50" stroke="#a0a0a0" stroke-width="1.00" />
<line x1="308.30" y1="384.50" x2="526.60" y2="384.50" stroke="#a0a0a0" stroke-width="1.00" />
<line x1="308.30" y1="403.50" x2="526.60" y2="403.50" stroke="#a0a0a0" stroke-width="1.00" />
<line x1="308.30" y1="422.50" x2="526.60" y2="422.50" stroke="#a0a0a0" stroke-width="1.00" />
<line x1="308.30" y1="346.50" x2="526.60" y2="346.50" stroke="#b87272" stroke-width="1.00" />
<line x1="308.30" y1="412.50" x2="526.60" y2="412.50" stroke="#ecec8c" stroke-width="1.00" />
<line x1="308.30" y1="431.50" x2="526.60" y2="431.50" stroke="#74b474" stroke-width="1.00" />
<line x1="308.30" y1="297.50" x2="328.50" y2="297.50" stroke="#b8b8b8" stroke-width="1.00" />
<line x1="526.50" y1="297.40" x2="526.50" y2="441.30" stroke="#d0d0d0" stroke-width="1.00" />
<line x1="308.30" y1="297.40" x2="308.30" y2="444.30" stroke="#c6c6c6" stroke-width="1.40" />
<line x1="305.30" y1="441.50" x2="526.60" y2="441.50" stroke="#a0a0a0" stroke-width="1.00" />
<line x1="305.30" y1="308.50" x2="308.30" y2="308.50" stroke="#a0a0a0" stroke-width="1.00" />
<text transform="translate(305.10,311.20) scale(0.870,1)" font-size="8.10" text-anchor="end" fill="#3a3a3a" stroke="#3a3a3a" stroke-width="0.15">14</text>
<line x1="305.30" y1="327.50" x2="308.30" y2="327.50" stroke="#a0a0a0" stroke-width="1.00" />
<text transform="translate(305.10,330.21) scale(0.870,1)" font-size="8.10" text-anchor="end" fill="#3a3a3a" stroke="#3a3a3a" stroke-width="0.15">12</text>
<line x1="305.30" y1="346.50" x2="308.30" y2="346.50" stroke="#a0a0a0" stroke-width="1.00" />
<text transform="translate(305.10,349.23) scale(0.870,1)" font-size="8.10" text-anchor="end" fill="#3a3a3a" stroke="#3a3a3a" stroke-width="0.15">10</text>
<line x1="305.30" y1="365.50" x2="308.30" y2="365.50" stroke="#a0a0a0" stroke-width="1.00" />
<text transform="translate(305.10,368.24) scale(0.870,1)" font-size="8.10" text-anchor="end" fill="#3a3a3a" stroke="#3a3a3a" stroke-width="0.15">8</text>
<line x1="305.30" y1="384.50" x2="308.30" y2="384.50" stroke="#a0a0a0" stroke-width="1.00" />
<text transform="translate(305.10,387.26) scale(0.870,1)" font-size="8.10" text-anchor="end" fill="#3a3a3a" stroke="#3a3a3a" stroke-width="0.15">6</text>
<line x1="305.30" y1="403.50" x2="308.30" y2="403.50" stroke="#a0a0a0" stroke-width="1.00" />
<text transform="translate(305.10,406.27) scale(0.870,1)" font-size="8.10" text-anchor="end" fill="#3a3a3a" stroke="#3a3a3a" stroke-width="0.15">4</text>
<line x1="305.30" y1="422.50" x2="308.30" y2="422.50" stroke="#a0a0a0" stroke-width="1.00" />
<text transform="translate(305.10,425.29) scale(0.870,1)" font-size="8.10" text-anchor="end" fill="#3a3a3a" stroke="#3a3a3a" stroke-width="0.15">2</text>
<line x1="305.30" y1="441.50" x2="308.30" y2="441.50" stroke="#a0a0a0" stroke-width="1.00" />
<text transform="translate(305.10,444.30) scale(0.870,1)" font-size="8.10" text-anchor="end" fill="#3a3a3a" stroke="#3a3a3a" stroke-width="0.15">0</text>
<rect x="310.20" y="435.88" width="11.80" height="5.42" fill="url(#ee0)" stroke="#333" stroke-width="0.6"/>
<text transform="translate(316.10,450.30) scale(0.870,1)" font-size="8.10" text-anchor="middle" fill="#3a3a3a" stroke="#3a3a3a" stroke-width="0.15">0</text>
<line x1="308.50" y1="441.30" x2="308.50" y2="444.30" stroke="#a0a0a0" stroke-width="1.00" />
<rect x="325.79" y="435.03" width="11.80" height="6.27" fill="url(#ee1)" stroke="#333" stroke-width="0.6"/>
<text transform="translate(331.69,450.30) scale(0.870,1)" font-size="8.10" text-anchor="middle" fill="#3a3a3a" stroke="#3a3a3a" stroke-width="0.15">5</text>
<line x1="323.50" y1="441.30" x2="323.50" y2="444.30" stroke="#a0a0a0" stroke-width="1.00" />
<rect x="341.38" y="428.09" width="11.80" height="13.21" fill="url(#ee2)" stroke="#333" stroke-width="0.6"/>
<text transform="translate(347.28,450.30) scale(0.870,1)" font-size="8.10" text-anchor="middle" fill="#3a3a3a" stroke="#3a3a3a" stroke-width="0.15">10</text>
<line x1="339.50" y1="441.30" x2="339.50" y2="444.30" stroke="#a0a0a0" stroke-width="1.00" />
<rect x="356.98" y="421.91" width="11.80" height="19.39" fill="url(#ee3)" stroke="#333" stroke-width="0.6"/>
<text transform="translate(362.88,450.30) scale(0.870,1)" font-size="8.10" text-anchor="middle" fill="#3a3a3a" stroke="#3a3a3a" stroke-width="0.15">15</text>
<line x1="355.50" y1="441.30" x2="355.50" y2="444.30" stroke="#a0a0a0" stroke-width="1.00" />
<rect x="372.57" y="433.12" width="11.80" height="8.18" fill="url(#ee4)" stroke="#333" stroke-width="0.6"/>
<text transform="translate(378.47,450.30) scale(0.870,1)" font-size="8.10" text-anchor="middle" fill="#3a3a3a" stroke="#3a3a3a" stroke-width="0.15">20</text>
<line x1="370.50" y1="441.30" x2="370.50" y2="444.30" stroke="#a0a0a0" stroke-width="1.00" />
<rect x="388.16" y="426.09" width="11.80" height="15.21" fill="url(#ee5)" stroke="#333" stroke-width="0.6"/>
<text transform="translate(394.06,450.30) scale(0.870,1)" font-size="8.10" text-anchor="middle" fill="#3a3a3a" stroke="#3a3a3a" stroke-width="0.15">25</text>
<line x1="386.50" y1="441.30" x2="386.50" y2="444.30" stroke="#a0a0a0" stroke-width="1.00" />
<rect x="403.75" y="422.95" width="11.80" height="18.35" fill="url(#ee6)" stroke="#333" stroke-width="0.6"/>
<text transform="translate(409.65,450.30) scale(0.870,1)" font-size="8.10" text-anchor="middle" fill="#3a3a3a" stroke="#3a3a3a" stroke-width="0.15">30</text>
<line x1="401.50" y1="441.30" x2="401.50" y2="444.30" stroke="#a0a0a0" stroke-width="1.00" />
<rect x="419.35" y="434.17" width="11.80" height="7.13" fill="url(#ee7)" stroke="#333" stroke-width="0.6"/>
<text transform="translate(425.25,450.30) scale(0.870,1)" font-size="8.10" text-anchor="middle" fill="#3a3a3a" stroke="#3a3a3a" stroke-width="0.15">40</text>
<line x1="417.50" y1="441.30" x2="417.50" y2="444.30" stroke="#a0a0a0" stroke-width="1.00" />
<rect x="434.94" y="433.12" width="11.80" height="8.18" fill="url(#ee8)" stroke="#333" stroke-width="0.6"/>
<text transform="translate(440.84,450.30) scale(0.870,1)" font-size="8.10" text-anchor="middle" fill="#3a3a3a" stroke="#3a3a3a" stroke-width="0.15">50</text>
<line x1="433.50" y1="441.30" x2="433.50" y2="444.30" stroke="#a0a0a0" stroke-width="1.00" />
<rect x="450.53" y="427.23" width="11.80" height="14.07" fill="url(#ee9)" stroke="#333" stroke-width="0.6"/>
<text transform="translate(456.43,450.30) scale(0.870,1)" font-size="8.10" text-anchor="middle" fill="#3a3a3a" stroke="#3a3a3a" stroke-width="0.15">60</text>
<line x1="448.50" y1="441.30" x2="448.50" y2="444.30" stroke="#a0a0a0" stroke-width="1.00" />
<rect x="466.12" y="436.17" width="11.80" height="5.13" fill="url(#ee10)" stroke="#333" stroke-width="0.6"/>
<text transform="translate(472.02,450.30) scale(0.870,1)" font-size="8.10" text-anchor="middle" fill="#3a3a3a" stroke="#3a3a3a" stroke-width="0.15">70</text>
<line x1="464.50" y1="441.30" x2="464.50" y2="444.30" stroke="#a0a0a0" stroke-width="1.00" />
<rect x="481.72" y="425.33" width="11.80" height="15.97" fill="url(#ee11)" stroke="#333" stroke-width="0.6"/>
<text transform="translate(487.62,450.30) scale(0.870,1)" font-size="8.10" text-anchor="middle" fill="#3a3a3a" stroke="#3a3a3a" stroke-width="0.15">80</text>
<line x1="479.50" y1="441.30" x2="479.50" y2="444.30" stroke="#a0a0a0" stroke-width="1.00" />
<rect x="497.31" y="438.45" width="11.80" height="2.85" fill="url(#ee12)" stroke="#333" stroke-width="0.6"/>
<text transform="translate(503.21,450.30) scale(0.870,1)" font-size="8.10" text-anchor="middle" fill="#3a3a3a" stroke="#3a3a3a" stroke-width="0.15">90</text>
<line x1="495.50" y1="441.30" x2="495.50" y2="444.30" stroke="#a0a0a0" stroke-width="1.00" />
<rect x="512.90" y="432.27" width="11.80" height="9.03" fill="url(#ee13)" stroke="#333" stroke-width="0.6"/>
<text transform="translate(518.80,450.30) scale(0.870,1)" font-size="8.10" text-anchor="middle" fill="#3a3a3a" stroke="#3a3a3a" stroke-width="0.15">100</text>
<line x1="511.50" y1="441.30" x2="511.50" y2="444.30" stroke="#a0a0a0" stroke-width="1.00" />
<line x1="308.30" y1="431.50" x2="526.60" y2="431.50" stroke="rgba(80,160,80,0.4)" stroke-width="1.00" />
<line x1="308.30" y1="422.50" x2="526.60" y2="422.50" stroke="rgba(150,150,150,0.45)" stroke-width="1.00" />
<text x="329.5" y="297.0" font-size="15.20" text-anchor="start" fill="#262626" stroke='#262626' stroke-width='0.3' textLength='174.8' lengthAdjust='spacingAndGlyphs'>Average DeltaE2000: 1,17</text>
<rect x="18.90" y="455.40" width="6.80" height="15.40" fill="#000" />
<rect x="26.20" y="456.80" width="488.10" height="13.50" fill="url(#th)" />
<line x1="58.50" y1="456.80" x2="58.50" y2="470.30" stroke="#fff" stroke-width="1.00" />
<text transform="translate(63.20,466.30) scale(0.920,1)" font-size="8.00" text-anchor="start" fill="#3a3a3a" stroke="#3a3a3a" stroke-width="0.15">0</text>
<line x1="58.20" y1="471.30" x2="58.20" y2="481.30" stroke="#555" stroke-width="0.90" />
<text x="60.5" y="480.6" font-size="8.10" text-anchor="start" fill="#555" textLength='24.3' lengthAdjust='spacingAndGlyphs'>0,0511</text>
<line x1="87.50" y1="456.80" x2="87.50" y2="470.30" stroke="#fff" stroke-width="1.00" />
<text transform="translate(92.00,466.30) scale(0.920,1)" font-size="8.00" text-anchor="start" fill="#3a3a3a" stroke="#3a3a3a" stroke-width="0.15">5</text>
<line x1="87.00" y1="471.30" x2="87.00" y2="481.30" stroke="#555" stroke-width="0.90" />
<text x="89.3" y="480.6" font-size="8.10" text-anchor="start" fill="#555" textLength='25.0' lengthAdjust='spacingAndGlyphs'>0,1029</text>
<line x1="116.50" y1="456.80" x2="116.50" y2="470.30" stroke="#fff" stroke-width="1.00" />
<text transform="translate(121.50,466.30) scale(0.920,1)" font-size="8.00" text-anchor="start" fill="#3a3a3a" stroke="#3a3a3a" stroke-width="0.15">10</text>
<line x1="116.50" y1="471.30" x2="116.50" y2="481.30" stroke="#555" stroke-width="0.90" />
<text x="118.8" y="480.6" font-size="8.10" text-anchor="start" fill="#555" textLength='24.7' lengthAdjust='spacingAndGlyphs'>0,6130</text>
<line x1="146.50" y1="456.80" x2="146.50" y2="470.30" stroke="#fff" stroke-width="1.00" />
<text transform="translate(150.70,466.30) scale(0.920,1)" font-size="8.00" text-anchor="start" fill="#3a3a3a" stroke="#3a3a3a" stroke-width="0.15">15</text>
<line x1="145.70" y1="471.30" x2="145.70" y2="481.30" stroke="#555" stroke-width="0.90" />
<text x="148.0" y="480.6" font-size="8.10" text-anchor="start" fill="#555" textLength='25.5' lengthAdjust='spacingAndGlyphs'>1,9315</text>
<line x1="176.50" y1="456.80" x2="176.50" y2="470.30" stroke="#fff" stroke-width="1.00" />
<text transform="translate(180.70,466.30) scale(0.920,1)" font-size="8.00" text-anchor="start" fill="#3a3a3a" stroke="#3a3a3a" stroke-width="0.15">20</text>
<line x1="175.70" y1="471.30" x2="175.70" y2="481.30" stroke="#555" stroke-width="0.90" />
<text x="178.0" y="480.6" font-size="8.10" text-anchor="start" fill="#555" textLength='24.1' lengthAdjust='spacingAndGlyphs'>4,3467</text>
<line x1="204.50" y1="456.80" x2="204.50" y2="470.30" stroke="#fff" stroke-width="1.00" />
<text transform="translate(209.30,466.30) scale(0.920,1)" font-size="8.00" text-anchor="start" fill="#3a3a3a" stroke="#3a3a3a" stroke-width="0.15">25</text>
<line x1="204.30" y1="471.30" x2="204.30" y2="481.30" stroke="#555" stroke-width="0.90" />
<text x="206.6" y="480.6" font-size="8.10" text-anchor="start" fill="#555" textLength='24.1' lengthAdjust='spacingAndGlyphs'>8,0876</text>
<line x1="233.50" y1="456.80" x2="233.50" y2="470.30" stroke="#fff" stroke-width="1.00" />
<text transform="translate(237.90,466.30) scale(0.920,1)" font-size="8.00" text-anchor="start" fill="#3a3a3a" stroke="#3a3a3a" stroke-width="0.15">30</text>
<line x1="232.90" y1="471.30" x2="232.90" y2="481.30" stroke="#555" stroke-width="0.90" />
<text x="235.2" y="480.6" font-size="8.10" text-anchor="start" fill="#555" textLength='29.7' lengthAdjust='spacingAndGlyphs'>11,7579</text>
<line x1="267.50" y1="456.80" x2="267.50" y2="470.30" stroke="#fff" stroke-width="1.00" />
<text transform="translate(272.10,466.30) scale(0.920,1)" font-size="8.00" text-anchor="start" fill="#3a3a3a" stroke="#3a3a3a" stroke-width="0.15">40</text>
<line x1="267.10" y1="471.30" x2="267.10" y2="481.30" stroke="#555" stroke-width="0.90" />
<text x="269.4" y="480.6" font-size="8.10" text-anchor="start" fill="#555" textLength='29.0' lengthAdjust='spacingAndGlyphs'>23,4161</text>
<line x1="301.50" y1="456.80" x2="301.50" y2="470.30" stroke="#fff" stroke-width="1.00" />
<text transform="translate(305.60,466.30) scale(0.920,1)" font-size="8.00" text-anchor="start" fill="#3a3a3a" stroke="#3a3a3a" stroke-width="0.15">50</text>
<line x1="300.60" y1="471.30" x2="300.60" y2="481.30" stroke="#555" stroke-width="0.90" />
<text x="302.9" y="480.6" font-size="8.10" text-anchor="start" fill="#555" textLength='27.8' lengthAdjust='spacingAndGlyphs'>40,2520</text>
<line x1="333.50" y1="456.80" x2="333.50" y2="470.30" stroke="#fff" stroke-width="1.00" />
<text transform="translate(337.90,466.30) scale(0.920,1)" font-size="8.00" text-anchor="start" fill="#3a3a3a" stroke="#3a3a3a" stroke-width="0.15">60</text>
<line x1="332.90" y1="471.30" x2="332.90" y2="481.30" stroke="#555" stroke-width="0.90" />
<text x="335.2" y="480.6" font-size="8.10" text-anchor="start" fill="#555" textLength='29.7' lengthAdjust='spacingAndGlyphs'>61,2620</text>
<line x1="367.50" y1="456.80" x2="367.50" y2="470.30" stroke="#fff" stroke-width="1.00" />
<text transform="translate(372.10,466.30) scale(0.920,1)" font-size="8.00" text-anchor="start" fill="#3a3a3a" stroke="#3a3a3a" stroke-width="0.15">70</text>
<line x1="367.10" y1="471.30" x2="367.10" y2="481.30" stroke="#555" stroke-width="0.90" />
<text x="369.4" y="480.6" font-size="8.10" text-anchor="start" fill="#555" textLength='29.3' lengthAdjust='spacingAndGlyphs'>89,6312</text>
<line x1="401.50" y1="456.80" x2="401.50" y2="470.30" stroke="#fff" stroke-width="1.00" />
<text transform="translate(405.90,466.30) scale(0.920,1)" font-size="8.00" text-anchor="start" fill="#3a3a3a" stroke="#3a3a3a" stroke-width="0.15">80</text>
<line x1="400.90" y1="471.30" x2="400.90" y2="481.30" stroke="#555" stroke-width="0.90" />
<text x="403.2" y="480.6" font-size="8.10" text-anchor="start" fill="#555" textLength='32.6' lengthAdjust='spacingAndGlyphs'>124,6213</text>
<line x1="438.50" y1="456.80" x2="438.50" y2="470.30" stroke="#fff" stroke-width="1.00" />
<text transform="translate(443.00,466.30) scale(0.920,1)" font-size="8.00" text-anchor="start" fill="#3a3a3a" stroke="#3a3a3a" stroke-width="0.15">90</text>
<line x1="438.00" y1="471.30" x2="438.00" y2="481.30" stroke="#555" stroke-width="0.90" />
<text x="440.3" y="480.6" font-size="8.10" text-anchor="start" fill="#555" textLength='33.8' lengthAdjust='spacingAndGlyphs'>165,6693</text>
<text transform="translate(481.30,466.30) scale(0.920,1)" font-size="8.00" text-anchor="start" fill="#3a3a3a" stroke="#3a3a3a" stroke-width="0.15">100</text>
<line x1="476.30" y1="471.30" x2="476.30" y2="481.30" stroke="#555" stroke-width="0.90" />
<text x="478.6" y="480.6" font-size="8.10" text-anchor="start" fill="#555" textLength='33.4' lengthAdjust='spacingAndGlyphs'>213,6953</text>
<line x1="514.30" y1="471.30" x2="514.30" y2="481.30" stroke="#555" stroke-width="0.90" />
<text x="27.9" y="480.6" font-size="8.10" text-anchor="start" fill="#555" >Y cd/m<tspan font-size="5" dy="-3">2</tspan></text>
<text x="551.6" y="393.8" font-size="15.00" text-anchor="start" fill="#262626" stroke='#262626' stroke-width='0.3' textLength='126.4' lengthAdjust='spacingAndGlyphs'>Manufacturer: TCL</text>
<text x="551.6" y="414.5" font-size="15.00" text-anchor="start" fill="#262626" stroke='#262626' stroke-width='0.3' textLength='111.4' lengthAdjust='spacingAndGlyphs'>Model: 55EP680</text>
<text x="644.2" y="467.0" font-size="19.60" text-anchor="start" fill="#444" textLength='96.2' lengthAdjust='spacingAndGlyphs'>SpectraCal</text>
<rect x="639.30" y="471.30" width="106.30" height="1.80" fill="url(#rb)" />
<text x="641.8" y="501.6" font-size="23.00" text-anchor="start" fill="url(#cm)" font-weight='bold' textLength='85.2' lengthAdjust='spacingAndGlyphs'>CalMAN</text>
<text x="731.5" y="501.6" font-size="23.00" text-anchor="start" fill="#c01010" font-weight='bold' textLength='15' lengthAdjust='spacingAndGlyphs'>5</text>
</svg></body></html>
